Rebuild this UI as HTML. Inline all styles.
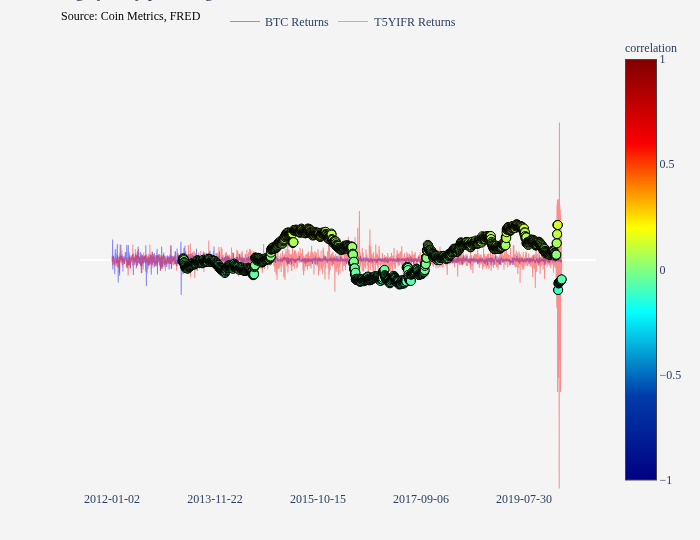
<!DOCTYPE html>
<html lang="en"><head><meta charset="utf-8"><title>BTC vs T5YIFR rolling correlation</title>
<style>
html,body{margin:0;padding:0;background:#f4f4f4;}
body{width:700px;height:540px;overflow:hidden;position:relative;font-family:"Liberation Serif","Times New Roman",serif;}
</style></head><body>
<svg width="700" height="540" viewBox="0 0 700 540" style="position:absolute;left:0;top:0">
<defs><linearGradient id="jet" x1="0" y1="1" x2="0" y2="0"><stop offset="0" stop-color="rgb(0,0,131)"/><stop offset="0.2" stop-color="rgb(0,60,170)"/><stop offset="0.4" stop-color="rgb(5,255,255)"/><stop offset="0.6" stop-color="rgb(255,255,0)"/><stop offset="0.8" stop-color="rgb(250,0,0)"/><stop offset="1" stop-color="rgb(128,0,0)"/></linearGradient></defs>
<rect x="80" y="259" width="516" height="2" fill="#ffffff"/>
<g opacity="0.45"><polyline points="112.0,260.3 112.2,260.7 112.4,260.0 112.6,239.6 112.8,269.4 113.0,262.0 113.2,259.8 113.4,255.6 113.6,257.4 113.9,257.5 114.1,259.9 114.3,260.9 114.5,260.5 114.7,274.3 114.9,260.2 115.1,254.8 115.3,248.9 115.5,259.9 115.7,253.7 115.9,256.5 116.1,255.5 116.3,262.6 116.5,255.5 116.7,263.4 116.9,258.3 117.2,247.1 117.4,243.9 117.6,261.9 117.8,261.6 118.0,263.1 118.2,282.6 118.4,261.1 118.6,261.2 118.8,259.6 119.0,260.5 119.2,258.8 119.4,256.7 119.6,275.8 119.8,253.1 120.0,261.0 120.2,244.4 120.4,260.6 120.7,256.5 120.9,258.2 121.1,258.3 121.3,256.1 121.5,259.9 121.7,258.5 121.9,254.4 122.1,262.5 122.3,256.1 122.5,261.6 122.7,257.8 122.9,271.5 123.1,260.3 123.3,260.9 123.5,256.4 123.7,257.2 123.9,256.9 124.2,260.6 124.4,262.7 124.6,263.9 124.8,258.2 125.0,260.3 125.2,254.2 125.4,252.0 125.6,256.9 125.8,257.6 126.0,254.4 126.2,253.6 126.4,261.9 126.6,251.8 126.8,244.9 127.0,268.3 127.2,260.6 127.5,258.8 127.7,262.4 127.9,257.2 128.1,265.6 128.3,244.9 128.5,255.3 128.7,259.4 128.9,252.1 129.1,265.0 129.3,254.2 129.5,257.3 129.7,260.8 129.9,261.9 130.1,263.5 130.3,261.1 130.5,267.8 130.7,258.2 131.0,260.5 131.2,262.9 131.4,258.8 131.6,256.8 131.8,258.2 132.0,257.6 132.2,255.9 132.4,257.9 132.6,254.4 132.8,261.2 133.0,254.2 133.2,267.2 133.4,275.0 133.6,263.8 133.8,259.1 134.0,257.8 134.2,264.2 134.5,260.5 134.7,265.1 134.9,257.3 135.1,263.6 135.3,257.0 135.5,260.6 135.7,253.7 135.9,257.5 136.1,261.6 136.3,258.2 136.5,255.1 136.7,267.3 136.9,258.8 137.1,264.2 137.3,251.3 137.5,265.1 137.8,261.6 138.0,254.4 138.2,246.6 138.4,262.9 138.6,256.0 138.8,257.6 139.0,261.9 139.2,258.6 139.4,264.2 139.6,256.7 139.8,260.9 140.0,263.6 140.2,261.0 140.4,252.1 140.6,265.9 140.8,260.0 141.0,256.6 141.3,273.2 141.5,253.7 141.7,266.4 141.9,257.6 142.1,265.4 142.3,259.7 142.5,255.1 142.7,260.4 142.9,261.0 143.1,261.7 143.3,263.5 143.5,256.7 143.7,261.5 143.9,262.4 144.1,256.8 144.3,256.5 144.5,256.4 144.8,262.4 145.0,262.6 145.2,256.9 145.4,255.1 145.6,271.6 145.8,245.2 146.0,260.4 146.2,257.0 146.4,286.0 146.6,260.2 146.8,259.1 147.0,273.6 147.2,267.8 147.4,259.1 147.6,263.4 147.8,263.5 148.1,258.0 148.3,256.8 148.5,265.4 148.7,258.5 148.9,259.7 149.1,258.8 149.3,259.3 149.5,257.7 149.7,262.4 149.9,264.2 150.1,258.5 150.3,255.0 150.5,260.0 150.7,254.6 150.9,257.6 151.1,264.1 151.3,274.7 151.6,261.1 151.8,256.1 152.0,262.5 152.2,252.0 152.4,252.7 152.6,265.1 152.8,262.4 153.0,255.0 153.2,254.0 153.4,262.8 153.6,259.6 153.8,257.7 154.0,261.2 154.2,257.8 154.4,253.1 154.6,267.3 154.8,257.6 155.1,256.3 155.3,255.2 155.5,260.7 155.7,257.0 155.9,265.5 156.1,258.9 156.3,263.6 156.5,255.7 156.7,257.5 156.9,253.0 157.1,248.8 157.3,262.3 157.5,274.6 157.7,255.5 157.9,256.2 158.1,262.7 158.3,261.5 158.6,257.5 158.8,260.1 159.0,254.2 159.2,258.8 159.4,262.9 159.6,265.5 159.8,259.2 160.0,258.9 160.2,261.4 160.4,270.2 160.6,261.5 160.8,257.2 161.0,261.0 161.2,268.8 161.4,257.4 161.6,246.6 161.9,261.6 162.1,261.1 162.3,268.8 162.5,260.1 162.7,257.6 162.9,258.3 163.1,256.3 163.3,256.6 163.5,254.1 163.7,258.2 163.9,263.7 164.1,255.6 164.3,259.7 164.5,257.8 164.7,264.9 164.9,260.7 165.1,255.9 165.4,262.6 165.6,260.1 165.8,258.2 166.0,265.1 166.2,262.3 166.4,265.8 166.6,263.8 166.8,267.0 167.0,260.3 167.2,256.1 167.4,262.3 167.6,260.1 167.8,262.2 168.0,259.8 168.2,257.5 168.4,256.4 168.7,262.2 168.9,264.3 169.1,269.4 169.3,261.4 169.5,264.6 169.7,257.0 169.9,258.7 170.1,256.0 170.3,263.9 170.5,260.7 170.7,258.3 170.9,245.6 171.1,259.2 171.3,269.1 171.5,258.8 171.7,258.4 171.9,262.0 172.2,255.7 172.4,260.0 172.6,261.9 172.8,257.2 173.0,257.0 173.2,260.7 173.4,259.5 173.6,259.1 173.8,260.6 174.0,260.6 174.2,256.7 174.4,257.6 174.6,261.4 174.8,263.7 175.0,264.5 175.2,251.6 175.4,263.6 175.7,262.4 175.9,259.8 176.1,261.5 176.3,262.7 176.5,265.9 176.7,256.3 176.9,261.9 177.1,248.6 177.3,257.7 177.5,263.8 177.7,262.7 177.9,256.5 178.1,258.9 178.3,260.7 178.5,255.1 178.7,262.8 178.9,259.6 179.2,260.4 179.4,261.0 179.6,266.0 179.8,260.0 180.0,258.7 180.2,265.8 180.4,255.0 180.6,258.1 180.8,246.6 181.0,241.7 181.2,295.0 181.4,261.5 181.6,261.3 181.8,259.4 182.0,257.2 182.2,257.2 182.5,261.4 182.7,260.9 182.9,274.5 183.1,257.3 183.3,258.2 183.5,256.4 183.7,264.6 183.9,247.9 184.1,262.5 184.3,264.8 184.5,259.4 184.7,262.4 184.9,245.8 185.1,258.6 185.3,254.2 185.5,261.4 185.7,259.9 186.0,257.2 186.2,263.2 186.4,261.1 186.6,258.1 186.8,254.9 187.0,254.9 187.2,259.3 187.4,267.0 187.6,257.5 187.8,261.3 188.0,258.1 188.2,262.6 188.4,261.4 188.6,259.2 188.8,254.1 189.0,258.3 189.2,263.8 189.5,257.6 189.7,261.9 189.9,258.4 190.1,254.1 190.3,261.3 190.5,262.6 190.7,258.1 190.9,258.8 191.1,260.8 191.3,258.1 191.5,261.0 191.7,259.3 191.9,252.9 192.1,259.5 192.3,258.2 192.5,257.5 192.8,261.1 193.0,255.8 193.2,264.2 193.4,263.1 193.6,260.3 193.8,255.5 194.0,257.9 194.2,262.5 194.4,259.2 194.6,257.7 194.8,259.7 195.0,261.3 195.2,260.6 195.4,261.7 195.6,253.6 195.8,259.2 196.0,257.9 196.3,259.9 196.5,248.8 196.7,259.3 196.9,256.4 197.1,263.6 197.3,271.0 197.5,264.3 197.7,262.0 197.9,256.4 198.1,262.4 198.3,258.5 198.5,261.5 198.7,257.7 198.9,258.5 199.1,261.1 199.3,264.2 199.6,259.7 199.8,265.3 200.0,266.5 200.2,256.9 200.4,259.9 200.6,257.7 200.8,259.6 201.0,258.7 201.2,259.4 201.4,262.2 201.6,262.2 201.8,260.6 202.0,260.0 202.2,260.2 202.4,260.3 202.6,261.3 202.8,259.9 203.1,263.2 203.3,251.4 203.5,261.8 203.7,264.0 203.9,260.4 204.1,256.7 204.3,263.1 204.5,259.2 204.7,253.2 204.9,259.5 205.1,261.3 205.3,260.8 205.5,262.8 205.7,263.8 205.9,260.7 206.1,255.5 206.3,252.9 206.6,260.4 206.8,261.5 207.0,253.5 207.2,258.6 207.4,261.0 207.6,255.7 207.8,255.6 208.0,259.5 208.2,260.5 208.4,258.9 208.6,254.9 208.8,260.0 209.0,257.1 209.2,261.4 209.4,259.8 209.6,260.5 209.8,261.4 210.1,250.7 210.3,261.8 210.5,262.7 210.7,262.3 210.9,262.8 211.1,258.6 211.3,261.9 211.5,260.6 211.7,257.9 211.9,259.8 212.1,258.8 212.3,258.8 212.5,260.2 212.7,262.2 212.9,259.3 213.1,260.7 213.4,251.3 213.6,260.2 213.8,262.4 214.0,246.4 214.2,261.0 214.4,256.8 214.6,257.9 214.8,259.8 215.0,257.2 215.2,257.4 215.4,265.4 215.6,258.1 215.8,268.8 216.0,257.0 216.2,260.9 216.4,257.6 216.6,260.3 216.9,257.9 217.1,260.1 217.3,259.7 217.5,257.4 217.7,261.0 217.9,263.0 218.1,258.8 218.3,261.8 218.5,260.1 218.7,259.9 218.9,268.5 219.1,255.6 219.3,258.6 219.5,251.6 219.7,259.4 219.9,259.5 220.1,267.5 220.4,260.7 220.6,263.5 220.8,262.5 221.0,259.1 221.2,262.6 221.4,263.2 221.6,260.9 221.8,260.4 222.0,261.0 222.2,257.1 222.4,258.4 222.6,260.6 222.8,261.0 223.0,255.0 223.2,259.4 223.4,259.7 223.7,259.7 223.9,261.3 224.1,260.2 224.3,260.3 224.5,257.3 224.7,258.0 224.9,260.6 225.1,257.0 225.3,261.3 225.5,258.7 225.7,255.7 225.9,261.2 226.1,258.7 226.3,258.4 226.5,258.7 226.7,260.1 226.9,265.0 227.2,256.1 227.4,259.9 227.6,258.7 227.8,261.7 228.0,258.0 228.2,255.5 228.4,266.7 228.6,258.0 228.8,259.9 229.0,257.5 229.2,258.0 229.4,259.1 229.6,261.5 229.8,261.5 230.0,258.9 230.2,260.9 230.4,259.3 230.7,260.2 230.9,260.6 231.1,261.1 231.3,258.9 231.5,259.2 231.7,260.9 231.9,260.1 232.1,258.6 232.3,263.0 232.5,259.2 232.7,261.3 232.9,260.3 233.1,262.1 233.3,252.7 233.5,263.5 233.7,258.8 234.0,257.8 234.2,260.2 234.4,263.8 234.6,260.8 234.8,257.9 235.0,259.2 235.2,262.2 235.4,257.6 235.6,259.6 235.8,259.5 236.0,263.6 236.2,259.5 236.4,266.0 236.6,256.7 236.8,258.6 237.0,261.6 237.2,261.0 237.5,257.1 237.7,261.0 237.9,261.0 238.1,259.0 238.3,260.3 238.5,260.4 238.7,259.2 238.9,259.0 239.1,258.9 239.3,259.5 239.5,253.9 239.7,259.9 239.9,257.6 240.1,260.1 240.3,259.5 240.5,258.3 240.8,263.6 241.0,266.6 241.2,262.0 241.4,257.8 241.6,261.9 241.8,260.3 242.0,259.9 242.2,257.3 242.4,259.8 242.6,262.1 242.8,260.8 243.0,259.3 243.2,258.9 243.4,259.3 243.6,260.8 243.8,266.4 244.0,258.4 244.3,259.9 244.5,259.4 244.7,258.8 244.9,260.5 245.1,260.8 245.3,254.0 245.5,258.4 245.7,261.7 245.9,260.4 246.1,260.7 246.3,257.8 246.5,258.3 246.7,260.6 246.9,259.2 247.1,258.3 247.3,260.0 247.5,261.3 247.8,258.5 248.0,261.5 248.2,260.9 248.4,256.4 248.6,260.0 248.8,259.9 249.0,260.8 249.2,260.9 249.4,258.1 249.6,258.1 249.8,261.4 250.0,260.1 250.2,260.5 250.4,260.4 250.6,262.1 250.8,258.3 251.0,261.4 251.3,258.8 251.5,262.6 251.7,261.8 251.9,258.1 252.1,260.5 252.3,259.6 252.5,259.6 252.7,260.0 252.9,256.0 253.1,258.7 253.3,260.8 253.5,261.1 253.7,259.2 253.9,258.1 254.1,263.0 254.3,261.4 254.6,260.4 254.8,258.6 255.0,259.2 255.2,260.3 255.4,258.7 255.6,262.0 255.8,260.1 256.0,260.5 256.2,258.7 256.4,256.7 256.6,259.0 256.8,260.3 257.0,259.6 257.2,259.6 257.4,260.3 257.6,260.2 257.8,261.8 258.1,259.7 258.3,256.4 258.5,259.9 258.7,261.7 258.9,259.3 259.1,260.0 259.3,259.5 259.5,260.4 259.7,260.3 259.9,259.0 260.1,259.7 260.3,261.1 260.5,261.3 260.7,261.0 260.9,262.7 261.1,259.6 261.4,259.5 261.6,261.1 261.8,258.6 262.0,259.9 262.2,257.8 262.4,259.5 262.6,259.1 262.8,258.6 263.0,260.6 263.2,259.1 263.4,259.5 263.6,259.1 263.8,257.5 264.0,261.6 264.2,259.4 264.4,260.2 264.6,258.5 264.9,259.4 265.1,259.6 265.3,259.6 265.5,258.0 265.7,260.1 265.9,261.8 266.1,259.8 266.3,259.8 266.5,259.5 266.7,262.9 266.9,261.8 267.1,260.6 267.3,260.8 267.5,259.2 267.7,259.8 267.9,260.2 268.1,260.3 268.4,259.0 268.6,259.1 268.8,260.5 269.0,260.3 269.2,257.6 269.4,260.2 269.6,261.4 269.8,259.2 270.0,260.2 270.2,258.3 270.4,260.9 270.6,258.7 270.8,258.6 271.0,259.6 271.2,264.8 271.4,259.3 271.6,258.6 271.9,260.5 272.1,260.2 272.3,261.8 272.5,258.5 272.7,258.2 272.9,259.6 273.1,260.4 273.3,261.0 273.5,261.2 273.7,258.3 273.9,259.1 274.1,259.8 274.3,260.9 274.5,260.5 274.7,258.6 274.9,258.8 275.2,260.9 275.4,261.0 275.6,263.0 275.8,259.8 276.0,261.7 276.2,256.2 276.4,258.2 276.6,259.2 276.8,258.5 277.0,259.0 277.2,259.4 277.4,259.9 277.6,259.5 277.8,260.7 278.0,259.9 278.2,260.0 278.4,261.6 278.7,260.3 278.9,260.1 279.1,259.9 279.3,260.0 279.5,260.6 279.7,259.1 279.9,261.2 280.1,261.7 280.3,261.2 280.5,259.4 280.7,258.3 280.9,259.5 281.1,260.1 281.3,260.9 281.5,259.8 281.7,259.6 281.9,261.6 282.2,259.3 282.4,261.1 282.6,260.9 282.8,258.6 283.0,260.3 283.2,259.4 283.4,257.1 283.6,258.0 283.8,258.3 284.0,260.4 284.2,259.6 284.4,260.3 284.6,256.8 284.8,259.6 285.0,259.1 285.2,258.3 285.5,258.2 285.7,260.4 285.9,260.1 286.1,259.0 286.3,259.9 286.5,260.7 286.7,261.9 286.9,257.3 287.1,260.6 287.3,264.5 287.5,260.0 287.7,261.5 287.9,257.3 288.1,264.1 288.3,260.0 288.5,258.0 288.7,260.8 289.0,261.1 289.2,263.4 289.4,261.2 289.6,259.8 289.8,259.2 290.0,259.5 290.2,259.9 290.4,260.4 290.6,259.5 290.8,260.0 291.0,260.9 291.2,260.3 291.4,264.4 291.6,262.2 291.8,258.8 292.0,258.3 292.2,258.6 292.5,258.8 292.7,260.5 292.9,259.0 293.1,258.9 293.3,259.7 293.5,260.8 293.7,259.6 293.9,259.6 294.1,260.9 294.3,260.4 294.5,261.2 294.7,260.9 294.9,259.0 295.1,260.2 295.3,259.3 295.5,262.8 295.8,260.8 296.0,258.9 296.2,261.3 296.4,258.8 296.6,261.1 296.8,260.2 297.0,259.1 297.2,258.9 297.4,259.7 297.6,259.9 297.8,259.3 298.0,260.5 298.2,258.6 298.4,259.9 298.6,260.0 298.8,258.1 299.0,260.3 299.3,258.7 299.5,255.8 299.7,259.4 299.9,259.3 300.1,260.9 300.3,258.6 300.5,261.4 300.7,261.4 300.9,261.0 301.1,261.3 301.3,260.3 301.5,259.4 301.7,260.6 301.9,260.9 302.1,260.2 302.3,259.7 302.5,258.4 302.8,260.6 303.0,260.9 303.2,258.7 303.4,260.1 303.6,260.7 303.8,259.9 304.0,260.7 304.2,260.7 304.4,258.5 304.6,259.1 304.8,261.3 305.0,260.9 305.2,263.8 305.4,258.1 305.6,259.9 305.8,260.7 306.1,261.2 306.3,261.6 306.5,259.0 306.7,259.6 306.9,258.9 307.1,260.8 307.3,258.7 307.5,261.1 307.7,260.9 307.9,260.5 308.1,257.8 308.3,259.3 308.5,262.0 308.7,258.6 308.9,259.7 309.1,259.9 309.3,260.8 309.6,260.2 309.8,260.2 310.0,259.5 310.2,260.0 310.4,259.8 310.6,261.9 310.8,259.8 311.0,261.0 311.2,258.3 311.4,261.2 311.6,259.8 311.8,261.1 312.0,260.1 312.2,260.8 312.4,264.0 312.6,259.4 312.9,260.0 313.1,259.8 313.3,260.2 313.5,258.4 313.7,259.8 313.9,259.7 314.1,259.2 314.3,259.8 314.5,258.4 314.7,261.3 314.9,261.1 315.1,264.2 315.3,259.1 315.5,256.7 315.7,260.2 315.9,258.3 316.1,260.2 316.4,259.3 316.6,259.6 316.8,260.2 317.0,260.0 317.2,264.2 317.4,260.6 317.6,258.7 317.8,260.9 318.0,258.6 318.2,260.1 318.4,258.7 318.6,259.1 318.8,261.3 319.0,259.4 319.2,258.1 319.4,259.4 319.6,259.7 319.9,261.4 320.1,258.8 320.3,258.7 320.5,261.5 320.7,258.4 320.9,259.6 321.1,261.1 321.3,260.0 321.5,259.5 321.7,259.3 321.9,259.1 322.1,258.3 322.3,260.1 322.5,261.2 322.7,260.9 322.9,259.4 323.1,259.2 323.4,260.6 323.6,258.2 323.8,259.5 324.0,259.6 324.2,256.8 324.4,257.1 324.6,260.3 324.8,258.3 325.0,259.0 325.2,259.3 325.4,260.0 325.6,256.1 325.8,261.0 326.0,259.6 326.2,259.7 326.4,259.6 326.7,259.3 326.9,259.0 327.1,263.0 327.3,260.1 327.5,259.5 327.7,260.9 327.9,259.2 328.1,260.6 328.3,260.0 328.5,259.1 328.7,260.7 328.9,258.5 329.1,260.6 329.3,259.1 329.5,260.3 329.7,261.3 329.9,260.5 330.2,258.1 330.4,259.9 330.6,258.8 330.8,258.8 331.0,256.7 331.2,260.0 331.4,261.3 331.6,258.2 331.8,259.9 332.0,261.2 332.2,260.0 332.4,258.9 332.6,260.9 332.8,258.7 333.0,261.6 333.2,264.2 333.4,257.9 333.7,260.2 333.9,260.2 334.1,260.1 334.3,257.6 334.5,259.6 334.7,258.5 334.9,260.0 335.1,260.4 335.3,259.3 335.5,259.0 335.7,259.4 335.9,259.9 336.1,259.9 336.3,259.8 336.5,260.0 336.7,256.1 337.0,257.2 337.2,261.4 337.4,261.3 337.6,258.5 337.8,259.3 338.0,260.6 338.2,260.8 338.4,260.5 338.6,261.2 338.8,259.9 339.0,260.3 339.2,260.3 339.4,259.5 339.6,261.1 339.8,260.5 340.0,260.9 340.2,259.5 340.5,260.9 340.7,256.8 340.9,260.3 341.1,257.3 341.3,258.9 341.5,260.6 341.7,259.5 341.9,260.1 342.1,258.3 342.3,261.4 342.5,260.5 342.7,259.9 342.9,260.3 343.1,260.2 343.3,261.3 343.5,260.1 343.8,258.5 344.0,259.7 344.2,261.2 344.4,260.5 344.6,259.5 344.8,260.5 345.0,260.0 345.2,261.4 345.4,258.3 345.6,259.0 345.8,260.6 346.0,259.7 346.2,260.2 346.4,264.2 346.6,259.6 346.8,260.1 347.0,259.4 347.3,259.3 347.5,259.8 347.7,258.5 347.9,257.8 348.1,263.5 348.3,259.8 348.5,261.0 348.7,260.0 348.9,260.0 349.1,260.6 349.3,260.6 349.5,258.7 349.7,263.0 349.9,259.0 350.1,260.1 350.3,262.4 350.5,260.0 350.8,261.5 351.0,259.6 351.2,260.5 351.4,260.0 351.6,260.3 351.8,259.1 352.0,259.0 352.2,260.2 352.4,258.4 352.6,259.1 352.8,260.5 353.0,259.3 353.2,259.0 353.4,258.8 353.6,260.0 353.8,258.7 354.0,260.0 354.3,259.7 354.5,261.7 354.7,259.5 354.9,258.0 355.1,260.0 355.3,259.9 355.5,260.2 355.7,258.3 355.9,261.0 356.1,259.9 356.3,259.6 356.5,258.4 356.7,261.0 356.9,259.5 357.1,261.2 357.3,259.5 357.6,258.7 357.8,260.0 358.0,259.0 358.2,260.3 358.4,256.8 358.6,259.8 358.8,259.7 359.0,259.6 359.2,259.4 359.4,259.1 359.6,259.6 359.8,258.1 360.0,260.1 360.2,259.6 360.4,255.8 360.6,259.8 360.8,261.3 361.1,260.2 361.3,260.5 361.5,260.3 361.7,259.4 361.9,258.6 362.1,260.7 362.3,260.9 362.5,260.5 362.7,260.3 362.9,260.3 363.1,259.9 363.3,260.2 363.5,259.9 363.7,260.2 363.9,257.2 364.1,259.3 364.4,260.5 364.6,259.6 364.8,257.6 365.0,260.0 365.2,257.7 365.4,261.7 365.6,260.6 365.8,260.6 366.0,259.3 366.2,258.8 366.4,259.7 366.6,259.9 366.8,259.2 367.0,260.1 367.2,260.6 367.4,260.5 367.6,258.9 367.9,257.8 368.1,259.9 368.3,258.0 368.5,260.3 368.7,261.5 368.9,261.5 369.1,260.2 369.3,261.0 369.5,261.5 369.7,260.0 369.9,260.2 370.1,260.7 370.3,259.9 370.5,258.4 370.7,259.2 370.9,259.9 371.1,259.3 371.4,260.7 371.6,259.6 371.8,261.3 372.0,261.1 372.2,258.7 372.4,262.7 372.6,258.7 372.8,261.2 373.0,260.4 373.2,259.9 373.4,260.6 373.6,259.4 373.8,260.2 374.0,260.3 374.2,259.8 374.4,260.3 374.6,259.0 374.9,260.5 375.1,258.8 375.3,260.5 375.5,260.4 375.7,260.6 375.9,259.4 376.1,262.8 376.3,259.2 376.5,260.1 376.7,259.2 376.9,261.3 377.1,259.5 377.3,262.5 377.5,259.0 377.7,260.2 377.9,259.6 378.2,260.8 378.4,259.7 378.6,259.1 378.8,261.0 379.0,258.8 379.2,259.0 379.4,260.7 379.6,258.2 379.8,260.7 380.0,259.6 380.2,259.1 380.4,260.2 380.6,260.5 380.8,259.4 381.0,259.8 381.2,262.0 381.4,260.7 381.7,259.7 381.9,259.2 382.1,259.1 382.3,258.3 382.5,260.6 382.7,260.5 382.9,260.2 383.1,261.3 383.3,259.1 383.5,259.6 383.7,259.6 383.9,261.8 384.1,258.0 384.3,260.2 384.5,260.4 384.7,260.0 384.9,262.2 385.2,261.1 385.4,260.7 385.6,257.5 385.8,260.4 386.0,259.6 386.2,260.0 386.4,260.2 386.6,259.5 386.8,261.6 387.0,261.5 387.2,262.7 387.4,260.2 387.6,258.2 387.8,261.0 388.0,262.8 388.2,259.8 388.5,258.7 388.7,261.7 388.9,259.2 389.1,260.7 389.3,259.0 389.5,257.5 389.7,260.0 389.9,258.6 390.1,260.0 390.3,260.5 390.5,258.7 390.7,260.9 390.9,259.5 391.1,260.5 391.3,260.2 391.5,259.6 391.7,259.5 392.0,258.4 392.2,259.3 392.4,259.3 392.6,261.5 392.8,260.9 393.0,258.7 393.2,260.7 393.4,260.2 393.6,259.6 393.8,260.4 394.0,260.7 394.2,258.5 394.4,259.7 394.6,260.1 394.8,259.1 395.0,260.2 395.2,259.8 395.5,259.4 395.7,259.2 395.9,260.3 396.1,262.3 396.3,260.3 396.5,259.2 396.7,260.7 396.9,260.2 397.1,260.6 397.3,261.1 397.5,257.6 397.7,259.9 397.9,259.4 398.1,259.2 398.3,261.9 398.5,260.9 398.8,258.3 399.0,260.4 399.2,259.5 399.4,261.1 399.6,260.1 399.8,259.5 400.0,260.4 400.2,261.0 400.4,260.0 400.6,259.8 400.8,259.9 401.0,260.5 401.2,258.9 401.4,260.0 401.6,259.9 401.8,259.5 402.0,260.7 402.3,258.8 402.5,259.7 402.7,259.2 402.9,260.5 403.1,259.6 403.3,260.1 403.5,260.4 403.7,258.5 403.9,260.4 404.1,259.3 404.3,259.8 404.5,259.7 404.7,260.8 404.9,260.7 405.1,261.7 405.3,260.2 405.6,258.7 405.8,258.7 406.0,261.7 406.2,264.3 406.4,260.3 406.6,258.5 406.8,260.3 407.0,260.2 407.2,260.0 407.4,259.3 407.6,257.6 407.8,259.5 408.0,261.0 408.2,260.2 408.4,257.9 408.6,260.0 408.8,258.2 409.1,264.3 409.3,260.2 409.5,258.8 409.7,260.8 409.9,259.2 410.1,260.5 410.3,260.0 410.5,258.9 410.7,260.6 410.9,256.4 411.1,261.3 411.3,260.1 411.5,259.0 411.7,258.2 411.9,261.6 412.1,261.4 412.3,258.8 412.6,261.6 412.8,260.2 413.0,259.8 413.2,259.8 413.4,259.3 413.6,263.9 413.8,260.1 414.0,258.2 414.2,262.0 414.4,260.9 414.6,258.9 414.8,259.7 415.0,259.1 415.2,260.0 415.4,260.4 415.6,260.2 415.8,259.4 416.1,259.2 416.3,260.8 416.5,259.9 416.7,262.2 416.9,259.2 417.1,260.8 417.3,260.0 417.5,259.3 417.7,261.3 417.9,260.1 418.1,257.5 418.3,259.7 418.5,261.0 418.7,256.6 418.9,261.4 419.1,260.7 419.4,259.7 419.6,261.3 419.8,261.7 420.0,260.6 420.2,260.2 420.4,261.8 420.6,261.5 420.8,259.1 421.0,259.8 421.2,259.8 421.4,259.6 421.6,258.5 421.8,260.9 422.0,260.1 422.2,260.3 422.4,261.4 422.6,259.4 422.9,259.9 423.1,260.3 423.3,258.8 423.5,259.9 423.7,260.8 423.9,260.0 424.1,261.3 424.3,259.2 424.5,260.2 424.7,258.6 424.9,259.9 425.1,259.3 425.3,261.4 425.5,260.8 425.7,260.5 425.9,261.9 426.1,261.5 426.4,260.7 426.6,259.3 426.8,258.5 427.0,260.0 427.2,259.6 427.4,258.2 427.6,259.7 427.8,258.3 428.0,261.5 428.2,256.7 428.4,258.1 428.6,261.6 428.8,258.3 429.0,260.9 429.2,261.0 429.4,259.7 429.7,256.9 429.9,259.5 430.1,258.1 430.3,261.4 430.5,260.1 430.7,259.2 430.9,259.1 431.1,260.6 431.3,261.6 431.5,258.7 431.7,259.4 431.9,258.2 432.1,260.7 432.3,260.2 432.5,262.4 432.7,259.9 432.9,258.7 433.2,259.3 433.4,260.9 433.6,258.3 433.8,260.8 434.0,260.3 434.2,258.5 434.4,259.1 434.6,261.1 434.8,264.7 435.0,259.5 435.2,260.6 435.4,264.7 435.6,259.3 435.8,259.7 436.0,258.7 436.2,259.8 436.4,259.9 436.7,258.8 436.9,259.2 437.1,258.3 437.3,258.6 437.5,259.0 437.7,260.7 437.9,259.5 438.1,257.5 438.3,260.7 438.5,260.6 438.7,257.8 438.9,259.3 439.1,260.7 439.3,260.4 439.5,259.1 439.7,260.3 440.0,260.0 440.2,263.3 440.4,259.1 440.6,262.7 440.8,261.3 441.0,258.9 441.2,261.1 441.4,262.7 441.6,258.6 441.8,262.1 442.0,258.8 442.2,259.0 442.4,259.7 442.6,260.8 442.8,260.6 443.0,259.9 443.2,261.5 443.5,260.4 443.7,261.5 443.9,263.1 444.1,260.6 444.3,255.2 444.5,259.5 444.7,258.8 444.9,260.1 445.1,260.1 445.3,258.7 445.5,258.7 445.7,259.7 445.9,259.8 446.1,257.1 446.3,261.1 446.5,260.1 446.8,260.0 447.0,260.3 447.2,258.9 447.4,259.9 447.6,261.1 447.8,263.3 448.0,260.5 448.2,259.7 448.4,259.1 448.6,261.5 448.8,260.6 449.0,259.5 449.2,257.6 449.4,257.3 449.6,257.8 449.8,261.4 450.0,260.2 450.3,259.2 450.5,259.7 450.7,262.9 450.9,261.4 451.1,258.5 451.3,259.9 451.5,256.1 451.7,258.0 451.9,260.2 452.1,262.7 452.3,261.8 452.5,260.0 452.7,259.6 452.9,260.2 453.1,263.3 453.3,258.3 453.5,255.1 453.8,262.2 454.0,260.3 454.2,261.8 454.4,260.3 454.6,261.7 454.8,259.3 455.0,260.6 455.2,261.8 455.4,263.3 455.6,259.5 455.8,262.9 456.0,259.2 456.2,258.3 456.4,260.6 456.6,261.6 456.8,262.8 457.0,258.5 457.3,261.0 457.5,260.8 457.7,258.5 457.9,255.0 458.1,261.2 458.3,261.0 458.5,261.6 458.7,258.0 458.9,258.3 459.1,263.3 459.3,260.9 459.5,260.6 459.7,259.7 459.9,260.5 460.1,259.4 460.3,259.6 460.6,259.0 460.8,260.3 461.0,258.6 461.2,261.1 461.4,260.9 461.6,259.0 461.8,265.0 462.0,258.7 462.2,260.5 462.4,263.6 462.6,261.5 462.8,257.4 463.0,261.2 463.2,264.1 463.4,261.7 463.6,255.0 463.8,259.2 464.1,259.9 464.3,259.5 464.5,261.6 464.7,259.2 464.9,261.5 465.1,260.7 465.3,258.3 465.5,258.8 465.7,259.4 465.9,260.1 466.1,261.2 466.3,259.8 466.5,261.1 466.7,258.1 466.9,256.3 467.1,259.6 467.3,260.6 467.6,259.6 467.8,258.8 468.0,260.5 468.2,262.3 468.4,259.9 468.6,259.1 468.8,259.0 469.0,262.4 469.2,260.0 469.4,260.7 469.6,261.5 469.8,261.3 470.0,258.9 470.2,263.3 470.4,262.9 470.6,260.6 470.9,261.2 471.1,258.1 471.3,259.9 471.5,259.4 471.7,260.9 471.9,259.2 472.1,261.3 472.3,258.7 472.5,259.9 472.7,259.6 472.9,259.9 473.1,260.5 473.3,259.8 473.5,259.7 473.7,257.5 473.9,261.4 474.1,259.2 474.4,259.7 474.6,259.0 474.8,261.2 475.0,258.9 475.2,260.6 475.4,261.5 475.6,262.0 475.8,261.5 476.0,260.8 476.2,258.5 476.4,261.6 476.6,261.5 476.8,261.0 477.0,261.0 477.2,260.1 477.4,259.4 477.6,261.3 477.9,264.4 478.1,258.7 478.3,261.1 478.5,260.9 478.7,263.1 478.9,260.4 479.1,261.4 479.3,261.3 479.5,261.1 479.7,258.3 479.9,261.0 480.1,260.1 480.3,258.6 480.5,260.9 480.7,258.3 480.9,261.1 481.2,262.1 481.4,259.4 481.6,261.2 481.8,260.6 482.0,260.8 482.2,258.4 482.4,260.8 482.6,260.2 482.8,260.9 483.0,260.0 483.2,261.4 483.4,260.4 483.6,260.9 483.8,261.7 484.0,260.7 484.2,263.5 484.4,260.3 484.7,260.7 484.9,259.4 485.1,262.7 485.3,264.3 485.5,259.9 485.7,261.0 485.9,260.6 486.1,258.7 486.3,260.5 486.5,261.6 486.7,259.5 486.9,257.9 487.1,260.3 487.3,259.3 487.5,265.1 487.7,260.0 487.9,260.0 488.2,259.3 488.4,260.3 488.6,259.4 488.8,259.0 489.0,260.0 489.2,259.1 489.4,261.6 489.6,258.7 489.8,260.0 490.0,259.2 490.2,258.4 490.4,262.0 490.6,257.6 490.8,264.9 491.0,258.4 491.2,260.1 491.5,262.7 491.7,257.6 491.9,258.4 492.1,261.6 492.3,260.2 492.5,259.4 492.7,260.0 492.9,258.9 493.1,260.2 493.3,261.8 493.5,259.6 493.7,260.6 493.9,261.4 494.1,265.0 494.3,259.4 494.5,260.4 494.7,259.4 495.0,259.3 495.2,258.8 495.4,259.3 495.6,255.1 495.8,255.1 496.0,259.2 496.2,260.2 496.4,261.4 496.6,259.4 496.8,259.9 497.0,262.2 497.2,260.9 497.4,259.9 497.6,260.0 497.8,262.2 498.0,259.7 498.2,258.6 498.5,258.2 498.7,260.5 498.9,259.7 499.1,264.8 499.3,259.7 499.5,261.0 499.7,261.1 499.9,261.9 500.1,258.6 500.3,264.8 500.5,260.1 500.7,259.8 500.9,259.1 501.1,258.9 501.3,259.7 501.5,257.4 501.8,260.6 502.0,260.1 502.2,259.0 502.4,260.0 502.6,262.6 502.8,260.5 503.0,259.6 503.2,262.0 503.4,259.1 503.6,259.9 503.8,259.4 504.0,259.8 504.2,260.9 504.4,260.7 504.6,259.2 504.8,259.9 505.0,260.4 505.3,259.6 505.5,260.0 505.7,259.2 505.9,259.2 506.1,260.1 506.3,258.9 506.5,261.4 506.7,259.5 506.9,259.0 507.1,259.3 507.3,259.5 507.5,259.9 507.7,260.2 507.9,259.8 508.1,259.0 508.3,261.7 508.5,261.1 508.8,260.2 509.0,261.1 509.2,260.4 509.4,259.7 509.6,260.1 509.8,264.9 510.0,261.2 510.2,261.2 510.4,259.6 510.6,260.7 510.8,262.6 511.0,260.5 511.2,261.3 511.4,261.5 511.6,260.8 511.8,261.8 512.1,260.8 512.3,261.7 512.5,258.1 512.7,265.0 512.9,261.1 513.1,260.2 513.3,264.6 513.5,259.5 513.7,260.0 513.9,257.6 514.1,260.1 514.3,259.6 514.5,260.7 514.7,259.9 514.9,259.3 515.1,259.7 515.3,259.9 515.6,259.4 515.8,261.1 516.0,260.8 516.2,260.6 516.4,258.7 516.6,260.6 516.8,256.0 517.0,260.2 517.2,260.1 517.4,258.2 517.6,259.1 517.8,259.2 518.0,262.4 518.2,259.2 518.4,259.4 518.6,261.1 518.8,261.4 519.1,261.3 519.3,258.6 519.5,258.8 519.7,263.9 519.9,260.0 520.1,259.7 520.3,260.2 520.5,261.2 520.7,258.7 520.9,260.4 521.1,260.0 521.3,260.8 521.5,260.2 521.7,259.4 521.9,259.0 522.1,257.2 522.4,261.2 522.6,258.3 522.8,259.6 523.0,262.0 523.2,259.5 523.4,260.7 523.6,259.8 523.8,262.4 524.0,260.1 524.2,259.4 524.4,261.6 524.6,259.7 524.8,258.5 525.0,259.6 525.2,260.7 525.4,258.7 525.6,260.9 525.9,260.9 526.1,262.5 526.3,259.3 526.5,260.8 526.7,258.1 526.9,259.5 527.1,260.2 527.3,260.5 527.5,260.0 527.7,259.9 527.9,258.1 528.1,259.5 528.3,260.4 528.5,260.7 528.7,260.8 528.9,261.2 529.1,264.0 529.4,257.9 529.6,258.4 529.8,259.6 530.0,259.3 530.2,261.3 530.4,260.9 530.6,259.9 530.8,260.2 531.0,261.5 531.2,258.9 531.4,259.1 531.6,261.1 531.8,260.6 532.0,261.7 532.2,260.5 532.4,260.9 532.7,259.4 532.9,258.9 533.1,260.0 533.3,254.8 533.5,260.5 533.7,261.2 533.9,260.1 534.1,259.8 534.3,261.3 534.5,259.9 534.7,261.2 534.9,262.6 535.1,260.9 535.3,263.2 535.5,260.6 535.7,260.3 535.9,260.4 536.2,260.1 536.4,261.3 536.6,258.1 536.8,259.2 537.0,260.8 537.2,259.0 537.4,259.9 537.6,259.2 537.8,261.6 538.0,263.0 538.2,261.8 538.4,260.6 538.6,259.2 538.8,260.3 539.0,260.7 539.2,264.8 539.5,257.5 539.7,260.5 539.9,257.9 540.1,260.9 540.3,260.6 540.5,260.6 540.7,261.1 540.9,260.5 541.1,259.3 541.3,260.5 541.5,261.5 541.7,259.9 541.9,260.1 542.1,258.6 542.3,261.4 542.5,259.4 542.7,259.1 543.0,259.5 543.2,259.0 543.4,259.7 543.6,261.6 543.8,261.0 544.0,261.7 544.2,261.8 544.4,257.1 544.6,260.6 544.8,265.1 545.0,262.8 545.2,258.3 545.4,258.3 545.6,261.7 545.8,259.0 546.0,258.8 546.2,260.5 546.5,259.1 546.7,257.3 546.9,260.0 547.1,260.2 547.3,260.8 547.5,261.2 547.7,260.3 547.9,259.7 548.1,259.2 548.3,258.0 548.5,259.5 548.7,261.2 548.9,260.8 549.1,262.5 549.3,259.8 549.5,257.9 549.8,262.9 550.0,261.3 550.2,258.6 550.4,258.1 550.6,260.2 550.8,260.9 551.0,258.7 551.2,259.6 551.4,259.1 551.6,258.6 551.8,258.4 552.0,260.2 552.2,259.6 552.4,257.8 552.6,256.8 552.8,262.2 553.0,258.9 553.3,259.6 553.5,258.6 553.7,260.5 553.9,258.2 554.1,260.1 554.3,259.8 554.5,261.1 554.7,258.7 554.9,259.2 555.1,259.2 555.3,262.6 555.5,258.2 555.7,260.4 555.9,257.8 556.1,260.4 556.3,260.8 556.5,260.5 556.8,260.3 557.0,260.4 557.2,258.0 557.4,259.3 557.6,254.6 557.8,258.8 558.0,259.1 558.2,259.7 558.4,260.9 558.6,260.5 558.8,260.6 559.0,261.4 559.2,254.6 559.4,260.5 559.6,260.0 559.8,259.9 560.0,258.4 560.3,260.7 560.5,261.4 560.7,261.3 560.9,259.7 561.1,260.8 561.3,261.2 561.5,262.3 561.7,261.5" fill="none" stroke="#0000ff" stroke-width="1.02"/></g>
<g opacity="0.42"><polyline points="112.0,261.3 112.2,256.5 112.4,260.2 112.6,263.8 112.8,263.7 113.0,265.6 113.2,258.9 113.4,256.1 113.6,263.7 113.9,261.1 114.1,264.0 114.3,260.1 114.5,264.3 114.7,263.0 114.9,265.2 115.1,261.8 115.3,261.4 115.5,260.8 115.7,260.8 115.9,263.6 116.1,258.2 116.3,266.2 116.5,259.6 116.7,263.5 116.9,259.7 117.2,259.1 117.4,267.3 117.6,257.8 117.8,255.4 118.0,257.4 118.2,258.9 118.4,267.7 118.6,260.7 118.8,263.4 119.0,256.4 119.2,261.3 119.4,262.4 119.6,272.9 119.8,257.5 120.0,262.2 120.2,261.1 120.4,256.3 120.7,259.9 120.9,259.1 121.1,244.9 121.3,262.1 121.5,261.9 121.7,258.4 121.9,250.4 122.1,265.3 122.3,261.0 122.5,263.6 122.7,265.1 122.9,258.1 123.1,262.9 123.3,259.1 123.5,259.8 123.7,259.7 123.9,260.0 124.2,264.0 124.4,260.4 124.6,259.4 124.8,259.0 125.0,261.2 125.2,256.8 125.4,258.2 125.6,259.6 125.8,258.0 126.0,259.6 126.2,257.8 126.4,267.2 126.6,264.8 126.8,261.6 127.0,259.8 127.2,267.8 127.5,261.2 127.7,259.7 127.9,261.1 128.1,275.7 128.3,270.1 128.5,259.9 128.7,267.5 128.9,256.8 129.1,262.5 129.3,256.4 129.5,266.5 129.7,258.8 129.9,259.8 130.1,263.3 130.3,269.0 130.5,256.0 130.7,258.8 131.0,255.0 131.2,260.5 131.4,259.6 131.6,258.8 131.8,257.6 132.0,258.6 132.2,257.3 132.4,261.9 132.6,265.4 132.8,244.4 133.0,259.6 133.2,257.0 133.4,261.8 133.6,253.2 133.8,259.0 134.0,256.3 134.2,262.5 134.5,260.4 134.7,259.4 134.9,261.3 135.1,259.1 135.3,248.9 135.5,262.1 135.7,261.0 135.9,259.5 136.1,263.5 136.3,268.7 136.5,256.1 136.7,257.2 136.9,265.5 137.1,265.1 137.3,254.7 137.5,255.8 137.8,257.7 138.0,258.2 138.2,248.7 138.4,260.1 138.6,255.4 138.8,251.4 139.0,263.3 139.2,257.6 139.4,259.5 139.6,262.2 139.8,262.9 140.0,258.8 140.2,260.2 140.4,257.1 140.6,266.2 140.8,262.3 141.0,256.1 141.3,260.0 141.5,262.5 141.7,261.7 141.9,273.0 142.1,264.9 142.3,258.1 142.5,259.7 142.7,255.4 142.9,260.9 143.1,260.5 143.3,269.6 143.5,260.3 143.7,252.6 143.9,257.6 144.1,260.4 144.3,255.5 144.5,256.9 144.8,258.7 145.0,261.2 145.2,259.4 145.4,256.8 145.6,262.8 145.8,258.1 146.0,258.2 146.2,255.1 146.4,257.2 146.6,262.3 146.8,254.3 147.0,259.7 147.2,262.5 147.4,258.7 147.6,260.9 147.8,256.0 148.1,269.3 148.3,263.9 148.5,260.8 148.7,253.8 148.9,256.3 149.1,263.5 149.3,266.1 149.5,261.1 149.7,264.4 149.9,244.4 150.1,259.3 150.3,260.0 150.5,261.5 150.7,254.6 150.9,263.3 151.1,264.7 151.3,255.9 151.6,255.2 151.8,261.2 152.0,257.7 152.2,251.6 152.4,262.9 152.6,260.6 152.8,258.3 153.0,267.5 153.2,260.5 153.4,257.3 153.6,260.4 153.8,256.3 154.0,257.3 154.2,261.4 154.4,258.0 154.6,258.4 154.8,265.9 155.1,263.0 155.3,262.8 155.5,261.9 155.7,261.7 155.9,265.1 156.1,259.9 156.3,266.6 156.5,256.6 156.7,259.1 156.9,255.1 157.1,258.8 157.3,261.8 157.5,265.1 157.7,255.3 157.9,260.0 158.1,258.7 158.3,257.4 158.6,255.8 158.8,260.2 159.0,253.9 159.2,260.4 159.4,260.1 159.6,257.7 159.8,256.4 160.0,255.1 160.2,266.6 160.4,255.3 160.6,271.0 160.8,262.1 161.0,257.4 161.2,255.9 161.4,263.7 161.6,266.1 161.9,256.7 162.1,257.9 162.3,263.7 162.5,261.2 162.7,267.1 162.9,256.0 163.1,261.9 163.3,255.6 163.5,267.4 163.7,257.4 163.9,252.2 164.1,259.6 164.3,259.5 164.5,266.7 164.7,258.8 164.9,260.0 165.1,262.1 165.4,271.2 165.6,259.8 165.8,263.7 166.0,261.8 166.2,259.0 166.4,260.3 166.6,260.1 166.8,256.8 167.0,264.3 167.2,255.1 167.4,264.1 167.6,263.4 167.8,259.7 168.0,257.3 168.2,259.2 168.4,261.7 168.7,262.6 168.9,262.0 169.1,263.5 169.3,258.0 169.5,260.8 169.7,254.5 169.9,262.7 170.1,261.1 170.3,258.5 170.5,264.1 170.7,262.4 170.9,245.2 171.1,260.3 171.3,254.9 171.5,263.7 171.7,268.7 171.9,258.2 172.2,260.3 172.4,259.1 172.6,262.5 172.8,262.3 173.0,264.5 173.2,256.5 173.4,265.5 173.6,256.7 173.8,261.0 174.0,264.1 174.2,262.5 174.4,256.7 174.6,255.1 174.8,258.4 175.0,259.8 175.2,264.0 175.4,250.9 175.7,261.6 175.9,264.3 176.1,262.0 176.3,261.6 176.5,270.6 176.7,261.7 176.9,263.0 177.1,262.0 177.3,266.3 177.5,253.3 177.7,264.5 177.9,259.1 178.1,259.0 178.3,256.6 178.5,253.5 178.7,258.7 178.9,257.6 179.2,261.7 179.4,254.8 179.6,265.0 179.8,261.0 180.0,259.1 180.2,257.5 180.4,257.2 180.6,256.0 180.8,258.1 181.0,260.0 181.2,259.4 181.4,254.9 181.6,259.0 181.8,256.8 182.0,260.6 182.2,266.8 182.5,262.3 182.7,258.9 182.9,254.1 183.1,254.8 183.3,253.8 183.5,262.7 183.7,257.2 183.9,260.2 184.1,257.7 184.3,260.3 184.5,265.3 184.7,257.4 184.9,257.4 185.1,257.0 185.3,263.3 185.5,252.2 185.7,251.4 186.0,254.7 186.2,254.6 186.4,261.8 186.6,269.9 186.8,256.1 187.0,263.7 187.2,261.0 187.4,255.7 187.6,258.9 187.8,258.2 188.0,257.3 188.2,267.6 188.4,244.9 188.6,261.5 188.8,261.3 189.0,257.7 189.2,260.6 189.5,263.5 189.7,260.6 189.9,261.7 190.1,265.6 190.3,243.5 190.5,266.0 190.7,277.2 190.9,264.0 191.1,264.2 191.3,254.2 191.5,259.5 191.7,256.6 191.9,257.6 192.1,264.0 192.3,256.6 192.5,259.5 192.8,252.0 193.0,259.3 193.2,260.4 193.4,257.0 193.6,256.9 193.8,268.0 194.0,254.8 194.2,251.0 194.4,256.5 194.6,265.2 194.8,278.1 195.0,261.4 195.2,256.9 195.4,258.1 195.6,264.6 195.8,256.0 196.0,266.4 196.3,266.2 196.5,260.3 196.7,262.9 196.9,263.3 197.1,266.9 197.3,255.3 197.5,265.3 197.7,258.3 197.9,256.6 198.1,260.5 198.3,259.0 198.5,255.5 198.7,252.8 198.9,255.7 199.1,266.6 199.3,269.0 199.6,263.0 199.8,265.4 200.0,257.6 200.2,259.6 200.4,261.3 200.6,255.0 200.8,250.9 201.0,260.4 201.2,258.5 201.4,255.1 201.6,261.8 201.8,258.8 202.0,264.7 202.2,260.0 202.4,258.6 202.6,260.6 202.8,259.2 203.1,256.9 203.3,258.1 203.5,263.5 203.7,263.0 203.9,271.9 204.1,252.2 204.3,258.2 204.5,258.1 204.7,260.8 204.9,257.9 205.1,257.6 205.3,263.6 205.5,260.8 205.7,254.6 205.9,266.2 206.1,264.6 206.3,257.3 206.6,263.9 206.8,256.6 207.0,265.2 207.2,259.0 207.4,256.3 207.6,258.3 207.8,256.4 208.0,260.9 208.2,260.8 208.4,260.2 208.6,257.4 208.8,240.4 209.0,260.9 209.2,251.1 209.4,261.1 209.6,265.3 209.8,261.3 210.1,258.2 210.3,259.2 210.5,259.4 210.7,257.4 210.9,257.3 211.1,255.7 211.3,265.6 211.5,259.9 211.7,264.5 211.9,258.8 212.1,260.3 212.3,259.2 212.5,262.2 212.7,263.9 212.9,261.1 213.1,256.8 213.4,256.3 213.6,267.8 213.8,258.7 214.0,258.6 214.2,266.9 214.4,265.1 214.6,262.5 214.8,258.1 215.0,271.1 215.2,261.9 215.4,262.6 215.6,259.2 215.8,253.3 216.0,253.7 216.2,261.9 216.4,261.9 216.6,257.7 216.9,254.5 217.1,253.2 217.3,258.4 217.5,253.1 217.7,264.3 217.9,265.5 218.1,273.4 218.3,264.2 218.5,257.2 218.7,255.9 218.9,247.0 219.1,257.2 219.3,259.2 219.5,264.6 219.7,262.9 219.9,262.8 220.1,261.0 220.4,263.1 220.6,266.9 220.8,254.9 221.0,255.6 221.2,246.8 221.4,267.7 221.6,266.2 221.8,263.6 222.0,248.6 222.2,260.8 222.4,258.9 222.6,260.4 222.8,259.1 223.0,262.5 223.2,258.1 223.4,264.1 223.7,261.2 223.9,258.6 224.1,259.5 224.3,257.9 224.5,263.9 224.7,258.7 224.9,261.4 225.1,258.1 225.3,252.9 225.5,264.4 225.7,254.9 225.9,266.5 226.1,262.0 226.3,252.0 226.5,255.5 226.7,255.1 226.9,256.0 227.2,254.3 227.4,263.6 227.6,258.8 227.8,261.9 228.0,257.9 228.2,261.5 228.4,256.4 228.6,259.9 228.8,262.8 229.0,260.2 229.2,257.8 229.4,254.7 229.6,260.8 229.8,261.7 230.0,258.7 230.2,256.3 230.4,262.6 230.7,272.0 230.9,258.5 231.1,261.6 231.3,261.8 231.5,247.5 231.7,260.6 231.9,256.6 232.1,266.7 232.3,258.8 232.5,252.4 232.7,258.9 232.9,260.8 233.1,254.6 233.3,259.7 233.5,253.4 233.7,258.9 234.0,263.8 234.2,269.6 234.4,263.4 234.6,261.3 234.8,265.8 235.0,265.0 235.2,268.1 235.4,265.3 235.6,259.4 235.8,261.3 236.0,261.8 236.2,263.0 236.4,261.0 236.6,256.2 236.8,249.7 237.0,256.7 237.2,250.1 237.5,260.3 237.7,260.0 237.9,251.8 238.1,263.4 238.3,268.5 238.5,260.5 238.7,276.4 238.9,269.2 239.1,254.1 239.3,265.1 239.5,262.2 239.7,262.1 239.9,269.2 240.1,256.5 240.3,257.1 240.5,255.9 240.8,256.3 241.0,259.5 241.2,252.8 241.4,254.8 241.6,262.8 241.8,259.6 242.0,261.9 242.2,250.7 242.4,256.1 242.6,257.3 242.8,260.2 243.0,257.1 243.2,264.6 243.4,259.7 243.6,260.1 243.8,260.1 244.0,267.0 244.3,257.7 244.5,265.6 244.7,262.3 244.9,260.8 245.1,260.2 245.3,262.6 245.5,270.1 245.7,264.7 245.9,261.9 246.1,264.4 246.3,260.6 246.5,266.2 246.7,259.9 246.9,249.7 247.1,266.7 247.3,260.5 247.5,254.2 247.8,259.0 248.0,255.6 248.2,270.5 248.4,262.5 248.6,252.2 248.8,262.7 249.0,258.0 249.2,269.6 249.4,254.7 249.6,248.8 249.8,260.3 250.0,258.3 250.2,257.9 250.4,249.3 250.6,262.1 250.8,268.4 251.0,250.4 251.3,265.9 251.5,257.1 251.7,271.8 251.9,262.2 252.1,259.1 252.3,265.6 252.5,262.7 252.7,257.0 252.9,263.6 253.1,254.8 253.3,250.9 253.5,270.3 253.7,258.2 253.9,256.9 254.1,261.7 254.3,252.0 254.6,253.1 254.8,257.4 255.0,257.3 255.2,260.4 255.4,265.8 255.6,257.6 255.8,262.5 256.0,263.1 256.2,254.4 256.4,261.2 256.6,255.1 256.8,265.5 257.0,262.4 257.2,260.1 257.4,253.1 257.6,260.6 257.8,256.0 258.1,263.7 258.3,259.4 258.5,255.8 258.7,264.8 258.9,267.5 259.1,256.9 259.3,266.1 259.5,258.4 259.7,258.4 259.9,261.3 260.1,256.0 260.3,257.7 260.5,259.2 260.7,268.1 260.9,267.9 261.1,258.6 261.4,268.5 261.6,259.8 261.8,262.0 262.0,264.7 262.2,261.5 262.4,272.8 262.6,261.3 262.8,253.6 263.0,267.0 263.2,257.8 263.4,258.4 263.6,244.0 263.8,265.4 264.0,264.4 264.2,268.6 264.4,265.2 264.6,269.1 264.9,259.8 265.1,265.0 265.3,256.0 265.5,258.1 265.7,265.7 265.9,262.1 266.1,252.8 266.3,262.0 266.5,259.0 266.7,255.6 266.9,262.4 267.1,255.6 267.3,251.5 267.5,254.0 267.7,269.6 267.9,251.7 268.1,262.4 268.4,263.3 268.6,263.5 268.8,253.3 269.0,258.2 269.2,261.5 269.4,264.4 269.6,256.5 269.8,253.6 270.0,265.5 270.2,266.1 270.4,262.0 270.6,256.7 270.8,262.2 271.0,260.6 271.2,264.6 271.4,253.1 271.6,260.6 271.9,259.1 272.1,253.9 272.3,261.2 272.5,260.2 272.7,257.7 272.9,262.2 273.1,252.2 273.3,259.4 273.5,262.4 273.7,261.6 273.9,265.9 274.1,253.4 274.3,251.7 274.5,261.3 274.7,262.5 274.9,271.7 275.2,263.4 275.4,255.2 275.6,264.4 275.8,255.3 276.0,243.7 276.2,274.4 276.4,261.8 276.6,263.9 276.8,263.1 277.0,279.9 277.2,261.6 277.4,266.7 277.6,254.3 277.8,252.3 278.0,267.8 278.2,268.1 278.4,262.8 278.7,261.2 278.9,261.8 279.1,256.2 279.3,268.5 279.5,263.6 279.7,262.8 279.9,262.1 280.1,265.8 280.3,262.8 280.5,264.1 280.7,253.6 280.9,262.8 281.1,272.0 281.3,257.1 281.5,259.3 281.7,264.9 281.9,265.3 282.2,263.4 282.4,251.1 282.6,262.8 282.8,253.5 283.0,255.5 283.2,263.0 283.4,258.4 283.6,264.5 283.8,277.3 284.0,264.3 284.2,264.0 284.4,255.1 284.6,256.5 284.8,254.1 285.0,280.0 285.2,254.0 285.5,256.4 285.7,257.7 285.9,249.0 286.1,252.2 286.3,252.5 286.5,262.5 286.7,260.3 286.9,265.6 287.1,265.7 287.3,258.1 287.5,263.7 287.7,244.2 287.9,272.6 288.1,266.6 288.3,257.6 288.5,253.6 288.7,262.1 289.0,249.7 289.2,255.7 289.4,264.1 289.6,260.4 289.8,257.3 290.0,265.2 290.2,254.3 290.4,261.6 290.6,257.3 290.8,255.3 291.0,262.5 291.2,254.5 291.4,270.5 291.6,256.8 291.8,270.9 292.0,254.0 292.2,266.7 292.5,246.8 292.7,252.6 292.9,260.9 293.1,263.7 293.3,253.0 293.5,266.5 293.7,255.6 293.9,260.7 294.1,262.1 294.3,263.3 294.5,250.1 294.7,268.9 294.9,263.1 295.1,257.7 295.3,254.4 295.5,250.7 295.8,252.5 296.0,263.0 296.2,258.1 296.4,253.8 296.6,257.1 296.8,268.6 297.0,258.2 297.2,256.8 297.4,267.4 297.6,262.5 297.8,260.2 298.0,256.7 298.2,251.5 298.4,253.6 298.6,257.4 298.8,258.8 299.0,262.0 299.3,263.0 299.5,261.2 299.7,261.2 299.9,254.5 300.1,248.1 300.3,257.1 300.5,254.8 300.7,256.4 300.9,258.5 301.1,253.2 301.3,253.9 301.5,259.4 301.7,260.6 301.9,256.4 302.1,262.7 302.3,258.8 302.5,248.8 302.8,260.2 303.0,270.4 303.2,256.3 303.4,266.4 303.6,275.2 303.8,268.2 304.0,255.5 304.2,271.1 304.4,260.6 304.6,257.2 304.8,258.7 305.0,263.3 305.2,260.3 305.4,259.0 305.6,267.1 305.8,256.0 306.1,254.3 306.3,264.4 306.5,263.9 306.7,266.0 306.9,254.1 307.1,265.9 307.3,262.7 307.5,269.7 307.7,253.1 307.9,261.2 308.1,258.5 308.3,251.3 308.5,256.1 308.7,266.2 308.9,257.4 309.1,256.0 309.3,264.8 309.6,265.4 309.8,265.4 310.0,255.7 310.2,259.7 310.4,265.7 310.6,256.4 310.8,251.8 311.0,264.6 311.2,268.6 311.4,253.7 311.6,245.7 311.8,252.0 312.0,254.4 312.2,259.2 312.4,263.4 312.6,259.2 312.9,252.3 313.1,260.8 313.3,254.7 313.5,259.7 313.7,256.5 313.9,274.7 314.1,264.5 314.3,255.4 314.5,254.5 314.7,257.6 314.9,251.0 315.1,256.0 315.3,255.9 315.5,264.9 315.7,255.3 315.9,255.7 316.1,252.6 316.4,253.5 316.6,259.6 316.8,258.8 317.0,266.2 317.2,256.5 317.4,265.8 317.6,261.4 317.8,260.0 318.0,249.0 318.2,252.9 318.4,264.1 318.6,275.4 318.8,261.1 319.0,264.2 319.2,257.8 319.4,258.0 319.6,256.4 319.9,270.7 320.1,261.9 320.3,258.7 320.5,258.2 320.7,263.1 320.9,261.8 321.1,250.8 321.3,269.4 321.5,261.4 321.7,260.1 321.9,268.1 322.1,265.6 322.3,259.5 322.5,262.9 322.7,274.0 322.9,256.5 323.1,247.6 323.4,266.7 323.6,249.6 323.8,263.7 324.0,255.4 324.2,254.6 324.4,258.9 324.6,262.9 324.8,263.4 325.0,279.5 325.2,262.0 325.4,264.8 325.6,256.7 325.8,267.9 326.0,260.8 326.2,257.5 326.4,258.9 326.7,259.7 326.9,261.1 327.1,262.2 327.3,257.2 327.5,251.9 327.7,264.1 327.9,250.7 328.1,253.2 328.3,268.5 328.5,245.1 328.7,256.2 328.9,279.6 329.1,250.9 329.3,274.3 329.5,245.8 329.7,267.9 329.9,268.6 330.2,270.1 330.4,258.8 330.6,262.0 330.8,255.1 331.0,264.5 331.2,253.8 331.4,258.5 331.6,265.5 331.8,253.9 332.0,256.0 332.2,260.9 332.4,252.6 332.6,266.4 332.8,261.9 333.0,251.7 333.2,259.7 333.4,255.7 333.7,256.4 333.9,260.4 334.1,256.1 334.3,265.3 334.5,256.1 334.7,265.4 334.9,291.7 335.1,264.7 335.3,257.0 335.5,257.2 335.7,253.7 335.9,263.2 336.1,265.2 336.3,271.7 336.5,267.1 336.7,262.7 337.0,258.8 337.2,262.1 337.4,259.8 337.6,268.0 337.8,265.2 338.0,255.4 338.2,256.2 338.4,275.0 338.6,261.7 338.8,257.5 339.0,266.5 339.2,257.9 339.4,256.9 339.6,257.5 339.8,249.2 340.0,274.0 340.2,246.7 340.5,256.9 340.7,251.8 340.9,264.0 341.1,259.6 341.3,260.1 341.5,241.5 341.7,259.0 341.9,243.8 342.1,261.7 342.3,262.0 342.5,259.9 342.7,271.2 342.9,262.9 343.1,263.3 343.3,260.8 343.5,258.9 343.8,265.3 344.0,266.1 344.2,252.8 344.4,265.8 344.6,262.8 344.8,265.3 345.0,262.6 345.2,253.2 345.4,253.5 345.6,270.1 345.8,262.8 346.0,252.2 346.2,263.8 346.4,258.0 346.6,249.8 346.8,247.3 347.0,251.1 347.3,261.5 347.5,259.7 347.7,258.6 347.9,261.6 348.1,263.3 348.3,236.7 348.5,258.3 348.7,255.4 348.9,253.1 349.1,257.0 349.3,259.3 349.5,258.5 349.7,243.8 349.9,257.3 350.1,271.2 350.3,254.1 350.5,250.6 350.8,261.5 351.0,263.3 351.2,262.6 351.4,253.7 351.6,265.6 351.8,255.6 352.0,253.6 352.2,256.6 352.4,259.4 352.6,264.0 352.8,263.5 353.0,259.9 353.2,265.2 353.4,260.5 353.6,265.0 353.8,252.2 354.0,251.2 354.3,264.3 354.5,252.3 354.7,258.3 354.9,259.5 355.1,237.0 355.3,257.5 355.5,267.7 355.7,246.0 355.9,269.8 356.1,272.7 356.3,260.1 356.5,259.9 356.7,264.0 356.9,270.1 357.1,253.4 357.3,260.5 357.6,259.0 357.8,227.8 358.0,260.9 358.2,263.6 358.4,257.7 358.6,260.3 358.8,256.3 359.0,256.3 359.2,259.2 359.4,211.0 359.6,253.6 359.8,268.6 360.0,259.3 360.2,252.4 360.4,266.0 360.6,255.9 360.8,262.8 361.1,259.9 361.3,261.4 361.5,260.9 361.7,256.9 361.9,260.2 362.1,271.1 362.3,247.8 362.5,260.4 362.7,262.4 362.9,254.3 363.1,252.5 363.3,271.7 363.5,258.0 363.7,271.3 363.9,262.9 364.1,260.4 364.4,262.6 364.6,263.4 364.8,266.4 365.0,262.4 365.2,260.8 365.4,261.0 365.6,267.3 365.8,268.8 366.0,249.2 366.2,256.6 366.4,261.8 366.6,256.6 366.8,258.0 367.0,254.9 367.2,258.6 367.4,262.3 367.6,265.4 367.9,260.0 368.1,271.1 368.3,259.6 368.5,282.5 368.7,265.4 368.9,262.7 369.1,257.3 369.3,244.9 369.5,259.2 369.7,261.0 369.9,229.6 370.1,252.6 370.3,270.2 370.5,258.7 370.7,263.9 370.9,246.5 371.1,260.7 371.4,258.2 371.6,263.6 371.8,260.5 372.0,253.9 372.2,265.0 372.4,267.4 372.6,263.2 372.8,265.4 373.0,271.7 373.2,259.9 373.4,252.8 373.6,252.7 373.8,274.3 374.0,263.8 374.2,260.5 374.4,257.7 374.6,260.2 374.9,260.1 375.1,258.2 375.3,256.3 375.5,271.4 375.7,244.4 375.9,256.8 376.1,253.2 376.3,252.4 376.5,263.8 376.7,264.0 376.9,258.9 377.1,260.3 377.3,256.8 377.5,254.2 377.7,266.8 377.9,261.9 378.2,272.9 378.4,256.1 378.6,259.3 378.8,264.6 379.0,246.0 379.2,252.8 379.4,250.1 379.6,260.5 379.8,261.8 380.0,259.5 380.2,265.2 380.4,265.2 380.6,261.7 380.8,260.1 381.0,258.7 381.2,262.9 381.4,264.8 381.7,260.3 381.9,262.3 382.1,258.3 382.3,252.7 382.5,254.8 382.7,263.9 382.9,262.3 383.1,268.2 383.3,260.3 383.5,264.4 383.7,266.8 383.9,265.1 384.1,256.9 384.3,259.1 384.5,261.3 384.7,255.0 384.9,262.4 385.2,265.2 385.4,257.6 385.6,270.0 385.8,258.5 386.0,259.0 386.2,258.8 386.4,256.4 386.6,262.1 386.8,260.1 387.0,268.4 387.2,263.1 387.4,262.7 387.6,258.9 387.8,252.9 388.0,259.5 388.2,255.7 388.5,269.6 388.7,259.8 388.9,268.4 389.1,263.7 389.3,264.2 389.5,261.2 389.7,261.0 389.9,263.3 390.1,269.2 390.3,256.5 390.5,264.9 390.7,273.1 390.9,259.1 391.1,258.7 391.3,256.6 391.5,252.8 391.7,265.9 392.0,260.3 392.2,261.5 392.4,269.1 392.6,272.4 392.8,255.6 393.0,265.2 393.2,263.1 393.4,262.0 393.6,262.4 393.8,259.9 394.0,248.0 394.2,263.0 394.4,261.7 394.6,266.1 394.8,268.8 395.0,262.3 395.2,263.2 395.5,268.6 395.7,262.5 395.9,259.6 396.1,255.8 396.3,258.3 396.5,254.9 396.7,260.5 396.9,261.3 397.1,250.1 397.3,260.1 397.5,263.2 397.7,260.8 397.9,255.4 398.1,266.2 398.3,253.3 398.5,254.1 398.8,254.8 399.0,259.9 399.2,264.7 399.4,265.6 399.6,261.0 399.8,254.3 400.0,253.7 400.2,251.4 400.4,259.2 400.6,251.5 400.8,261.1 401.0,263.1 401.2,259.3 401.4,264.4 401.6,255.5 401.8,246.2 402.0,257.0 402.3,265.5 402.5,264.9 402.7,257.8 402.9,265.7 403.1,258.5 403.3,274.3 403.5,262.3 403.7,257.9 403.9,263.8 404.1,256.3 404.3,255.6 404.5,253.2 404.7,261.2 404.9,259.8 405.1,259.6 405.3,258.1 405.6,266.7 405.8,258.0 406.0,256.6 406.2,265.8 406.4,266.6 406.6,261.6 406.8,251.9 407.0,257.2 407.2,262.9 407.4,260.1 407.6,267.2 407.8,253.7 408.0,263.1 408.2,257.1 408.4,266.1 408.6,259.7 408.8,264.8 409.1,257.0 409.3,253.5 409.5,254.9 409.7,257.2 409.9,255.3 410.1,265.5 410.3,266.2 410.5,261.3 410.7,255.3 410.9,259.5 411.1,256.9 411.3,266.7 411.5,261.4 411.7,262.2 411.9,258.2 412.1,250.8 412.3,256.5 412.6,254.9 412.8,261.7 413.0,260.4 413.2,256.4 413.4,258.2 413.6,267.1 413.8,255.7 414.0,255.9 414.2,259.0 414.4,253.7 414.6,258.1 414.8,262.4 415.0,267.8 415.2,252.0 415.4,259.9 415.6,260.2 415.8,259.6 416.1,259.2 416.3,258.5 416.5,264.5 416.7,257.9 416.9,259.4 417.1,260.0 417.3,260.5 417.5,259.2 417.7,264.4 417.9,260.0 418.1,260.8 418.3,259.5 418.5,255.6 418.7,256.3 418.9,255.4 419.1,260.9 419.4,256.9 419.6,255.3 419.8,261.0 420.0,262.3 420.2,252.3 420.4,267.4 420.6,260.1 420.8,259.5 421.0,264.7 421.2,260.3 421.4,257.4 421.6,269.6 421.8,255.3 422.0,259.6 422.2,263.7 422.4,255.3 422.6,259.6 422.9,261.7 423.1,278.2 423.3,256.1 423.5,259.8 423.7,262.8 423.9,260.4 424.1,254.8 424.3,261.8 424.5,260.5 424.7,261.9 424.9,264.9 425.1,264.4 425.3,261.8 425.5,261.3 425.7,255.3 425.9,259.4 426.1,260.9 426.4,258.3 426.6,260.8 426.8,256.5 427.0,273.1 427.2,269.2 427.4,258.3 427.6,261.7 427.8,259.0 428.0,265.4 428.2,263.7 428.4,260.3 428.6,259.1 428.8,260.5 429.0,251.6 429.2,262.8 429.4,257.0 429.7,262.3 429.9,260.5 430.1,264.6 430.3,259.9 430.5,264.3 430.7,256.1 430.9,262.6 431.1,259.1 431.3,260.8 431.5,260.3 431.7,263.9 431.9,251.5 432.1,261.4 432.3,253.7 432.5,265.1 432.7,251.7 432.9,251.6 433.2,253.0 433.4,266.9 433.6,254.6 433.8,260.5 434.0,257.7 434.2,252.4 434.4,258.6 434.6,262.8 434.8,259.2 435.0,264.0 435.2,258.5 435.4,260.0 435.6,256.8 435.8,261.4 436.0,268.0 436.2,261.5 436.4,260.8 436.7,257.4 436.9,256.8 437.1,266.1 437.3,255.3 437.5,256.2 437.7,259.6 437.9,258.2 438.1,268.2 438.3,250.1 438.5,261.5 438.7,263.0 438.9,255.3 439.1,257.3 439.3,261.8 439.5,266.8 439.7,256.1 440.0,246.7 440.2,264.1 440.4,266.4 440.6,258.6 440.8,250.7 441.0,266.1 441.2,259.2 441.4,264.7 441.6,259.8 441.8,256.8 442.0,258.1 442.2,266.2 442.4,266.0 442.6,251.0 442.8,256.1 443.0,267.5 443.2,258.5 443.5,254.3 443.7,260.0 443.9,259.5 444.1,259.6 444.3,258.0 444.5,258.7 444.7,258.1 444.9,262.8 445.1,256.6 445.3,257.6 445.5,259.4 445.7,265.5 445.9,261.6 446.1,259.5 446.3,262.3 446.5,261.7 446.8,264.6 447.0,262.1 447.2,275.1 447.4,265.6 447.6,259.8 447.8,258.3 448.0,263.7 448.2,262.2 448.4,259.6 448.6,247.6 448.8,252.3 449.0,261.5 449.2,263.2 449.4,263.4 449.6,254.6 449.8,264.4 450.0,257.8 450.3,261.6 450.5,261.8 450.7,256.6 450.9,257.5 451.1,251.3 451.3,256.1 451.5,244.9 451.7,261.8 451.9,260.3 452.1,263.8 452.3,261.5 452.5,257.3 452.7,262.9 452.9,258.4 453.1,262.6 453.3,261.3 453.5,255.8 453.8,260.0 454.0,260.2 454.2,258.7 454.4,263.8 454.6,267.2 454.8,258.5 455.0,258.5 455.2,250.6 455.4,259.5 455.6,258.2 455.8,250.9 456.0,261.2 456.2,262.5 456.4,256.9 456.6,258.4 456.8,255.9 457.0,263.2 457.3,253.6 457.5,257.4 457.7,276.4 457.9,260.2 458.1,263.9 458.3,259.4 458.5,255.1 458.7,259.9 458.9,261.7 459.1,255.7 459.3,261.4 459.5,265.2 459.7,264.5 459.9,253.4 460.1,255.9 460.3,253.2 460.6,264.5 460.8,262.6 461.0,263.0 461.2,256.3 461.4,255.1 461.6,260.3 461.8,260.4 462.0,256.4 462.2,260.6 462.4,265.4 462.6,261.0 462.8,255.6 463.0,251.1 463.2,258.9 463.4,260.7 463.6,258.9 463.8,258.2 464.1,257.1 464.3,263.0 464.5,259.8 464.7,260.5 464.9,255.9 465.1,257.4 465.3,260.7 465.5,255.8 465.7,254.7 465.9,258.6 466.1,265.0 466.3,261.6 466.5,266.1 466.7,259.4 466.9,257.4 467.1,254.2 467.3,257.6 467.6,266.0 467.8,261.4 468.0,263.1 468.2,263.0 468.4,260.0 468.6,259.1 468.8,260.5 469.0,262.8 469.2,261.9 469.4,262.1 469.6,260.6 469.8,256.8 470.0,258.9 470.2,256.0 470.4,268.4 470.6,251.2 470.9,259.1 471.1,270.0 471.3,258.6 471.5,255.2 471.7,259.9 471.9,265.4 472.1,259.3 472.3,262.6 472.5,260.4 472.7,258.4 472.9,273.2 473.1,260.3 473.3,255.5 473.5,257.9 473.7,261.6 473.9,261.7 474.1,263.2 474.4,260.6 474.6,254.0 474.8,262.2 475.0,258.7 475.2,258.8 475.4,253.8 475.6,257.6 475.8,256.9 476.0,259.8 476.2,253.9 476.4,260.2 476.6,260.5 476.8,255.3 477.0,257.4 477.2,256.4 477.4,263.8 477.6,249.4 477.9,258.6 478.1,253.0 478.3,256.4 478.5,263.6 478.7,257.4 478.9,260.6 479.1,256.5 479.3,268.1 479.5,263.8 479.7,264.7 479.9,254.4 480.1,255.4 480.3,264.5 480.5,259.2 480.7,258.9 480.9,261.4 481.2,254.7 481.4,263.2 481.6,260.1 481.8,264.0 482.0,257.2 482.2,262.2 482.4,257.0 482.6,268.0 482.8,269.5 483.0,263.8 483.2,264.3 483.4,262.7 483.6,248.6 483.8,267.0 484.0,258.8 484.2,260.4 484.4,258.8 484.7,254.2 484.9,257.7 485.1,262.8 485.3,266.0 485.5,257.4 485.7,256.2 485.9,266.1 486.1,256.3 486.3,268.7 486.5,260.4 486.7,256.3 486.9,264.1 487.1,267.1 487.3,254.0 487.5,266.5 487.7,258.8 487.9,266.2 488.2,258.4 488.4,253.4 488.6,262.1 488.8,267.8 489.0,268.8 489.2,267.2 489.4,262.9 489.6,259.0 489.8,257.8 490.0,258.8 490.2,253.0 490.4,258.8 490.6,249.3 490.8,260.8 491.0,259.9 491.2,270.8 491.5,263.2 491.7,258.0 491.9,262.4 492.1,254.9 492.3,257.5 492.5,252.2 492.7,266.0 492.9,262.5 493.1,255.1 493.3,259.7 493.5,268.0 493.7,264.2 493.9,263.2 494.1,256.4 494.3,257.3 494.5,260.4 494.7,263.9 495.0,256.5 495.2,255.3 495.4,264.8 495.6,256.1 495.8,264.5 496.0,261.0 496.2,263.7 496.4,267.3 496.6,262.9 496.8,263.3 497.0,256.1 497.2,257.1 497.4,262.7 497.6,266.4 497.8,265.8 498.0,269.7 498.2,261.3 498.5,260.9 498.7,264.2 498.9,260.1 499.1,259.7 499.3,255.6 499.5,264.2 499.7,255.5 499.9,262.2 500.1,254.0 500.3,264.6 500.5,255.7 500.7,263.6 500.9,253.3 501.1,258.1 501.3,265.0 501.5,256.6 501.8,260.3 502.0,258.0 502.2,250.2 502.4,261.3 502.6,261.8 502.8,255.3 503.0,262.4 503.2,256.6 503.4,255.7 503.6,260.0 503.8,257.1 504.0,269.8 504.2,253.3 504.4,263.2 504.6,264.2 504.8,251.5 505.0,252.5 505.3,262.4 505.5,257.9 505.7,261.7 505.9,264.9 506.1,258.4 506.3,255.4 506.5,248.2 506.7,260.9 506.9,256.0 507.1,261.4 507.3,261.0 507.5,254.0 507.7,267.5 507.9,264.7 508.1,263.7 508.3,254.8 508.5,258.2 508.8,257.6 509.0,258.2 509.2,255.1 509.4,261.9 509.6,261.0 509.8,261.6 510.0,257.8 510.2,265.7 510.4,260.8 510.6,247.9 510.8,257.2 511.0,259.7 511.2,264.3 511.4,258.7 511.6,258.9 511.8,257.1 512.1,263.0 512.3,258.0 512.5,257.3 512.7,256.7 512.9,262.5 513.1,257.6 513.3,245.0 513.5,262.8 513.7,256.9 513.9,245.4 514.1,261.7 514.3,265.4 514.5,264.7 514.7,257.4 514.9,259.3 515.1,254.2 515.3,267.6 515.6,262.0 515.8,266.3 516.0,258.6 516.2,250.7 516.4,266.9 516.6,260.4 516.8,260.6 517.0,260.3 517.2,262.9 517.4,262.4 517.6,252.8 517.8,274.0 518.0,257.6 518.2,257.9 518.4,267.9 518.6,264.2 518.8,258.5 519.1,251.5 519.3,260.7 519.5,262.5 519.7,259.6 519.9,254.3 520.1,283.0 520.3,254.2 520.5,261.0 520.7,263.8 520.9,264.7 521.1,256.6 521.3,261.1 521.5,265.1 521.7,257.6 521.9,259.3 522.1,269.8 522.4,260.9 522.6,268.1 522.8,258.0 523.0,260.4 523.2,252.1 523.4,259.9 523.6,265.5 523.8,269.7 524.0,265.5 524.2,263.2 524.4,260.2 524.6,257.2 524.8,259.3 525.0,265.6 525.2,256.4 525.4,264.3 525.6,255.5 525.9,251.8 526.1,255.3 526.3,252.3 526.5,253.7 526.7,265.2 526.9,258.2 527.1,261.0 527.3,265.3 527.5,265.8 527.7,257.7 527.9,266.1 528.1,261.8 528.3,260.0 528.5,262.0 528.7,253.4 528.9,256.4 529.1,259.5 529.4,262.8 529.6,258.3 529.8,259.4 530.0,264.5 530.2,266.5 530.4,263.5 530.6,265.8 530.8,258.1 531.0,257.2 531.2,261.5 531.4,258.6 531.6,257.7 531.8,267.6 532.0,259.1 532.2,255.6 532.4,262.2 532.7,276.9 532.9,260.4 533.1,265.7 533.3,258.0 533.5,257.7 533.7,256.8 533.9,259.3 534.1,268.4 534.3,254.7 534.5,267.5 534.7,255.4 534.9,258.9 535.1,267.7 535.3,288.0 535.5,261.3 535.7,252.4 535.9,261.7 536.2,250.6 536.4,271.8 536.6,259.0 536.8,260.9 537.0,254.7 537.2,257.8 537.4,254.1 537.6,264.5 537.8,258.8 538.0,262.6 538.2,256.9 538.4,257.7 538.6,265.9 538.8,255.5 539.0,251.7 539.2,261.9 539.5,254.7 539.7,258.0 539.9,264.2 540.1,274.0 540.3,264.0 540.5,256.9 540.7,266.9 540.9,266.1 541.1,257.8 541.3,259.0 541.5,256.2 541.7,260.9 541.9,265.3 542.1,253.3 542.3,264.2 542.5,253.9 542.7,256.0 543.0,251.8 543.2,269.7 543.4,260.3 543.6,261.1 543.8,256.9 544.0,264.9 544.2,250.3 544.4,260.1 544.6,279.3 544.8,258.2 545.0,260.1 545.2,263.1 545.4,256.3 545.6,260.1 545.8,264.4 546.0,260.9 546.2,261.7 546.5,258.4 546.7,261.5 546.9,260.3 547.1,266.7 547.3,263.3 547.5,258.9 547.7,248.7 547.9,263.3 548.1,263.5 548.3,251.5 548.5,250.7 548.7,254.6 548.9,264.4 549.1,254.9 549.3,257.8 549.5,261.1 549.8,266.0 550.0,259.9 550.2,259.0 550.4,257.3 550.6,268.1 550.8,265.3 551.0,259.5 551.2,252.9 551.4,256.0 551.6,263.0 551.8,256.3 552.0,264.6 552.2,261.9 552.4,261.5 552.6,263.5 552.8,262.7 553.0,255.4 553.3,258.2 553.5,272.7 553.7,253.4 553.9,257.4 554.1,265.9 554.3,259.1 554.5,255.5 554.7,252.6 554.9,263.0 555.1,265.8 555.3,268.0 555.5,260.3 555.7,266.1 555.9,253.9 556.1,250.0 556.3,290.0 556.5,220.0 556.8,308.0 557.0,205.0 557.2,305.0 557.4,200.0 557.6,392.0 557.8,210.0 558.0,308.0 558.2,199.0 558.4,378.0 558.6,202.0 558.8,308.0 559.0,215.0 559.2,488.6 559.4,122.5 559.6,360.0 559.8,205.0 560.0,308.0 560.3,210.0 560.5,392.0 560.7,215.0 560.9,290.0 561.1,225.0 561.3,280.0 561.5,240.0 561.7,270.0" fill="none" stroke="#ff0000" stroke-width="1.02"/></g>
<g stroke="#000" stroke-width="1"><circle cx="182.5" cy="261.4" r="4.5" fill="#7fff83"/><circle cx="182.7" cy="260.6" r="4.5" fill="#81ff81"/><circle cx="182.9" cy="260.0" r="4.5" fill="#82ff80"/><circle cx="183.1" cy="259.0" r="4.5" fill="#84ff7d"/><circle cx="183.3" cy="258.2" r="4.5" fill="#86ff7b"/><circle cx="183.5" cy="258.8" r="4.5" fill="#85ff7d"/><circle cx="183.7" cy="259.1" r="4.5" fill="#84ff7d"/><circle cx="183.9" cy="260.1" r="4.5" fill="#82ff80"/><circle cx="184.1" cy="262.0" r="4.5" fill="#7dff84"/><circle cx="184.3" cy="262.6" r="4.5" fill="#7cff86"/><circle cx="184.5" cy="263.1" r="4.5" fill="#7bff87"/><circle cx="184.7" cy="264.3" r="4.5" fill="#78ff8a"/><circle cx="184.9" cy="265.5" r="4.5" fill="#75ff8c"/><circle cx="185.1" cy="266.3" r="4.5" fill="#73ff8e"/><circle cx="185.3" cy="266.3" r="4.5" fill="#73ff8e"/><circle cx="185.5" cy="267.0" r="4.5" fill="#72ff90"/><circle cx="185.7" cy="268.1" r="4.5" fill="#6fff93"/><circle cx="186.0" cy="267.8" r="4.5" fill="#70ff92"/><circle cx="186.2" cy="268.2" r="4.5" fill="#6fff93"/><circle cx="186.4" cy="267.7" r="4.5" fill="#70ff92"/><circle cx="186.6" cy="267.7" r="4.5" fill="#70ff92"/><circle cx="186.8" cy="267.3" r="4.5" fill="#71ff91"/><circle cx="187.0" cy="268.2" r="4.5" fill="#6fff93"/><circle cx="187.2" cy="267.7" r="4.5" fill="#70ff92"/><circle cx="187.4" cy="268.2" r="4.5" fill="#6fff93"/><circle cx="187.6" cy="268.5" r="4.5" fill="#6eff94"/><circle cx="187.8" cy="268.6" r="4.5" fill="#6eff94"/><circle cx="188.0" cy="267.1" r="4.5" fill="#72ff90"/><circle cx="188.2" cy="267.1" r="4.5" fill="#72ff90"/><circle cx="188.4" cy="267.4" r="4.5" fill="#71ff91"/><circle cx="188.6" cy="267.7" r="4.5" fill="#70ff92"/><circle cx="188.8" cy="266.9" r="4.5" fill="#72ff90"/><circle cx="189.0" cy="266.9" r="4.5" fill="#72ff90"/><circle cx="189.2" cy="266.2" r="4.5" fill="#74ff8e"/><circle cx="189.5" cy="265.7" r="4.5" fill="#75ff8d"/><circle cx="189.7" cy="266.4" r="4.5" fill="#73ff8f"/><circle cx="189.9" cy="265.8" r="4.5" fill="#75ff8d"/><circle cx="190.1" cy="265.7" r="4.5" fill="#75ff8d"/><circle cx="190.3" cy="266.2" r="4.5" fill="#74ff8e"/><circle cx="190.5" cy="265.6" r="4.5" fill="#75ff8d"/><circle cx="190.7" cy="265.4" r="4.5" fill="#76ff8c"/><circle cx="190.9" cy="265.3" r="4.5" fill="#76ff8c"/><circle cx="191.1" cy="265.1" r="4.5" fill="#76ff8c"/><circle cx="191.3" cy="264.1" r="4.5" fill="#79ff89"/><circle cx="191.5" cy="264.0" r="4.5" fill="#79ff89"/><circle cx="191.7" cy="264.8" r="4.5" fill="#77ff8b"/><circle cx="191.9" cy="263.5" r="4.5" fill="#7aff88"/><circle cx="192.1" cy="263.9" r="4.5" fill="#79ff89"/><circle cx="192.3" cy="263.7" r="4.5" fill="#79ff88"/><circle cx="192.5" cy="263.0" r="4.5" fill="#7bff87"/><circle cx="192.8" cy="264.1" r="4.5" fill="#78ff89"/><circle cx="193.0" cy="264.3" r="4.5" fill="#78ff8a"/><circle cx="193.2" cy="263.3" r="4.5" fill="#7aff87"/><circle cx="193.4" cy="263.2" r="4.5" fill="#7aff87"/><circle cx="193.6" cy="263.6" r="4.5" fill="#7aff88"/><circle cx="193.8" cy="263.3" r="4.5" fill="#7aff87"/><circle cx="194.0" cy="263.7" r="4.5" fill="#79ff88"/><circle cx="194.2" cy="263.5" r="4.5" fill="#7aff88"/><circle cx="194.4" cy="263.9" r="4.5" fill="#79ff89"/><circle cx="194.6" cy="264.7" r="4.5" fill="#77ff8b"/><circle cx="194.8" cy="264.0" r="4.5" fill="#79ff89"/><circle cx="195.0" cy="263.9" r="4.5" fill="#79ff89"/><circle cx="195.2" cy="263.4" r="4.5" fill="#7aff88"/><circle cx="195.4" cy="263.3" r="4.5" fill="#7aff87"/><circle cx="195.6" cy="262.4" r="4.5" fill="#7dff85"/><circle cx="195.8" cy="261.9" r="4.5" fill="#7eff84"/><circle cx="196.0" cy="261.8" r="4.5" fill="#7eff84"/><circle cx="196.3" cy="262.4" r="4.5" fill="#7dff85"/><circle cx="196.5" cy="263.0" r="4.5" fill="#7bff87"/><circle cx="196.7" cy="262.0" r="4.5" fill="#7dff84"/><circle cx="196.9" cy="261.4" r="4.5" fill="#7fff83"/><circle cx="197.1" cy="261.8" r="4.5" fill="#7eff84"/><circle cx="197.3" cy="260.5" r="4.5" fill="#81ff81"/><circle cx="197.5" cy="260.3" r="4.5" fill="#81ff80"/><circle cx="197.7" cy="260.4" r="4.5" fill="#81ff81"/><circle cx="197.9" cy="261.4" r="4.5" fill="#7fff83"/><circle cx="198.1" cy="262.0" r="4.5" fill="#7dff84"/><circle cx="198.3" cy="261.8" r="4.5" fill="#7eff84"/><circle cx="198.5" cy="261.5" r="4.5" fill="#7eff83"/><circle cx="198.7" cy="261.4" r="4.5" fill="#7fff83"/><circle cx="198.9" cy="262.5" r="4.5" fill="#7cff85"/><circle cx="199.1" cy="262.2" r="4.5" fill="#7dff85"/><circle cx="199.3" cy="261.9" r="4.5" fill="#7eff84"/><circle cx="199.6" cy="262.2" r="4.5" fill="#7dff85"/><circle cx="199.8" cy="262.1" r="4.5" fill="#7dff84"/><circle cx="200.0" cy="261.9" r="4.5" fill="#7eff84"/><circle cx="200.2" cy="261.2" r="4.5" fill="#7fff82"/><circle cx="200.4" cy="261.3" r="4.5" fill="#7fff82"/><circle cx="200.6" cy="261.0" r="4.5" fill="#80ff82"/><circle cx="200.8" cy="261.9" r="4.5" fill="#7eff84"/><circle cx="201.0" cy="262.4" r="4.5" fill="#7dff85"/><circle cx="201.2" cy="262.3" r="4.5" fill="#7dff85"/><circle cx="201.4" cy="262.7" r="4.5" fill="#7cff86"/><circle cx="201.6" cy="262.4" r="4.5" fill="#7cff85"/><circle cx="201.8" cy="263.1" r="4.5" fill="#7bff87"/><circle cx="202.0" cy="263.0" r="4.5" fill="#7bff87"/><circle cx="202.2" cy="263.3" r="4.5" fill="#7aff87"/><circle cx="202.4" cy="262.3" r="4.5" fill="#7dff85"/><circle cx="202.6" cy="262.5" r="4.5" fill="#7cff85"/><circle cx="202.8" cy="261.3" r="4.5" fill="#7fff83"/><circle cx="203.1" cy="260.0" r="4.5" fill="#82ff7f"/><circle cx="203.3" cy="260.0" r="4.5" fill="#82ff7f"/><circle cx="203.5" cy="259.6" r="4.5" fill="#83ff7e"/><circle cx="203.7" cy="259.9" r="4.5" fill="#82ff7f"/><circle cx="203.9" cy="261.7" r="4.5" fill="#7eff83"/><circle cx="204.1" cy="261.1" r="4.5" fill="#7fff82"/><circle cx="204.3" cy="260.8" r="4.5" fill="#80ff81"/><circle cx="204.5" cy="261.0" r="4.5" fill="#80ff82"/><circle cx="204.7" cy="261.5" r="4.5" fill="#7fff83"/><circle cx="204.9" cy="261.4" r="4.5" fill="#7fff83"/><circle cx="205.1" cy="261.3" r="4.5" fill="#7fff83"/><circle cx="205.3" cy="261.9" r="4.5" fill="#7eff84"/><circle cx="205.5" cy="262.2" r="4.5" fill="#7dff85"/><circle cx="205.7" cy="261.5" r="4.5" fill="#7eff83"/><circle cx="205.9" cy="261.5" r="4.5" fill="#7fff83"/><circle cx="206.1" cy="261.6" r="4.5" fill="#7eff83"/><circle cx="206.3" cy="260.9" r="4.5" fill="#80ff82"/><circle cx="206.6" cy="261.2" r="4.5" fill="#7fff82"/><circle cx="206.8" cy="260.7" r="4.5" fill="#80ff81"/><circle cx="207.0" cy="261.5" r="4.5" fill="#7fff83"/><circle cx="207.2" cy="261.7" r="4.5" fill="#7eff83"/><circle cx="207.4" cy="261.8" r="4.5" fill="#7eff84"/><circle cx="207.6" cy="261.4" r="4.5" fill="#7fff83"/><circle cx="207.8" cy="261.4" r="4.5" fill="#7fff83"/><circle cx="208.0" cy="260.1" r="4.5" fill="#82ff80"/><circle cx="208.2" cy="259.5" r="4.5" fill="#83ff7e"/><circle cx="208.4" cy="260.0" r="4.5" fill="#82ff7f"/><circle cx="208.6" cy="258.7" r="4.5" fill="#85ff7d"/><circle cx="208.8" cy="259.6" r="4.5" fill="#83ff7f"/><circle cx="209.0" cy="258.7" r="4.5" fill="#85ff7c"/><circle cx="209.2" cy="259.5" r="4.5" fill="#83ff7e"/><circle cx="209.4" cy="259.2" r="4.5" fill="#84ff7e"/><circle cx="209.6" cy="260.0" r="4.5" fill="#82ff80"/><circle cx="209.8" cy="260.3" r="4.5" fill="#81ff80"/><circle cx="210.1" cy="259.4" r="4.5" fill="#83ff7e"/><circle cx="210.3" cy="260.5" r="4.5" fill="#81ff81"/><circle cx="210.5" cy="261.7" r="4.5" fill="#7eff83"/><circle cx="210.7" cy="261.7" r="4.5" fill="#7eff83"/><circle cx="210.9" cy="261.5" r="4.5" fill="#7fff83"/><circle cx="211.1" cy="261.4" r="4.5" fill="#7fff83"/><circle cx="211.3" cy="260.8" r="4.5" fill="#80ff81"/><circle cx="211.5" cy="261.7" r="4.5" fill="#7eff84"/><circle cx="211.7" cy="261.4" r="4.5" fill="#7fff83"/><circle cx="211.9" cy="261.4" r="4.5" fill="#7fff83"/><circle cx="212.1" cy="260.9" r="4.5" fill="#80ff82"/><circle cx="212.3" cy="260.6" r="4.5" fill="#81ff81"/><circle cx="212.5" cy="259.9" r="4.5" fill="#82ff7f"/><circle cx="212.7" cy="260.9" r="4.5" fill="#80ff82"/><circle cx="212.9" cy="260.9" r="4.5" fill="#80ff82"/><circle cx="213.1" cy="261.7" r="4.5" fill="#7eff84"/><circle cx="213.4" cy="261.7" r="4.5" fill="#7eff84"/><circle cx="213.6" cy="261.3" r="4.5" fill="#7fff83"/><circle cx="213.8" cy="261.1" r="4.5" fill="#7fff82"/><circle cx="214.0" cy="260.8" r="4.5" fill="#80ff81"/><circle cx="214.2" cy="261.2" r="4.5" fill="#7fff82"/><circle cx="214.4" cy="261.3" r="4.5" fill="#7fff83"/><circle cx="214.6" cy="261.5" r="4.5" fill="#7eff83"/><circle cx="214.8" cy="261.0" r="4.5" fill="#80ff82"/><circle cx="215.0" cy="260.9" r="4.5" fill="#80ff82"/><circle cx="215.2" cy="262.6" r="4.5" fill="#7cff86"/><circle cx="215.4" cy="262.5" r="4.5" fill="#7cff85"/><circle cx="215.6" cy="262.2" r="4.5" fill="#7dff85"/><circle cx="215.8" cy="262.9" r="4.5" fill="#7bff86"/><circle cx="216.0" cy="264.3" r="4.5" fill="#78ff8a"/><circle cx="216.2" cy="263.6" r="4.5" fill="#7aff88"/><circle cx="216.4" cy="263.9" r="4.5" fill="#79ff89"/><circle cx="216.6" cy="263.9" r="4.5" fill="#79ff89"/><circle cx="216.9" cy="263.1" r="4.5" fill="#7bff87"/><circle cx="217.1" cy="264.1" r="4.5" fill="#78ff89"/><circle cx="217.3" cy="264.5" r="4.5" fill="#77ff8a"/><circle cx="217.5" cy="265.0" r="4.5" fill="#76ff8b"/><circle cx="217.7" cy="264.9" r="4.5" fill="#77ff8b"/><circle cx="217.9" cy="265.6" r="4.5" fill="#75ff8d"/><circle cx="218.1" cy="265.6" r="4.5" fill="#75ff8d"/><circle cx="218.3" cy="266.0" r="4.5" fill="#74ff8e"/><circle cx="218.5" cy="265.6" r="4.5" fill="#75ff8d"/><circle cx="218.7" cy="265.2" r="4.5" fill="#76ff8c"/><circle cx="218.9" cy="266.7" r="4.5" fill="#73ff8f"/><circle cx="219.1" cy="266.7" r="4.5" fill="#72ff8f"/><circle cx="219.3" cy="267.3" r="4.5" fill="#71ff91"/><circle cx="219.5" cy="267.7" r="4.5" fill="#70ff92"/><circle cx="219.7" cy="267.7" r="4.5" fill="#70ff92"/><circle cx="219.9" cy="267.8" r="4.5" fill="#70ff92"/><circle cx="220.1" cy="268.4" r="4.5" fill="#6eff93"/><circle cx="220.4" cy="268.3" r="4.5" fill="#6fff93"/><circle cx="220.6" cy="268.3" r="4.5" fill="#6fff93"/><circle cx="220.8" cy="268.4" r="4.5" fill="#6fff93"/><circle cx="221.0" cy="269.3" r="4.5" fill="#6cff95"/><circle cx="221.2" cy="269.7" r="4.5" fill="#6bff97"/><circle cx="221.4" cy="269.9" r="4.5" fill="#6bff97"/><circle cx="221.6" cy="269.5" r="4.5" fill="#6cff96"/><circle cx="221.8" cy="268.5" r="4.5" fill="#6eff94"/><circle cx="222.0" cy="269.2" r="4.5" fill="#6dff95"/><circle cx="222.2" cy="269.9" r="4.5" fill="#6bff97"/><circle cx="222.4" cy="269.7" r="4.5" fill="#6cff96"/><circle cx="222.6" cy="270.0" r="4.5" fill="#6bff97"/><circle cx="222.8" cy="270.4" r="4.5" fill="#6aff98"/><circle cx="223.0" cy="270.9" r="4.5" fill="#69ff99"/><circle cx="223.2" cy="271.3" r="4.5" fill="#68ff9a"/><circle cx="223.4" cy="270.7" r="4.5" fill="#69ff99"/><circle cx="223.7" cy="271.6" r="4.5" fill="#67ff9b"/><circle cx="223.9" cy="270.5" r="4.5" fill="#6aff98"/><circle cx="224.1" cy="270.9" r="4.5" fill="#69ff99"/><circle cx="224.3" cy="271.0" r="4.5" fill="#68ff9a"/><circle cx="224.5" cy="271.4" r="4.5" fill="#68ff9a"/><circle cx="224.7" cy="272.4" r="4.5" fill="#65ff9d"/><circle cx="224.9" cy="273.1" r="4.5" fill="#64ff9e"/><circle cx="225.1" cy="271.9" r="4.5" fill="#66ff9c"/><circle cx="225.3" cy="270.4" r="4.5" fill="#6aff98"/><circle cx="225.5" cy="270.8" r="4.5" fill="#69ff99"/><circle cx="225.7" cy="269.9" r="4.5" fill="#6bff97"/><circle cx="225.9" cy="269.8" r="4.5" fill="#6bff97"/><circle cx="226.1" cy="270.3" r="4.5" fill="#6aff98"/><circle cx="226.3" cy="269.0" r="4.5" fill="#6dff95"/><circle cx="226.5" cy="267.5" r="4.5" fill="#71ff91"/><circle cx="226.7" cy="267.8" r="4.5" fill="#70ff92"/><circle cx="226.9" cy="267.9" r="4.5" fill="#70ff92"/><circle cx="227.2" cy="267.8" r="4.5" fill="#70ff92"/><circle cx="227.4" cy="267.9" r="4.5" fill="#70ff92"/><circle cx="227.6" cy="267.4" r="4.5" fill="#71ff91"/><circle cx="227.8" cy="266.5" r="4.5" fill="#73ff8f"/><circle cx="228.0" cy="266.6" r="4.5" fill="#73ff8f"/><circle cx="228.2" cy="266.1" r="4.5" fill="#74ff8e"/><circle cx="228.4" cy="265.3" r="4.5" fill="#76ff8c"/><circle cx="228.6" cy="265.9" r="4.5" fill="#74ff8e"/><circle cx="228.8" cy="266.2" r="4.5" fill="#74ff8e"/><circle cx="229.0" cy="266.7" r="4.5" fill="#72ff8f"/><circle cx="229.2" cy="266.2" r="4.5" fill="#74ff8e"/><circle cx="229.4" cy="266.0" r="4.5" fill="#74ff8e"/><circle cx="229.6" cy="265.6" r="4.5" fill="#75ff8d"/><circle cx="229.8" cy="265.3" r="4.5" fill="#76ff8c"/><circle cx="230.0" cy="265.8" r="4.5" fill="#75ff8d"/><circle cx="230.2" cy="265.6" r="4.5" fill="#75ff8d"/><circle cx="230.4" cy="266.1" r="4.5" fill="#74ff8e"/><circle cx="230.7" cy="266.6" r="4.5" fill="#73ff8f"/><circle cx="230.9" cy="268.2" r="4.5" fill="#6fff93"/><circle cx="231.1" cy="267.3" r="4.5" fill="#71ff91"/><circle cx="231.3" cy="268.0" r="4.5" fill="#6fff92"/><circle cx="231.5" cy="268.0" r="4.5" fill="#6fff92"/><circle cx="231.7" cy="268.1" r="4.5" fill="#6fff93"/><circle cx="231.9" cy="267.2" r="4.5" fill="#71ff90"/><circle cx="232.1" cy="267.0" r="4.5" fill="#72ff90"/><circle cx="232.3" cy="267.7" r="4.5" fill="#70ff92"/><circle cx="232.5" cy="267.7" r="4.5" fill="#70ff92"/><circle cx="232.7" cy="267.9" r="4.5" fill="#70ff92"/><circle cx="232.9" cy="267.8" r="4.5" fill="#70ff92"/><circle cx="233.1" cy="268.6" r="4.5" fill="#6eff94"/><circle cx="233.3" cy="268.6" r="4.5" fill="#6eff94"/><circle cx="233.5" cy="267.1" r="4.5" fill="#71ff90"/><circle cx="233.7" cy="266.8" r="4.5" fill="#72ff90"/><circle cx="234.0" cy="265.7" r="4.5" fill="#75ff8d"/><circle cx="234.2" cy="263.8" r="4.5" fill="#79ff88"/><circle cx="234.4" cy="263.9" r="4.5" fill="#79ff89"/><circle cx="234.6" cy="265.3" r="4.5" fill="#76ff8c"/><circle cx="234.8" cy="265.7" r="4.5" fill="#75ff8d"/><circle cx="235.0" cy="265.2" r="4.5" fill="#76ff8c"/><circle cx="235.2" cy="264.9" r="4.5" fill="#77ff8b"/><circle cx="235.4" cy="266.0" r="4.5" fill="#74ff8e"/><circle cx="235.6" cy="266.4" r="4.5" fill="#73ff8f"/><circle cx="235.8" cy="266.7" r="4.5" fill="#73ff8f"/><circle cx="236.0" cy="266.8" r="4.5" fill="#72ff90"/><circle cx="236.2" cy="267.0" r="4.5" fill="#72ff90"/><circle cx="236.4" cy="267.8" r="4.5" fill="#70ff92"/><circle cx="236.6" cy="268.2" r="4.5" fill="#6fff93"/><circle cx="236.8" cy="268.4" r="4.5" fill="#6eff93"/><circle cx="237.0" cy="267.7" r="4.5" fill="#70ff92"/><circle cx="237.2" cy="268.2" r="4.5" fill="#6fff93"/><circle cx="237.5" cy="267.8" r="4.5" fill="#70ff92"/><circle cx="237.7" cy="268.6" r="4.5" fill="#6eff94"/><circle cx="237.9" cy="267.8" r="4.5" fill="#70ff92"/><circle cx="238.1" cy="267.8" r="4.5" fill="#70ff92"/><circle cx="238.3" cy="267.8" r="4.5" fill="#70ff92"/><circle cx="238.5" cy="267.0" r="4.5" fill="#72ff90"/><circle cx="238.7" cy="268.4" r="4.5" fill="#6fff93"/><circle cx="238.9" cy="269.4" r="4.5" fill="#6cff96"/><circle cx="239.1" cy="269.0" r="4.5" fill="#6dff95"/><circle cx="239.3" cy="269.5" r="4.5" fill="#6cff96"/><circle cx="239.5" cy="269.7" r="4.5" fill="#6cff96"/><circle cx="239.7" cy="267.8" r="4.5" fill="#70ff92"/><circle cx="239.9" cy="268.1" r="4.5" fill="#6fff93"/><circle cx="240.1" cy="268.1" r="4.5" fill="#6fff93"/><circle cx="240.3" cy="268.2" r="4.5" fill="#6fff93"/><circle cx="240.5" cy="267.5" r="4.5" fill="#71ff91"/><circle cx="240.8" cy="267.5" r="4.5" fill="#71ff91"/><circle cx="241.0" cy="267.5" r="4.5" fill="#71ff91"/><circle cx="241.2" cy="268.4" r="4.5" fill="#6eff93"/><circle cx="241.4" cy="268.7" r="4.5" fill="#6eff94"/><circle cx="241.6" cy="268.7" r="4.5" fill="#6eff94"/><circle cx="241.8" cy="269.8" r="4.5" fill="#6bff97"/><circle cx="242.0" cy="269.3" r="4.5" fill="#6dff95"/><circle cx="242.2" cy="269.0" r="4.5" fill="#6dff95"/><circle cx="242.4" cy="267.7" r="4.5" fill="#70ff92"/><circle cx="242.6" cy="268.9" r="4.5" fill="#6dff95"/><circle cx="242.8" cy="269.6" r="4.5" fill="#6cff96"/><circle cx="243.0" cy="270.1" r="4.5" fill="#6bff97"/><circle cx="243.2" cy="270.4" r="4.5" fill="#6aff98"/><circle cx="243.4" cy="270.4" r="4.5" fill="#6aff98"/><circle cx="243.6" cy="270.4" r="4.5" fill="#6aff98"/><circle cx="243.8" cy="270.0" r="4.5" fill="#6bff97"/><circle cx="244.0" cy="269.8" r="4.5" fill="#6bff97"/><circle cx="244.3" cy="269.7" r="4.5" fill="#6bff96"/><circle cx="244.5" cy="270.7" r="4.5" fill="#69ff99"/><circle cx="244.7" cy="270.9" r="4.5" fill="#69ff99"/><circle cx="244.9" cy="270.6" r="4.5" fill="#69ff99"/><circle cx="245.1" cy="270.1" r="4.5" fill="#6bff97"/><circle cx="245.3" cy="269.5" r="4.5" fill="#6cff96"/><circle cx="245.5" cy="270.6" r="4.5" fill="#6aff98"/><circle cx="245.7" cy="270.7" r="4.5" fill="#69ff99"/><circle cx="245.9" cy="270.6" r="4.5" fill="#69ff99"/><circle cx="246.1" cy="270.2" r="4.5" fill="#6aff98"/><circle cx="246.3" cy="269.3" r="4.5" fill="#6cff96"/><circle cx="246.5" cy="269.3" r="4.5" fill="#6dff95"/><circle cx="246.7" cy="269.8" r="4.5" fill="#6bff97"/><circle cx="246.9" cy="269.5" r="4.5" fill="#6cff96"/><circle cx="247.1" cy="269.3" r="4.5" fill="#6dff95"/><circle cx="247.3" cy="269.1" r="4.5" fill="#6dff95"/><circle cx="247.5" cy="269.2" r="4.5" fill="#6dff95"/><circle cx="247.8" cy="268.1" r="4.5" fill="#6fff93"/><circle cx="248.0" cy="268.0" r="4.5" fill="#6fff92"/><circle cx="248.2" cy="267.5" r="4.5" fill="#71ff91"/><circle cx="248.4" cy="268.3" r="4.5" fill="#6fff93"/><circle cx="248.6" cy="267.8" r="4.5" fill="#70ff92"/><circle cx="248.8" cy="268.3" r="4.5" fill="#6fff93"/><circle cx="249.0" cy="269.5" r="4.5" fill="#6cff96"/><circle cx="249.2" cy="269.4" r="4.5" fill="#6cff96"/><circle cx="249.4" cy="269.2" r="4.5" fill="#6dff95"/><circle cx="249.6" cy="269.5" r="4.5" fill="#6cff96"/><circle cx="249.8" cy="269.7" r="4.5" fill="#6bff96"/><circle cx="250.0" cy="269.3" r="4.5" fill="#6dff95"/><circle cx="250.2" cy="269.9" r="4.5" fill="#6bff97"/><circle cx="250.4" cy="271.5" r="4.5" fill="#67ff9b"/><circle cx="250.6" cy="271.4" r="4.5" fill="#68ff9a"/><circle cx="250.8" cy="271.4" r="4.5" fill="#68ff9a"/><circle cx="251.0" cy="270.8" r="4.5" fill="#69ff99"/><circle cx="251.3" cy="271.3" r="4.5" fill="#68ff9a"/><circle cx="251.5" cy="270.6" r="4.5" fill="#69ff99"/><circle cx="251.7" cy="270.2" r="4.5" fill="#6aff98"/><circle cx="251.9" cy="271.4" r="4.5" fill="#68ff9a"/><circle cx="252.1" cy="271.0" r="4.5" fill="#69ff9a"/><circle cx="252.3" cy="272.0" r="4.5" fill="#66ff9c"/><circle cx="252.5" cy="273.2" r="4.5" fill="#63ff9f"/><circle cx="252.7" cy="273.4" r="4.5" fill="#63ff9f"/><circle cx="252.9" cy="273.9" r="4.5" fill="#62ffa0"/><circle cx="253.1" cy="275.2" r="4.5" fill="#5fffa3"/><circle cx="253.3" cy="275.0" r="4.5" fill="#5fffa3"/><circle cx="253.5" cy="274.4" r="4.5" fill="#61ffa2"/><circle cx="253.7" cy="273.4" r="4.5" fill="#63ff9f"/><circle cx="253.9" cy="273.4" r="4.5" fill="#63ff9f"/><circle cx="254.1" cy="274.3" r="4.5" fill="#61ffa1"/><circle cx="254.3" cy="267.2" r="4.5" fill="#71ff90"/><circle cx="254.6" cy="266.3" r="4.5" fill="#73ff8e"/><circle cx="254.8" cy="265.6" r="4.5" fill="#75ff8d"/><circle cx="255.0" cy="265.3" r="4.5" fill="#76ff8c"/><circle cx="255.2" cy="257.8" r="4.5" fill="#87ff7a"/><circle cx="255.4" cy="257.6" r="4.5" fill="#88ff7a"/><circle cx="255.6" cy="257.8" r="4.5" fill="#87ff7a"/><circle cx="255.8" cy="257.9" r="4.5" fill="#87ff7b"/><circle cx="256.0" cy="257.7" r="4.5" fill="#87ff7a"/><circle cx="256.2" cy="257.9" r="4.5" fill="#87ff7a"/><circle cx="256.4" cy="258.2" r="4.5" fill="#86ff7b"/><circle cx="256.6" cy="258.2" r="4.5" fill="#86ff7b"/><circle cx="256.8" cy="258.7" r="4.5" fill="#85ff7d"/><circle cx="257.0" cy="260.1" r="4.5" fill="#82ff80"/><circle cx="257.2" cy="260.5" r="4.5" fill="#81ff81"/><circle cx="257.4" cy="260.5" r="4.5" fill="#81ff81"/><circle cx="257.6" cy="259.4" r="4.5" fill="#83ff7e"/><circle cx="257.8" cy="259.8" r="4.5" fill="#83ff7f"/><circle cx="258.1" cy="258.5" r="4.5" fill="#85ff7c"/><circle cx="258.3" cy="257.8" r="4.5" fill="#87ff7a"/><circle cx="258.5" cy="258.7" r="4.5" fill="#85ff7c"/><circle cx="258.7" cy="259.4" r="4.5" fill="#83ff7e"/><circle cx="258.9" cy="259.5" r="4.5" fill="#83ff7e"/><circle cx="259.1" cy="258.6" r="4.5" fill="#85ff7c"/><circle cx="259.3" cy="258.6" r="4.5" fill="#85ff7c"/><circle cx="259.5" cy="258.4" r="4.5" fill="#86ff7c"/><circle cx="259.7" cy="259.2" r="4.5" fill="#84ff7e"/><circle cx="259.9" cy="261.0" r="4.5" fill="#80ff82"/><circle cx="260.1" cy="261.2" r="4.5" fill="#7fff82"/><circle cx="260.3" cy="260.8" r="4.5" fill="#80ff81"/><circle cx="260.5" cy="260.1" r="4.5" fill="#82ff80"/><circle cx="260.7" cy="260.3" r="4.5" fill="#81ff80"/><circle cx="260.9" cy="260.4" r="4.5" fill="#81ff81"/><circle cx="261.1" cy="259.9" r="4.5" fill="#82ff7f"/><circle cx="261.4" cy="260.2" r="4.5" fill="#81ff80"/><circle cx="261.6" cy="259.7" r="4.5" fill="#83ff7f"/><circle cx="261.8" cy="260.8" r="4.5" fill="#80ff81"/><circle cx="262.0" cy="261.8" r="4.5" fill="#7eff84"/><circle cx="262.2" cy="262.5" r="4.5" fill="#7cff85"/><circle cx="262.4" cy="262.0" r="4.5" fill="#7dff84"/><circle cx="262.6" cy="262.2" r="4.5" fill="#7dff85"/><circle cx="262.8" cy="262.0" r="4.5" fill="#7dff84"/><circle cx="263.0" cy="261.6" r="4.5" fill="#7eff83"/><circle cx="263.2" cy="261.2" r="4.5" fill="#7fff82"/><circle cx="263.4" cy="260.3" r="4.5" fill="#81ff80"/><circle cx="263.6" cy="259.3" r="4.5" fill="#84ff7e"/><circle cx="263.8" cy="259.9" r="4.5" fill="#82ff7f"/><circle cx="264.0" cy="259.8" r="4.5" fill="#82ff7f"/><circle cx="264.2" cy="260.0" r="4.5" fill="#82ff7f"/><circle cx="264.4" cy="260.6" r="4.5" fill="#81ff81"/><circle cx="264.6" cy="259.4" r="4.5" fill="#83ff7e"/><circle cx="264.9" cy="258.9" r="4.5" fill="#85ff7d"/><circle cx="265.1" cy="259.0" r="4.5" fill="#84ff7d"/><circle cx="265.3" cy="259.4" r="4.5" fill="#84ff7e"/><circle cx="265.5" cy="259.1" r="4.5" fill="#84ff7d"/><circle cx="265.7" cy="259.8" r="4.5" fill="#82ff7f"/><circle cx="265.9" cy="259.9" r="4.5" fill="#82ff7f"/><circle cx="266.1" cy="258.9" r="4.5" fill="#84ff7d"/><circle cx="266.3" cy="258.2" r="4.5" fill="#86ff7b"/><circle cx="266.5" cy="258.8" r="4.5" fill="#85ff7d"/><circle cx="266.7" cy="259.0" r="4.5" fill="#84ff7d"/><circle cx="266.9" cy="257.6" r="4.5" fill="#88ff7a"/><circle cx="267.1" cy="258.5" r="4.5" fill="#85ff7c"/><circle cx="267.3" cy="258.8" r="4.5" fill="#85ff7d"/><circle cx="267.5" cy="259.6" r="4.5" fill="#83ff7f"/><circle cx="267.7" cy="259.1" r="4.5" fill="#84ff7d"/><circle cx="267.9" cy="258.7" r="4.5" fill="#85ff7c"/><circle cx="268.1" cy="257.7" r="4.5" fill="#87ff7a"/><circle cx="268.4" cy="259.3" r="4.5" fill="#84ff7e"/><circle cx="268.6" cy="258.9" r="4.5" fill="#84ff7d"/><circle cx="268.8" cy="259.7" r="4.5" fill="#83ff7f"/><circle cx="269.0" cy="258.9" r="4.5" fill="#84ff7d"/><circle cx="269.2" cy="258.8" r="4.5" fill="#85ff7d"/><circle cx="269.4" cy="257.4" r="4.5" fill="#88ff79"/><circle cx="269.6" cy="257.0" r="4.5" fill="#89ff78"/><circle cx="269.8" cy="257.6" r="4.5" fill="#88ff7a"/><circle cx="270.0" cy="256.6" r="4.5" fill="#8aff77"/><circle cx="270.2" cy="257.3" r="4.5" fill="#88ff79"/><circle cx="270.4" cy="257.5" r="4.5" fill="#88ff7a"/><circle cx="270.6" cy="256.8" r="4.5" fill="#89ff78"/><circle cx="270.8" cy="256.5" r="4.5" fill="#8aff77"/><circle cx="271.0" cy="252.6" r="4.5" fill="#93ff6e"/><circle cx="271.2" cy="249.7" r="4.5" fill="#9aff67"/><circle cx="271.4" cy="249.5" r="4.5" fill="#9aff67"/><circle cx="271.6" cy="249.0" r="4.5" fill="#9bff66"/><circle cx="271.9" cy="248.9" r="4.5" fill="#9cff65"/><circle cx="272.1" cy="248.4" r="4.5" fill="#9dff64"/><circle cx="272.3" cy="247.7" r="4.5" fill="#9fff62"/><circle cx="272.5" cy="247.8" r="4.5" fill="#9eff63"/><circle cx="272.7" cy="248.6" r="4.5" fill="#9cff65"/><circle cx="272.9" cy="247.7" r="4.5" fill="#9eff63"/><circle cx="273.1" cy="247.9" r="4.5" fill="#9eff63"/><circle cx="273.3" cy="247.7" r="4.5" fill="#9fff62"/><circle cx="273.5" cy="247.2" r="4.5" fill="#a0ff61"/><circle cx="273.7" cy="248.0" r="4.5" fill="#9eff63"/><circle cx="273.9" cy="247.8" r="4.5" fill="#9eff63"/><circle cx="274.1" cy="248.9" r="4.5" fill="#9cff65"/><circle cx="274.3" cy="248.3" r="4.5" fill="#9dff64"/><circle cx="274.5" cy="248.5" r="4.5" fill="#9dff64"/><circle cx="274.7" cy="248.3" r="4.5" fill="#9dff64"/><circle cx="274.9" cy="247.7" r="4.5" fill="#9eff63"/><circle cx="275.2" cy="248.1" r="4.5" fill="#9eff63"/><circle cx="275.4" cy="247.9" r="4.5" fill="#9eff63"/><circle cx="275.6" cy="248.2" r="4.5" fill="#9dff64"/><circle cx="275.8" cy="248.0" r="4.5" fill="#9eff63"/><circle cx="276.0" cy="247.2" r="4.5" fill="#a0ff61"/><circle cx="276.2" cy="247.0" r="4.5" fill="#a0ff61"/><circle cx="276.4" cy="247.0" r="4.5" fill="#a0ff61"/><circle cx="276.6" cy="247.6" r="4.5" fill="#9fff62"/><circle cx="276.8" cy="246.8" r="4.5" fill="#a1ff60"/><circle cx="277.0" cy="246.6" r="4.5" fill="#a1ff60"/><circle cx="277.2" cy="245.4" r="4.5" fill="#a4ff5d"/><circle cx="277.4" cy="245.8" r="4.5" fill="#a3ff5e"/><circle cx="277.6" cy="245.0" r="4.5" fill="#a5ff5c"/><circle cx="277.8" cy="243.8" r="4.5" fill="#a8ff59"/><circle cx="278.0" cy="243.9" r="4.5" fill="#a7ff59"/><circle cx="278.2" cy="244.8" r="4.5" fill="#a5ff5c"/><circle cx="278.4" cy="243.8" r="4.5" fill="#a8ff59"/><circle cx="278.7" cy="243.2" r="4.5" fill="#a9ff58"/><circle cx="278.9" cy="242.9" r="4.5" fill="#aaff57"/><circle cx="279.1" cy="242.3" r="4.5" fill="#abff56"/><circle cx="279.3" cy="242.9" r="4.5" fill="#aaff57"/><circle cx="279.5" cy="242.5" r="4.5" fill="#aaff56"/><circle cx="279.7" cy="242.2" r="4.5" fill="#abff56"/><circle cx="279.9" cy="242.9" r="4.5" fill="#aaff57"/><circle cx="280.1" cy="242.5" r="4.5" fill="#aaff56"/><circle cx="280.3" cy="243.0" r="4.5" fill="#a9ff57"/><circle cx="280.5" cy="242.5" r="4.5" fill="#abff56"/><circle cx="280.7" cy="241.8" r="4.5" fill="#acff55"/><circle cx="280.9" cy="240.8" r="4.5" fill="#aeff52"/><circle cx="281.1" cy="242.4" r="4.5" fill="#abff56"/><circle cx="281.3" cy="242.3" r="4.5" fill="#abff56"/><circle cx="281.5" cy="242.6" r="4.5" fill="#aaff57"/><circle cx="281.7" cy="242.7" r="4.5" fill="#aaff57"/><circle cx="281.9" cy="242.9" r="4.5" fill="#aaff57"/><circle cx="282.2" cy="242.8" r="4.5" fill="#aaff57"/><circle cx="282.4" cy="243.9" r="4.5" fill="#a7ff59"/><circle cx="282.6" cy="242.8" r="4.5" fill="#aaff57"/><circle cx="282.8" cy="241.4" r="4.5" fill="#adff54"/><circle cx="283.0" cy="240.5" r="4.5" fill="#afff52"/><circle cx="283.2" cy="239.5" r="4.5" fill="#b1ff4f"/><circle cx="283.4" cy="239.9" r="4.5" fill="#b1ff50"/><circle cx="283.6" cy="240.3" r="4.5" fill="#b0ff51"/><circle cx="283.8" cy="239.4" r="4.5" fill="#b2ff4f"/><circle cx="284.0" cy="238.3" r="4.5" fill="#b4ff4c"/><circle cx="284.2" cy="237.9" r="4.5" fill="#b5ff4b"/><circle cx="284.4" cy="238.8" r="4.5" fill="#b3ff4d"/><circle cx="284.6" cy="236.6" r="4.5" fill="#b8ff48"/><circle cx="284.8" cy="237.0" r="4.5" fill="#b7ff49"/><circle cx="285.0" cy="236.2" r="4.5" fill="#b9ff47"/><circle cx="285.2" cy="236.8" r="4.5" fill="#b8ff49"/><circle cx="285.5" cy="236.0" r="4.5" fill="#baff47"/><circle cx="285.7" cy="235.7" r="4.5" fill="#baff46"/><circle cx="285.9" cy="234.6" r="4.5" fill="#bdff44"/><circle cx="286.1" cy="233.9" r="4.5" fill="#beff42"/><circle cx="286.3" cy="234.9" r="4.5" fill="#bcff44"/><circle cx="286.5" cy="235.3" r="4.5" fill="#bbff45"/><circle cx="286.7" cy="234.9" r="4.5" fill="#bcff44"/><circle cx="286.9" cy="234.1" r="4.5" fill="#beff42"/><circle cx="287.1" cy="232.8" r="4.5" fill="#c1ff3f"/><circle cx="287.3" cy="232.8" r="4.5" fill="#c1ff3f"/><circle cx="287.5" cy="233.0" r="4.5" fill="#c1ff40"/><circle cx="287.7" cy="233.1" r="4.5" fill="#c0ff40"/><circle cx="287.9" cy="233.2" r="4.5" fill="#c0ff40"/><circle cx="288.1" cy="232.5" r="4.5" fill="#c2ff3f"/><circle cx="288.3" cy="232.7" r="4.5" fill="#c1ff3f"/><circle cx="288.5" cy="232.8" r="4.5" fill="#c1ff3f"/><circle cx="288.7" cy="233.8" r="4.5" fill="#bfff42"/><circle cx="289.0" cy="235.1" r="4.5" fill="#bcff45"/><circle cx="289.2" cy="234.9" r="4.5" fill="#bcff44"/><circle cx="289.4" cy="234.3" r="4.5" fill="#beff43"/><circle cx="289.6" cy="234.2" r="4.5" fill="#beff43"/><circle cx="289.8" cy="233.7" r="4.5" fill="#bfff41"/><circle cx="290.0" cy="233.2" r="4.5" fill="#c0ff40"/><circle cx="290.2" cy="233.3" r="4.5" fill="#c0ff41"/><circle cx="290.4" cy="232.8" r="4.5" fill="#c1ff3f"/><circle cx="290.6" cy="233.4" r="4.5" fill="#c0ff41"/><circle cx="290.8" cy="233.5" r="4.5" fill="#bfff41"/><circle cx="291.0" cy="233.8" r="4.5" fill="#bfff42"/><circle cx="291.2" cy="233.8" r="4.5" fill="#bfff42"/><circle cx="291.4" cy="233.5" r="4.5" fill="#bfff41"/><circle cx="291.6" cy="233.0" r="4.5" fill="#c0ff40"/><circle cx="291.8" cy="233.1" r="4.5" fill="#c0ff40"/><circle cx="292.0" cy="232.9" r="4.5" fill="#c1ff40"/><circle cx="292.2" cy="233.3" r="4.5" fill="#c0ff40"/><circle cx="292.5" cy="233.5" r="4.5" fill="#bfff41"/><circle cx="292.7" cy="242.7" r="4.5" fill="#aaff57"/><circle cx="292.9" cy="243.0" r="4.5" fill="#a9ff57"/><circle cx="293.1" cy="242.3" r="4.5" fill="#abff56"/><circle cx="293.3" cy="242.2" r="4.5" fill="#abff55"/><circle cx="293.5" cy="242.2" r="4.5" fill="#abff56"/><circle cx="293.7" cy="230.5" r="4.5" fill="#c6ff3a"/><circle cx="293.9" cy="230.0" r="4.5" fill="#c7ff39"/><circle cx="294.1" cy="230.4" r="4.5" fill="#c7ff3a"/><circle cx="294.3" cy="230.5" r="4.5" fill="#c6ff3a"/><circle cx="294.5" cy="230.4" r="4.5" fill="#c6ff3a"/><circle cx="294.7" cy="230.4" r="4.5" fill="#c7ff3a"/><circle cx="294.9" cy="230.0" r="4.5" fill="#c8ff39"/><circle cx="295.1" cy="230.0" r="4.5" fill="#c7ff39"/><circle cx="295.3" cy="229.9" r="4.5" fill="#c8ff38"/><circle cx="295.5" cy="230.2" r="4.5" fill="#c7ff39"/><circle cx="295.8" cy="229.6" r="4.5" fill="#c8ff38"/><circle cx="296.0" cy="230.0" r="4.5" fill="#c7ff39"/><circle cx="296.2" cy="230.3" r="4.5" fill="#c7ff39"/><circle cx="296.4" cy="230.4" r="4.5" fill="#c6ff3a"/><circle cx="296.6" cy="230.3" r="4.5" fill="#c7ff39"/><circle cx="296.8" cy="230.8" r="4.5" fill="#c6ff3b"/><circle cx="297.0" cy="229.8" r="4.5" fill="#c8ff38"/><circle cx="297.2" cy="230.3" r="4.5" fill="#c7ff39"/><circle cx="297.4" cy="230.7" r="4.5" fill="#c6ff3a"/><circle cx="297.6" cy="231.0" r="4.5" fill="#c5ff3b"/><circle cx="297.8" cy="231.3" r="4.5" fill="#c4ff3c"/><circle cx="298.0" cy="230.9" r="4.5" fill="#c5ff3b"/><circle cx="298.2" cy="230.8" r="4.5" fill="#c6ff3b"/><circle cx="298.4" cy="231.4" r="4.5" fill="#c4ff3c"/><circle cx="298.6" cy="231.7" r="4.5" fill="#c4ff3d"/><circle cx="298.8" cy="231.8" r="4.5" fill="#c3ff3d"/><circle cx="299.0" cy="230.8" r="4.5" fill="#c6ff3a"/><circle cx="299.3" cy="231.2" r="4.5" fill="#c5ff3b"/><circle cx="299.5" cy="232.0" r="4.5" fill="#c3ff3d"/><circle cx="299.7" cy="232.6" r="4.5" fill="#c1ff3f"/><circle cx="299.9" cy="232.7" r="4.5" fill="#c1ff3f"/><circle cx="300.1" cy="231.5" r="4.5" fill="#c4ff3c"/><circle cx="300.3" cy="232.1" r="4.5" fill="#c3ff3e"/><circle cx="300.5" cy="231.9" r="4.5" fill="#c3ff3d"/><circle cx="300.7" cy="230.1" r="4.5" fill="#c7ff39"/><circle cx="300.9" cy="230.5" r="4.5" fill="#c6ff3a"/><circle cx="301.1" cy="229.5" r="4.5" fill="#c9ff37"/><circle cx="301.3" cy="228.8" r="4.5" fill="#caff36"/><circle cx="301.5" cy="228.6" r="4.5" fill="#cbff35"/><circle cx="301.7" cy="229.7" r="4.5" fill="#c8ff38"/><circle cx="301.9" cy="229.7" r="4.5" fill="#c8ff38"/><circle cx="302.1" cy="230.0" r="4.5" fill="#c7ff39"/><circle cx="302.3" cy="231.4" r="4.5" fill="#c4ff3c"/><circle cx="302.5" cy="232.5" r="4.5" fill="#c2ff3f"/><circle cx="302.8" cy="232.3" r="4.5" fill="#c2ff3e"/><circle cx="303.0" cy="232.1" r="4.5" fill="#c3ff3e"/><circle cx="303.2" cy="231.2" r="4.5" fill="#c5ff3b"/><circle cx="303.4" cy="230.8" r="4.5" fill="#c6ff3a"/><circle cx="303.6" cy="231.1" r="4.5" fill="#c5ff3b"/><circle cx="303.8" cy="231.5" r="4.5" fill="#c4ff3c"/><circle cx="304.0" cy="231.6" r="4.5" fill="#c4ff3c"/><circle cx="304.2" cy="232.3" r="4.5" fill="#c2ff3e"/><circle cx="304.4" cy="231.7" r="4.5" fill="#c4ff3d"/><circle cx="304.6" cy="231.7" r="4.5" fill="#c4ff3d"/><circle cx="304.8" cy="232.2" r="4.5" fill="#c2ff3e"/><circle cx="305.0" cy="232.5" r="4.5" fill="#c2ff3f"/><circle cx="305.2" cy="233.2" r="4.5" fill="#c0ff40"/><circle cx="305.4" cy="233.3" r="4.5" fill="#c0ff40"/><circle cx="305.6" cy="232.9" r="4.5" fill="#c1ff40"/><circle cx="305.8" cy="233.1" r="4.5" fill="#c0ff40"/><circle cx="306.1" cy="232.3" r="4.5" fill="#c2ff3e"/><circle cx="306.3" cy="231.1" r="4.5" fill="#c5ff3b"/><circle cx="306.5" cy="231.6" r="4.5" fill="#c4ff3c"/><circle cx="306.7" cy="231.6" r="4.5" fill="#c4ff3c"/><circle cx="306.9" cy="231.8" r="4.5" fill="#c3ff3d"/><circle cx="307.1" cy="230.7" r="4.5" fill="#c6ff3a"/><circle cx="307.3" cy="230.6" r="4.5" fill="#c6ff3a"/><circle cx="307.5" cy="230.3" r="4.5" fill="#c7ff39"/><circle cx="307.7" cy="229.9" r="4.5" fill="#c8ff38"/><circle cx="307.9" cy="228.6" r="4.5" fill="#cbff35"/><circle cx="308.1" cy="228.7" r="4.5" fill="#cbff36"/><circle cx="308.3" cy="229.6" r="4.5" fill="#c8ff38"/><circle cx="308.5" cy="230.1" r="4.5" fill="#c7ff39"/><circle cx="308.7" cy="229.9" r="4.5" fill="#c8ff38"/><circle cx="308.9" cy="230.1" r="4.5" fill="#c7ff39"/><circle cx="309.1" cy="230.8" r="4.5" fill="#c6ff3b"/><circle cx="309.3" cy="229.1" r="4.5" fill="#caff36"/><circle cx="309.6" cy="229.3" r="4.5" fill="#c9ff37"/><circle cx="309.8" cy="229.9" r="4.5" fill="#c8ff39"/><circle cx="310.0" cy="230.6" r="4.5" fill="#c6ff3a"/><circle cx="310.2" cy="231.9" r="4.5" fill="#c3ff3d"/><circle cx="310.4" cy="232.8" r="4.5" fill="#c1ff3f"/><circle cx="310.6" cy="232.9" r="4.5" fill="#c1ff40"/><circle cx="310.8" cy="233.1" r="4.5" fill="#c0ff40"/><circle cx="311.0" cy="233.6" r="4.5" fill="#bfff41"/><circle cx="311.2" cy="233.1" r="4.5" fill="#c0ff40"/><circle cx="311.4" cy="233.0" r="4.5" fill="#c0ff40"/><circle cx="311.6" cy="233.6" r="4.5" fill="#bfff41"/><circle cx="311.8" cy="234.8" r="4.5" fill="#bcff44"/><circle cx="312.0" cy="234.5" r="4.5" fill="#bdff43"/><circle cx="312.2" cy="234.3" r="4.5" fill="#beff43"/><circle cx="312.4" cy="234.2" r="4.5" fill="#beff43"/><circle cx="312.6" cy="235.0" r="4.5" fill="#bcff44"/><circle cx="312.9" cy="234.8" r="4.5" fill="#bcff44"/><circle cx="313.1" cy="235.6" r="4.5" fill="#bbff46"/><circle cx="313.3" cy="234.6" r="4.5" fill="#bdff44"/><circle cx="313.5" cy="234.3" r="4.5" fill="#bdff43"/><circle cx="313.7" cy="234.0" r="4.5" fill="#beff42"/><circle cx="313.9" cy="234.5" r="4.5" fill="#bdff43"/><circle cx="314.1" cy="235.0" r="4.5" fill="#bcff45"/><circle cx="314.3" cy="233.8" r="4.5" fill="#bfff42"/><circle cx="314.5" cy="233.1" r="4.5" fill="#c0ff40"/><circle cx="314.7" cy="233.3" r="4.5" fill="#c0ff41"/><circle cx="314.9" cy="232.8" r="4.5" fill="#c1ff3f"/><circle cx="315.1" cy="231.8" r="4.5" fill="#c3ff3d"/><circle cx="315.3" cy="232.7" r="4.5" fill="#c1ff3f"/><circle cx="315.5" cy="233.1" r="4.5" fill="#c0ff40"/><circle cx="315.7" cy="233.4" r="4.5" fill="#c0ff41"/><circle cx="315.9" cy="233.1" r="4.5" fill="#c0ff40"/><circle cx="316.1" cy="233.8" r="4.5" fill="#bfff42"/><circle cx="316.4" cy="233.6" r="4.5" fill="#bfff41"/><circle cx="316.6" cy="234.3" r="4.5" fill="#bdff43"/><circle cx="316.8" cy="233.6" r="4.5" fill="#bfff41"/><circle cx="317.0" cy="233.0" r="4.5" fill="#c1ff40"/><circle cx="317.2" cy="233.2" r="4.5" fill="#c0ff40"/><circle cx="317.4" cy="232.7" r="4.5" fill="#c1ff3f"/><circle cx="317.6" cy="233.3" r="4.5" fill="#c0ff40"/><circle cx="317.8" cy="233.5" r="4.5" fill="#bfff41"/><circle cx="318.0" cy="232.9" r="4.5" fill="#c1ff3f"/><circle cx="318.2" cy="233.0" r="4.5" fill="#c1ff40"/><circle cx="318.4" cy="232.8" r="4.5" fill="#c1ff3f"/><circle cx="318.6" cy="233.5" r="4.5" fill="#bfff41"/><circle cx="318.8" cy="233.1" r="4.5" fill="#c0ff40"/><circle cx="319.0" cy="232.9" r="4.5" fill="#c1ff3f"/><circle cx="319.2" cy="233.8" r="4.5" fill="#bfff42"/><circle cx="319.4" cy="235.3" r="4.5" fill="#bbff45"/><circle cx="319.6" cy="236.5" r="4.5" fill="#b8ff48"/><circle cx="319.9" cy="236.3" r="4.5" fill="#b9ff48"/><circle cx="320.1" cy="236.2" r="4.5" fill="#b9ff47"/><circle cx="320.3" cy="237.0" r="4.5" fill="#b7ff49"/><circle cx="320.5" cy="236.6" r="4.5" fill="#b8ff48"/><circle cx="320.7" cy="235.6" r="4.5" fill="#baff46"/><circle cx="320.9" cy="235.5" r="4.5" fill="#bbff46"/><circle cx="321.1" cy="235.7" r="4.5" fill="#baff46"/><circle cx="321.3" cy="234.9" r="4.5" fill="#bcff44"/><circle cx="321.5" cy="233.7" r="4.5" fill="#bfff41"/><circle cx="321.7" cy="232.7" r="4.5" fill="#c1ff3f"/><circle cx="321.9" cy="233.3" r="4.5" fill="#c0ff40"/><circle cx="322.1" cy="232.8" r="4.5" fill="#c1ff3f"/><circle cx="322.3" cy="232.8" r="4.5" fill="#c1ff3f"/><circle cx="322.5" cy="233.1" r="4.5" fill="#c0ff40"/><circle cx="322.7" cy="233.6" r="4.5" fill="#bfff41"/><circle cx="322.9" cy="233.4" r="4.5" fill="#c0ff41"/><circle cx="323.1" cy="233.8" r="4.5" fill="#bfff42"/><circle cx="323.4" cy="233.2" r="4.5" fill="#c0ff40"/><circle cx="323.6" cy="233.0" r="4.5" fill="#c0ff40"/><circle cx="323.8" cy="232.4" r="4.5" fill="#c2ff3e"/><circle cx="324.0" cy="233.4" r="4.5" fill="#c0ff41"/><circle cx="324.2" cy="233.4" r="4.5" fill="#c0ff41"/><circle cx="324.4" cy="233.0" r="4.5" fill="#c1ff40"/><circle cx="324.6" cy="232.8" r="4.5" fill="#c1ff3f"/><circle cx="324.8" cy="232.8" r="4.5" fill="#c1ff3f"/><circle cx="325.0" cy="233.4" r="4.5" fill="#c0ff41"/><circle cx="325.2" cy="232.4" r="4.5" fill="#c2ff3e"/><circle cx="325.4" cy="231.8" r="4.5" fill="#c3ff3d"/><circle cx="325.6" cy="231.8" r="4.5" fill="#c3ff3d"/><circle cx="325.8" cy="233.8" r="4.5" fill="#bfff42"/><circle cx="326.0" cy="234.5" r="4.5" fill="#bdff43"/><circle cx="326.2" cy="234.4" r="4.5" fill="#bdff43"/><circle cx="326.4" cy="234.9" r="4.5" fill="#bcff44"/><circle cx="326.7" cy="236.3" r="4.5" fill="#b9ff48"/><circle cx="326.9" cy="236.0" r="4.5" fill="#baff47"/><circle cx="327.1" cy="235.7" r="4.5" fill="#baff46"/><circle cx="327.3" cy="236.4" r="4.5" fill="#b9ff48"/><circle cx="327.5" cy="236.6" r="4.5" fill="#b8ff48"/><circle cx="327.7" cy="236.9" r="4.5" fill="#b7ff49"/><circle cx="327.9" cy="236.4" r="4.5" fill="#b9ff48"/><circle cx="328.1" cy="237.6" r="4.5" fill="#b6ff4b"/><circle cx="328.3" cy="238.6" r="4.5" fill="#b4ff4d"/><circle cx="328.5" cy="238.6" r="4.5" fill="#b3ff4d"/><circle cx="328.7" cy="238.8" r="4.5" fill="#b3ff4d"/><circle cx="328.9" cy="237.1" r="4.5" fill="#b7ff49"/><circle cx="329.1" cy="237.4" r="4.5" fill="#b6ff4a"/><circle cx="329.3" cy="237.1" r="4.5" fill="#b7ff49"/><circle cx="329.5" cy="237.3" r="4.5" fill="#b7ff4a"/><circle cx="329.7" cy="237.6" r="4.5" fill="#b6ff4b"/><circle cx="329.9" cy="237.2" r="4.5" fill="#b7ff4a"/><circle cx="330.2" cy="235.9" r="4.5" fill="#baff47"/><circle cx="330.4" cy="236.2" r="4.5" fill="#b9ff47"/><circle cx="330.6" cy="235.8" r="4.5" fill="#baff46"/><circle cx="330.8" cy="235.6" r="4.5" fill="#baff46"/><circle cx="331.0" cy="235.2" r="4.5" fill="#bbff45"/><circle cx="331.2" cy="235.0" r="4.5" fill="#bcff45"/><circle cx="331.4" cy="233.5" r="4.5" fill="#bfff41"/><circle cx="331.6" cy="234.6" r="4.5" fill="#bdff43"/><circle cx="331.8" cy="239.0" r="4.5" fill="#b3ff4e"/><circle cx="332.0" cy="239.8" r="4.5" fill="#b1ff50"/><circle cx="332.2" cy="241.2" r="4.5" fill="#aeff53"/><circle cx="332.4" cy="241.1" r="4.5" fill="#aeff53"/><circle cx="332.6" cy="239.7" r="4.5" fill="#b1ff50"/><circle cx="332.8" cy="239.7" r="4.5" fill="#b1ff50"/><circle cx="333.0" cy="242.5" r="4.5" fill="#aaff56"/><circle cx="333.2" cy="242.3" r="4.5" fill="#abff56"/><circle cx="333.4" cy="242.6" r="4.5" fill="#aaff56"/><circle cx="333.7" cy="241.3" r="4.5" fill="#adff53"/><circle cx="333.9" cy="241.8" r="4.5" fill="#acff55"/><circle cx="334.1" cy="241.1" r="4.5" fill="#aeff53"/><circle cx="334.3" cy="241.6" r="4.5" fill="#adff54"/><circle cx="334.5" cy="241.9" r="4.5" fill="#acff55"/><circle cx="334.7" cy="242.0" r="4.5" fill="#acff55"/><circle cx="334.9" cy="242.2" r="4.5" fill="#abff55"/><circle cx="335.1" cy="242.1" r="4.5" fill="#abff55"/><circle cx="335.3" cy="242.0" r="4.5" fill="#acff55"/><circle cx="335.5" cy="241.2" r="4.5" fill="#aeff53"/><circle cx="335.7" cy="241.5" r="4.5" fill="#adff54"/><circle cx="335.9" cy="243.2" r="4.5" fill="#a9ff58"/><circle cx="336.1" cy="244.7" r="4.5" fill="#a5ff5b"/><circle cx="336.3" cy="245.7" r="4.5" fill="#a3ff5e"/><circle cx="336.5" cy="246.2" r="4.5" fill="#a2ff5f"/><circle cx="336.7" cy="245.6" r="4.5" fill="#a3ff5e"/><circle cx="337.0" cy="246.6" r="4.5" fill="#a1ff60"/><circle cx="337.2" cy="246.6" r="4.5" fill="#a1ff60"/><circle cx="337.4" cy="246.6" r="4.5" fill="#a1ff60"/><circle cx="337.6" cy="246.5" r="4.5" fill="#a1ff60"/><circle cx="337.8" cy="246.7" r="4.5" fill="#a1ff60"/><circle cx="338.0" cy="246.5" r="4.5" fill="#a1ff60"/><circle cx="338.2" cy="246.6" r="4.5" fill="#a1ff60"/><circle cx="338.4" cy="246.0" r="4.5" fill="#a2ff5e"/><circle cx="338.6" cy="246.0" r="4.5" fill="#a2ff5e"/><circle cx="338.8" cy="247.8" r="4.5" fill="#9eff63"/><circle cx="339.0" cy="247.9" r="4.5" fill="#9eff63"/><circle cx="339.2" cy="247.8" r="4.5" fill="#9eff63"/><circle cx="339.4" cy="248.3" r="4.5" fill="#9dff64"/><circle cx="339.6" cy="248.9" r="4.5" fill="#9cff65"/><circle cx="339.8" cy="248.3" r="4.5" fill="#9dff64"/><circle cx="340.0" cy="248.2" r="4.5" fill="#9dff64"/><circle cx="340.2" cy="248.9" r="4.5" fill="#9cff65"/><circle cx="340.5" cy="249.0" r="4.5" fill="#9cff65"/><circle cx="340.7" cy="249.0" r="4.5" fill="#9bff66"/><circle cx="340.9" cy="250.0" r="4.5" fill="#99ff68"/><circle cx="341.1" cy="249.3" r="4.5" fill="#9bff66"/><circle cx="341.3" cy="249.3" r="4.5" fill="#9bff66"/><circle cx="341.5" cy="248.8" r="4.5" fill="#9cff65"/><circle cx="341.7" cy="249.8" r="4.5" fill="#9aff67"/><circle cx="341.9" cy="248.3" r="4.5" fill="#9dff64"/><circle cx="342.1" cy="247.9" r="4.5" fill="#9eff63"/><circle cx="342.3" cy="247.6" r="4.5" fill="#9fff62"/><circle cx="342.5" cy="248.1" r="4.5" fill="#9dff63"/><circle cx="342.7" cy="248.6" r="4.5" fill="#9cff65"/><circle cx="342.9" cy="249.5" r="4.5" fill="#9aff67"/><circle cx="343.1" cy="248.3" r="4.5" fill="#9dff64"/><circle cx="343.3" cy="248.9" r="4.5" fill="#9cff65"/><circle cx="343.5" cy="248.6" r="4.5" fill="#9cff65"/><circle cx="343.8" cy="248.2" r="4.5" fill="#9dff64"/><circle cx="344.0" cy="248.6" r="4.5" fill="#9cff65"/><circle cx="344.2" cy="248.0" r="4.5" fill="#9eff63"/><circle cx="344.4" cy="246.6" r="4.5" fill="#a1ff60"/><circle cx="344.6" cy="246.6" r="4.5" fill="#a1ff60"/><circle cx="344.8" cy="245.8" r="4.5" fill="#a3ff5e"/><circle cx="345.0" cy="245.6" r="4.5" fill="#a3ff5e"/><circle cx="345.2" cy="246.2" r="4.5" fill="#a2ff5f"/><circle cx="345.4" cy="246.6" r="4.5" fill="#a1ff60"/><circle cx="345.6" cy="247.9" r="4.5" fill="#9eff63"/><circle cx="345.8" cy="247.9" r="4.5" fill="#9eff63"/><circle cx="346.0" cy="246.9" r="4.5" fill="#a0ff61"/><circle cx="346.2" cy="246.6" r="4.5" fill="#a1ff60"/><circle cx="346.4" cy="246.2" r="4.5" fill="#a2ff5f"/><circle cx="346.6" cy="245.6" r="4.5" fill="#a3ff5e"/><circle cx="346.8" cy="246.3" r="4.5" fill="#a2ff5f"/><circle cx="347.0" cy="246.1" r="4.5" fill="#a2ff5f"/><circle cx="347.3" cy="245.0" r="4.5" fill="#a5ff5c"/><circle cx="347.5" cy="245.9" r="4.5" fill="#a3ff5e"/><circle cx="347.7" cy="246.1" r="4.5" fill="#a2ff5f"/><circle cx="347.9" cy="246.6" r="4.5" fill="#a1ff60"/><circle cx="348.1" cy="246.9" r="4.5" fill="#a0ff61"/><circle cx="348.3" cy="247.6" r="4.5" fill="#9fff62"/><circle cx="348.5" cy="247.8" r="4.5" fill="#9eff63"/><circle cx="348.7" cy="248.7" r="4.5" fill="#9cff65"/><circle cx="348.9" cy="249.0" r="4.5" fill="#9bff66"/><circle cx="349.1" cy="249.3" r="4.5" fill="#9bff66"/><circle cx="349.3" cy="249.6" r="4.5" fill="#9aff67"/><circle cx="349.5" cy="248.5" r="4.5" fill="#9dff64"/><circle cx="349.7" cy="248.5" r="4.5" fill="#9dff64"/><circle cx="349.9" cy="248.4" r="4.5" fill="#9dff64"/><circle cx="350.1" cy="248.6" r="4.5" fill="#9cff64"/><circle cx="350.3" cy="247.6" r="4.5" fill="#9fff62"/><circle cx="350.5" cy="248.8" r="4.5" fill="#9cff65"/><circle cx="350.8" cy="248.8" r="4.5" fill="#9cff65"/><circle cx="351.0" cy="247.9" r="4.5" fill="#9eff63"/><circle cx="351.2" cy="246.8" r="4.5" fill="#a1ff60"/><circle cx="351.4" cy="246.7" r="4.5" fill="#a1ff60"/><circle cx="351.6" cy="246.8" r="4.5" fill="#a0ff60"/><circle cx="351.8" cy="246.5" r="4.5" fill="#a1ff60"/><circle cx="352.0" cy="246.8" r="4.5" fill="#a1ff60"/><circle cx="352.2" cy="247.0" r="4.5" fill="#a0ff61"/><circle cx="352.4" cy="254.0" r="4.5" fill="#90ff71"/><circle cx="352.6" cy="253.7" r="4.5" fill="#91ff71"/><circle cx="352.8" cy="253.8" r="4.5" fill="#90ff71"/><circle cx="353.0" cy="254.6" r="4.5" fill="#8eff73"/><circle cx="353.2" cy="263.4" r="4.5" fill="#7aff87"/><circle cx="353.4" cy="262.6" r="4.5" fill="#7cff86"/><circle cx="353.6" cy="262.2" r="4.5" fill="#7dff85"/><circle cx="353.8" cy="261.7" r="4.5" fill="#7eff83"/><circle cx="354.0" cy="269.2" r="4.5" fill="#6dff95"/><circle cx="354.3" cy="268.4" r="4.5" fill="#6fff93"/><circle cx="354.5" cy="268.1" r="4.5" fill="#6fff93"/><circle cx="354.7" cy="268.2" r="4.5" fill="#6fff93"/><circle cx="354.9" cy="274.5" r="4.5" fill="#60ffa2"/><circle cx="355.1" cy="274.1" r="4.5" fill="#61ffa1"/><circle cx="355.3" cy="273.9" r="4.5" fill="#62ffa0"/><circle cx="355.5" cy="272.7" r="4.5" fill="#65ff9e"/><circle cx="355.7" cy="279.0" r="4.5" fill="#56ffac"/><circle cx="355.9" cy="279.1" r="4.5" fill="#56ffad"/><circle cx="356.1" cy="279.6" r="4.5" fill="#55ffae"/><circle cx="356.3" cy="279.8" r="4.5" fill="#54ffae"/><circle cx="356.5" cy="278.8" r="4.5" fill="#56ffac"/><circle cx="356.7" cy="278.8" r="4.5" fill="#57ffac"/><circle cx="356.9" cy="279.6" r="4.5" fill="#55ffae"/><circle cx="357.1" cy="280.2" r="4.5" fill="#53ffaf"/><circle cx="357.3" cy="280.2" r="4.5" fill="#53ffaf"/><circle cx="357.6" cy="279.7" r="4.5" fill="#54ffae"/><circle cx="357.8" cy="280.3" r="4.5" fill="#53ffaf"/><circle cx="358.0" cy="279.9" r="4.5" fill="#54ffaf"/><circle cx="358.2" cy="279.2" r="4.5" fill="#56ffad"/><circle cx="358.4" cy="278.7" r="4.5" fill="#57ffac"/><circle cx="358.6" cy="279.8" r="4.5" fill="#54ffae"/><circle cx="358.8" cy="280.0" r="4.5" fill="#54ffaf"/><circle cx="359.0" cy="280.7" r="4.5" fill="#52ffb0"/><circle cx="359.2" cy="280.3" r="4.5" fill="#53ffaf"/><circle cx="359.4" cy="280.8" r="4.5" fill="#52ffb1"/><circle cx="359.6" cy="280.2" r="4.5" fill="#53ffaf"/><circle cx="359.8" cy="280.0" r="4.5" fill="#54ffaf"/><circle cx="360.0" cy="281.6" r="4.5" fill="#50ffb2"/><circle cx="360.2" cy="281.8" r="4.5" fill="#50ffb3"/><circle cx="360.4" cy="281.1" r="4.5" fill="#51ffb1"/><circle cx="360.6" cy="280.8" r="4.5" fill="#52ffb1"/><circle cx="360.8" cy="280.7" r="4.5" fill="#52ffb0"/><circle cx="361.1" cy="281.3" r="4.5" fill="#51ffb2"/><circle cx="361.3" cy="280.7" r="4.5" fill="#52ffb0"/><circle cx="361.5" cy="279.3" r="4.5" fill="#55ffad"/><circle cx="361.7" cy="279.0" r="4.5" fill="#56ffac"/><circle cx="361.9" cy="278.9" r="4.5" fill="#56ffac"/><circle cx="362.1" cy="278.9" r="4.5" fill="#56ffac"/><circle cx="362.3" cy="279.7" r="4.5" fill="#54ffae"/><circle cx="362.5" cy="279.7" r="4.5" fill="#54ffae"/><circle cx="362.7" cy="280.1" r="4.5" fill="#54ffaf"/><circle cx="362.9" cy="279.1" r="4.5" fill="#56ffad"/><circle cx="363.1" cy="279.5" r="4.5" fill="#55ffae"/><circle cx="363.3" cy="280.7" r="4.5" fill="#52ffb0"/><circle cx="363.5" cy="280.9" r="4.5" fill="#52ffb1"/><circle cx="363.7" cy="280.7" r="4.5" fill="#52ffb0"/><circle cx="363.9" cy="280.5" r="4.5" fill="#53ffb0"/><circle cx="364.1" cy="281.3" r="4.5" fill="#51ffb2"/><circle cx="364.4" cy="280.2" r="4.5" fill="#53ffaf"/><circle cx="364.6" cy="279.8" r="4.5" fill="#54ffae"/><circle cx="364.8" cy="279.8" r="4.5" fill="#54ffae"/><circle cx="365.0" cy="280.0" r="4.5" fill="#54ffaf"/><circle cx="365.2" cy="279.4" r="4.5" fill="#55ffad"/><circle cx="365.4" cy="279.4" r="4.5" fill="#55ffad"/><circle cx="365.6" cy="279.0" r="4.5" fill="#56ffac"/><circle cx="365.8" cy="279.0" r="4.5" fill="#56ffac"/><circle cx="366.0" cy="278.7" r="4.5" fill="#57ffac"/><circle cx="366.2" cy="277.8" r="4.5" fill="#59ffaa"/><circle cx="366.4" cy="277.7" r="4.5" fill="#59ffa9"/><circle cx="366.6" cy="278.3" r="4.5" fill="#58ffab"/><circle cx="366.8" cy="277.5" r="4.5" fill="#59ffa9"/><circle cx="367.0" cy="277.4" r="4.5" fill="#5affa8"/><circle cx="367.2" cy="277.8" r="4.5" fill="#59ffaa"/><circle cx="367.4" cy="277.0" r="4.5" fill="#5bffa8"/><circle cx="367.6" cy="277.2" r="4.5" fill="#5affa8"/><circle cx="367.9" cy="276.5" r="4.5" fill="#5cffa6"/><circle cx="368.1" cy="277.3" r="4.5" fill="#5affa8"/><circle cx="368.3" cy="278.9" r="4.5" fill="#56ffac"/><circle cx="368.5" cy="280.1" r="4.5" fill="#54ffaf"/><circle cx="368.7" cy="279.7" r="4.5" fill="#55ffae"/><circle cx="368.9" cy="279.9" r="4.5" fill="#54ffaf"/><circle cx="369.1" cy="279.7" r="4.5" fill="#54ffae"/><circle cx="369.3" cy="279.5" r="4.5" fill="#55ffae"/><circle cx="369.5" cy="280.4" r="4.5" fill="#53ffb0"/><circle cx="369.7" cy="279.1" r="4.5" fill="#56ffad"/><circle cx="369.9" cy="279.7" r="4.5" fill="#54ffae"/><circle cx="370.1" cy="279.4" r="4.5" fill="#55ffad"/><circle cx="370.3" cy="280.1" r="4.5" fill="#53ffaf"/><circle cx="370.5" cy="279.9" r="4.5" fill="#54ffaf"/><circle cx="370.7" cy="279.2" r="4.5" fill="#56ffad"/><circle cx="370.9" cy="279.2" r="4.5" fill="#56ffad"/><circle cx="371.1" cy="279.5" r="4.5" fill="#55ffad"/><circle cx="371.4" cy="279.3" r="4.5" fill="#55ffad"/><circle cx="371.6" cy="279.4" r="4.5" fill="#55ffad"/><circle cx="371.8" cy="278.8" r="4.5" fill="#57ffac"/><circle cx="372.0" cy="277.2" r="4.5" fill="#5affa8"/><circle cx="372.2" cy="277.8" r="4.5" fill="#59ffa9"/><circle cx="372.4" cy="278.2" r="4.5" fill="#58ffaa"/><circle cx="372.6" cy="278.2" r="4.5" fill="#58ffaa"/><circle cx="372.8" cy="278.1" r="4.5" fill="#58ffaa"/><circle cx="373.0" cy="278.7" r="4.5" fill="#57ffac"/><circle cx="373.2" cy="278.2" r="4.5" fill="#58ffaa"/><circle cx="373.4" cy="277.6" r="4.5" fill="#59ffa9"/><circle cx="373.6" cy="277.4" r="4.5" fill="#5affa9"/><circle cx="373.8" cy="278.2" r="4.5" fill="#58ffaa"/><circle cx="374.0" cy="277.1" r="4.5" fill="#5affa8"/><circle cx="374.2" cy="277.9" r="4.5" fill="#59ffaa"/><circle cx="374.4" cy="277.4" r="4.5" fill="#5affa9"/><circle cx="374.6" cy="276.6" r="4.5" fill="#5cffa7"/><circle cx="374.9" cy="277.5" r="4.5" fill="#5affa9"/><circle cx="375.1" cy="277.4" r="4.5" fill="#5affa8"/><circle cx="375.3" cy="276.4" r="4.5" fill="#5cffa6"/><circle cx="375.5" cy="276.2" r="4.5" fill="#5cffa6"/><circle cx="375.7" cy="277.0" r="4.5" fill="#5bffa8"/><circle cx="375.9" cy="277.8" r="4.5" fill="#59ffa9"/><circle cx="376.1" cy="277.4" r="4.5" fill="#5affa9"/><circle cx="376.3" cy="277.6" r="4.5" fill="#59ffa9"/><circle cx="376.5" cy="278.1" r="4.5" fill="#58ffaa"/><circle cx="376.7" cy="277.5" r="4.5" fill="#59ffa9"/><circle cx="376.9" cy="277.7" r="4.5" fill="#59ffa9"/><circle cx="377.1" cy="277.6" r="4.5" fill="#59ffa9"/><circle cx="377.3" cy="277.2" r="4.5" fill="#5affa8"/><circle cx="377.5" cy="276.8" r="4.5" fill="#5bffa7"/><circle cx="377.7" cy="276.9" r="4.5" fill="#5bffa7"/><circle cx="377.9" cy="276.9" r="4.5" fill="#5bffa7"/><circle cx="378.2" cy="276.5" r="4.5" fill="#5cffa7"/><circle cx="378.4" cy="276.3" r="4.5" fill="#5cffa6"/><circle cx="378.6" cy="277.1" r="4.5" fill="#5affa8"/><circle cx="378.8" cy="277.3" r="4.5" fill="#5affa8"/><circle cx="379.0" cy="277.8" r="4.5" fill="#59ffaa"/><circle cx="379.2" cy="278.6" r="4.5" fill="#57ffab"/><circle cx="379.4" cy="278.8" r="4.5" fill="#56ffac"/><circle cx="379.6" cy="280.2" r="4.5" fill="#53ffaf"/><circle cx="379.8" cy="279.3" r="4.5" fill="#55ffad"/><circle cx="380.0" cy="279.6" r="4.5" fill="#55ffae"/><circle cx="380.2" cy="279.1" r="4.5" fill="#56ffad"/><circle cx="380.4" cy="280.2" r="4.5" fill="#53ffaf"/><circle cx="380.6" cy="281.0" r="4.5" fill="#51ffb1"/><circle cx="380.8" cy="279.3" r="4.5" fill="#55ffad"/><circle cx="381.0" cy="278.4" r="4.5" fill="#57ffab"/><circle cx="381.2" cy="278.7" r="4.5" fill="#57ffac"/><circle cx="381.4" cy="279.1" r="4.5" fill="#56ffad"/><circle cx="381.7" cy="279.4" r="4.5" fill="#55ffad"/><circle cx="381.9" cy="279.1" r="4.5" fill="#56ffad"/><circle cx="382.1" cy="279.2" r="4.5" fill="#56ffad"/><circle cx="382.3" cy="279.4" r="4.5" fill="#55ffad"/><circle cx="382.5" cy="279.1" r="4.5" fill="#56ffad"/><circle cx="382.7" cy="279.6" r="4.5" fill="#55ffae"/><circle cx="382.9" cy="277.8" r="4.5" fill="#59ffaa"/><circle cx="383.1" cy="272.1" r="4.5" fill="#66ff9c"/><circle cx="383.3" cy="271.0" r="4.5" fill="#68ff9a"/><circle cx="383.5" cy="271.7" r="4.5" fill="#67ff9b"/><circle cx="383.7" cy="271.4" r="4.5" fill="#68ff9a"/><circle cx="383.9" cy="270.7" r="4.5" fill="#69ff99"/><circle cx="384.1" cy="271.0" r="4.5" fill="#69ff99"/><circle cx="384.3" cy="270.3" r="4.5" fill="#6aff98"/><circle cx="384.5" cy="269.8" r="4.5" fill="#6bff97"/><circle cx="384.7" cy="275.1" r="4.5" fill="#5fffa3"/><circle cx="384.9" cy="275.5" r="4.5" fill="#5effa4"/><circle cx="385.2" cy="276.2" r="4.5" fill="#5dffa6"/><circle cx="385.4" cy="277.2" r="4.5" fill="#5affa8"/><circle cx="385.6" cy="277.3" r="4.5" fill="#5affa8"/><circle cx="385.8" cy="278.3" r="4.5" fill="#58ffab"/><circle cx="386.0" cy="278.4" r="4.5" fill="#57ffab"/><circle cx="386.2" cy="278.5" r="4.5" fill="#57ffab"/><circle cx="386.4" cy="279.1" r="4.5" fill="#56ffad"/><circle cx="386.6" cy="279.9" r="4.5" fill="#54ffaf"/><circle cx="386.8" cy="279.8" r="4.5" fill="#54ffae"/><circle cx="387.0" cy="279.7" r="4.5" fill="#54ffae"/><circle cx="387.2" cy="279.7" r="4.5" fill="#54ffae"/><circle cx="387.4" cy="279.9" r="4.5" fill="#54ffaf"/><circle cx="387.6" cy="279.5" r="4.5" fill="#55ffad"/><circle cx="387.8" cy="280.4" r="4.5" fill="#53ffb0"/><circle cx="388.0" cy="280.2" r="4.5" fill="#53ffaf"/><circle cx="388.2" cy="280.5" r="4.5" fill="#52ffb0"/><circle cx="388.5" cy="279.9" r="4.5" fill="#54ffaf"/><circle cx="388.7" cy="280.2" r="4.5" fill="#53ffaf"/><circle cx="388.9" cy="280.5" r="4.5" fill="#53ffb0"/><circle cx="389.1" cy="280.2" r="4.5" fill="#53ffaf"/><circle cx="389.3" cy="281.6" r="4.5" fill="#50ffb3"/><circle cx="389.5" cy="281.7" r="4.5" fill="#50ffb3"/><circle cx="389.7" cy="282.8" r="4.5" fill="#4dffb5"/><circle cx="389.9" cy="283.3" r="4.5" fill="#4cffb6"/><circle cx="390.1" cy="282.5" r="4.5" fill="#4effb5"/><circle cx="390.3" cy="282.1" r="4.5" fill="#4fffb4"/><circle cx="390.5" cy="282.2" r="4.5" fill="#4fffb4"/><circle cx="390.7" cy="282.1" r="4.5" fill="#4fffb4"/><circle cx="390.9" cy="282.0" r="4.5" fill="#4fffb3"/><circle cx="391.1" cy="281.7" r="4.5" fill="#50ffb3"/><circle cx="391.3" cy="280.3" r="4.5" fill="#53ffb0"/><circle cx="391.5" cy="280.2" r="4.5" fill="#53ffaf"/><circle cx="391.7" cy="278.8" r="4.5" fill="#57ffac"/><circle cx="392.0" cy="279.2" r="4.5" fill="#55ffad"/><circle cx="392.2" cy="278.9" r="4.5" fill="#56ffac"/><circle cx="392.4" cy="278.6" r="4.5" fill="#57ffab"/><circle cx="392.6" cy="278.7" r="4.5" fill="#57ffac"/><circle cx="392.8" cy="279.1" r="4.5" fill="#56ffad"/><circle cx="393.0" cy="278.3" r="4.5" fill="#58ffab"/><circle cx="393.2" cy="277.4" r="4.5" fill="#5affa9"/><circle cx="393.4" cy="277.0" r="4.5" fill="#5bffa8"/><circle cx="393.6" cy="276.0" r="4.5" fill="#5dffa5"/><circle cx="393.8" cy="275.8" r="4.5" fill="#5dffa5"/><circle cx="394.0" cy="277.4" r="4.5" fill="#5affa9"/><circle cx="394.2" cy="277.1" r="4.5" fill="#5bffa8"/><circle cx="394.4" cy="277.9" r="4.5" fill="#59ffaa"/><circle cx="394.6" cy="277.3" r="4.5" fill="#5affa8"/><circle cx="394.8" cy="277.8" r="4.5" fill="#59ffaa"/><circle cx="395.0" cy="277.9" r="4.5" fill="#58ffaa"/><circle cx="395.2" cy="278.2" r="4.5" fill="#58ffaa"/><circle cx="395.5" cy="278.9" r="4.5" fill="#56ffac"/><circle cx="395.7" cy="280.3" r="4.5" fill="#53ffaf"/><circle cx="395.9" cy="280.5" r="4.5" fill="#53ffb0"/><circle cx="396.1" cy="280.6" r="4.5" fill="#52ffb0"/><circle cx="396.3" cy="280.0" r="4.5" fill="#54ffaf"/><circle cx="396.5" cy="280.5" r="4.5" fill="#52ffb0"/><circle cx="396.7" cy="280.4" r="4.5" fill="#53ffb0"/><circle cx="396.9" cy="281.1" r="4.5" fill="#51ffb1"/><circle cx="397.1" cy="281.1" r="4.5" fill="#51ffb1"/><circle cx="397.3" cy="282.5" r="4.5" fill="#4effb5"/><circle cx="397.5" cy="281.3" r="4.5" fill="#51ffb2"/><circle cx="397.7" cy="281.3" r="4.5" fill="#51ffb2"/><circle cx="397.9" cy="282.1" r="4.5" fill="#4fffb4"/><circle cx="398.1" cy="282.1" r="4.5" fill="#4fffb4"/><circle cx="398.3" cy="281.8" r="4.5" fill="#50ffb3"/><circle cx="398.5" cy="281.8" r="4.5" fill="#4fffb3"/><circle cx="398.8" cy="281.2" r="4.5" fill="#51ffb1"/><circle cx="399.0" cy="281.6" r="4.5" fill="#50ffb3"/><circle cx="399.2" cy="283.6" r="4.5" fill="#4bffb7"/><circle cx="399.4" cy="284.6" r="4.5" fill="#49ffb9"/><circle cx="399.6" cy="283.9" r="4.5" fill="#4bffb8"/><circle cx="399.8" cy="283.5" r="4.5" fill="#4cffb7"/><circle cx="400.0" cy="283.4" r="4.5" fill="#4cffb7"/><circle cx="400.2" cy="284.1" r="4.5" fill="#4affb8"/><circle cx="400.4" cy="283.5" r="4.5" fill="#4cffb7"/><circle cx="400.6" cy="283.0" r="4.5" fill="#4dffb6"/><circle cx="400.8" cy="283.6" r="4.5" fill="#4bffb7"/><circle cx="401.0" cy="284.1" r="4.5" fill="#4affb8"/><circle cx="401.2" cy="283.8" r="4.5" fill="#4bffb8"/><circle cx="401.4" cy="282.9" r="4.5" fill="#4dffb6"/><circle cx="401.6" cy="281.8" r="4.5" fill="#4fffb3"/><circle cx="401.8" cy="281.5" r="4.5" fill="#50ffb2"/><circle cx="402.0" cy="280.1" r="4.5" fill="#54ffaf"/><circle cx="402.3" cy="280.8" r="4.5" fill="#52ffb1"/><circle cx="402.5" cy="280.6" r="4.5" fill="#52ffb0"/><circle cx="402.7" cy="281.1" r="4.5" fill="#51ffb1"/><circle cx="402.9" cy="282.5" r="4.5" fill="#4effb5"/><circle cx="403.1" cy="283.3" r="4.5" fill="#4cffb6"/><circle cx="403.3" cy="282.4" r="4.5" fill="#4effb4"/><circle cx="403.5" cy="283.0" r="4.5" fill="#4dffb6"/><circle cx="403.7" cy="283.7" r="4.5" fill="#4bffb7"/><circle cx="403.9" cy="283.0" r="4.5" fill="#4dffb6"/><circle cx="404.1" cy="282.3" r="4.5" fill="#4effb4"/><circle cx="404.3" cy="282.2" r="4.5" fill="#4fffb4"/><circle cx="404.5" cy="281.1" r="4.5" fill="#51ffb1"/><circle cx="404.7" cy="282.2" r="4.5" fill="#4fffb4"/><circle cx="404.9" cy="280.5" r="4.5" fill="#53ffb0"/><circle cx="405.1" cy="279.9" r="4.5" fill="#54ffae"/><circle cx="405.3" cy="279.9" r="4.5" fill="#54ffae"/><circle cx="405.6" cy="279.9" r="4.5" fill="#54ffaf"/><circle cx="405.8" cy="280.2" r="4.5" fill="#53ffaf"/><circle cx="406.0" cy="280.5" r="4.5" fill="#52ffb0"/><circle cx="406.2" cy="280.5" r="4.5" fill="#53ffb0"/><circle cx="406.4" cy="281.4" r="4.5" fill="#51ffb2"/><circle cx="406.6" cy="267.3" r="4.5" fill="#71ff91"/><circle cx="406.8" cy="267.5" r="4.5" fill="#71ff91"/><circle cx="407.0" cy="267.2" r="4.5" fill="#71ff90"/><circle cx="407.2" cy="267.5" r="4.5" fill="#71ff91"/><circle cx="407.4" cy="267.8" r="4.5" fill="#70ff92"/><circle cx="407.6" cy="267.3" r="4.5" fill="#71ff91"/><circle cx="407.8" cy="267.1" r="4.5" fill="#72ff90"/><circle cx="408.0" cy="267.9" r="4.5" fill="#70ff92"/><circle cx="408.2" cy="270.1" r="4.5" fill="#6bff97"/><circle cx="408.4" cy="274.8" r="4.5" fill="#60ffa2"/><circle cx="408.6" cy="276.6" r="4.5" fill="#5cffa7"/><circle cx="408.8" cy="278.5" r="4.5" fill="#57ffab"/><circle cx="409.1" cy="277.6" r="4.5" fill="#59ffa9"/><circle cx="409.3" cy="278.1" r="4.5" fill="#58ffaa"/><circle cx="409.5" cy="280.0" r="4.5" fill="#54ffaf"/><circle cx="409.7" cy="280.6" r="4.5" fill="#52ffb0"/><circle cx="409.9" cy="280.8" r="4.5" fill="#52ffb1"/><circle cx="410.1" cy="280.7" r="4.5" fill="#52ffb0"/><circle cx="410.3" cy="280.5" r="4.5" fill="#53ffb0"/><circle cx="410.5" cy="280.5" r="4.5" fill="#53ffb0"/><circle cx="410.7" cy="280.3" r="4.5" fill="#53ffaf"/><circle cx="410.9" cy="281.0" r="4.5" fill="#51ffb1"/><circle cx="411.1" cy="274.8" r="4.5" fill="#60ffa2"/><circle cx="411.3" cy="274.3" r="4.5" fill="#61ffa1"/><circle cx="411.5" cy="273.3" r="4.5" fill="#63ff9f"/><circle cx="411.7" cy="273.2" r="4.5" fill="#63ff9f"/><circle cx="411.9" cy="272.6" r="4.5" fill="#65ff9d"/><circle cx="412.1" cy="272.4" r="4.5" fill="#65ff9d"/><circle cx="412.3" cy="273.1" r="4.5" fill="#64ff9e"/><circle cx="412.6" cy="273.3" r="4.5" fill="#63ff9f"/><circle cx="412.8" cy="273.5" r="4.5" fill="#63ff9f"/><circle cx="413.0" cy="273.6" r="4.5" fill="#62ffa0"/><circle cx="413.2" cy="273.5" r="4.5" fill="#63ff9f"/><circle cx="413.4" cy="273.3" r="4.5" fill="#63ff9f"/><circle cx="413.6" cy="273.0" r="4.5" fill="#64ff9e"/><circle cx="413.8" cy="273.4" r="4.5" fill="#63ff9f"/><circle cx="414.0" cy="272.5" r="4.5" fill="#65ff9d"/><circle cx="414.2" cy="273.4" r="4.5" fill="#63ff9f"/><circle cx="414.4" cy="273.2" r="4.5" fill="#63ff9f"/><circle cx="414.6" cy="272.6" r="4.5" fill="#65ff9d"/><circle cx="414.8" cy="272.1" r="4.5" fill="#66ff9c"/><circle cx="415.0" cy="271.6" r="4.5" fill="#67ff9b"/><circle cx="415.2" cy="271.7" r="4.5" fill="#67ff9b"/><circle cx="415.4" cy="271.2" r="4.5" fill="#68ff9a"/><circle cx="415.6" cy="272.0" r="4.5" fill="#66ff9c"/><circle cx="415.8" cy="271.5" r="4.5" fill="#67ff9b"/><circle cx="416.1" cy="270.0" r="4.5" fill="#6bff97"/><circle cx="416.3" cy="269.7" r="4.5" fill="#6bff96"/><circle cx="416.5" cy="268.6" r="4.5" fill="#6eff94"/><circle cx="416.7" cy="269.0" r="4.5" fill="#6dff95"/><circle cx="416.9" cy="270.0" r="4.5" fill="#6bff97"/><circle cx="417.1" cy="270.7" r="4.5" fill="#69ff99"/><circle cx="417.3" cy="270.0" r="4.5" fill="#6bff97"/><circle cx="417.5" cy="269.7" r="4.5" fill="#6cff96"/><circle cx="417.7" cy="271.2" r="4.5" fill="#68ff9a"/><circle cx="417.9" cy="271.5" r="4.5" fill="#67ff9b"/><circle cx="418.1" cy="271.6" r="4.5" fill="#67ff9b"/><circle cx="418.3" cy="272.4" r="4.5" fill="#65ff9d"/><circle cx="418.5" cy="274.1" r="4.5" fill="#61ffa1"/><circle cx="418.7" cy="274.8" r="4.5" fill="#60ffa3"/><circle cx="418.9" cy="274.7" r="4.5" fill="#60ffa2"/><circle cx="419.1" cy="274.7" r="4.5" fill="#60ffa2"/><circle cx="419.4" cy="274.9" r="4.5" fill="#5fffa3"/><circle cx="419.6" cy="274.3" r="4.5" fill="#61ffa1"/><circle cx="419.8" cy="273.4" r="4.5" fill="#63ff9f"/><circle cx="420.0" cy="273.4" r="4.5" fill="#63ff9f"/><circle cx="420.2" cy="272.7" r="4.5" fill="#65ff9d"/><circle cx="420.4" cy="272.6" r="4.5" fill="#65ff9d"/><circle cx="420.6" cy="272.7" r="4.5" fill="#65ff9e"/><circle cx="420.8" cy="274.3" r="4.5" fill="#61ffa1"/><circle cx="421.0" cy="273.6" r="4.5" fill="#63ffa0"/><circle cx="421.2" cy="273.5" r="4.5" fill="#63ff9f"/><circle cx="421.4" cy="273.3" r="4.5" fill="#63ff9f"/><circle cx="421.6" cy="273.6" r="4.5" fill="#63ff9f"/><circle cx="421.8" cy="274.2" r="4.5" fill="#61ffa1"/><circle cx="422.0" cy="273.8" r="4.5" fill="#62ffa0"/><circle cx="422.2" cy="273.1" r="4.5" fill="#64ff9e"/><circle cx="422.4" cy="272.0" r="4.5" fill="#66ff9c"/><circle cx="422.6" cy="271.5" r="4.5" fill="#67ff9b"/><circle cx="422.9" cy="272.0" r="4.5" fill="#66ff9c"/><circle cx="423.1" cy="272.1" r="4.5" fill="#66ff9c"/><circle cx="423.3" cy="271.6" r="4.5" fill="#67ff9b"/><circle cx="423.5" cy="271.5" r="4.5" fill="#67ff9b"/><circle cx="423.7" cy="271.7" r="4.5" fill="#67ff9b"/><circle cx="423.9" cy="272.2" r="4.5" fill="#66ff9c"/><circle cx="424.1" cy="271.7" r="4.5" fill="#67ff9b"/><circle cx="424.3" cy="271.7" r="4.5" fill="#67ff9b"/><circle cx="424.5" cy="270.6" r="4.5" fill="#6aff98"/><circle cx="424.7" cy="270.0" r="4.5" fill="#6bff97"/><circle cx="424.9" cy="265.9" r="4.5" fill="#74ff8d"/><circle cx="425.1" cy="263.6" r="4.5" fill="#7aff88"/><circle cx="425.3" cy="263.7" r="4.5" fill="#7aff88"/><circle cx="425.5" cy="264.1" r="4.5" fill="#79ff89"/><circle cx="425.7" cy="264.1" r="4.5" fill="#79ff89"/><circle cx="425.9" cy="257.3" r="4.5" fill="#88ff79"/><circle cx="426.1" cy="257.5" r="4.5" fill="#88ff7a"/><circle cx="426.4" cy="257.7" r="4.5" fill="#87ff7a"/><circle cx="426.6" cy="257.9" r="4.5" fill="#87ff7b"/><circle cx="426.8" cy="250.4" r="4.5" fill="#98ff69"/><circle cx="427.0" cy="250.6" r="4.5" fill="#98ff69"/><circle cx="427.2" cy="250.3" r="4.5" fill="#99ff69"/><circle cx="427.4" cy="250.2" r="4.5" fill="#99ff68"/><circle cx="427.6" cy="250.7" r="4.5" fill="#98ff6a"/><circle cx="427.8" cy="244.9" r="4.5" fill="#a5ff5c"/><circle cx="428.0" cy="245.8" r="4.5" fill="#a3ff5e"/><circle cx="428.2" cy="245.5" r="4.5" fill="#a3ff5d"/><circle cx="428.4" cy="246.3" r="4.5" fill="#a2ff5f"/><circle cx="428.6" cy="247.3" r="4.5" fill="#9fff62"/><circle cx="428.8" cy="248.5" r="4.5" fill="#9dff64"/><circle cx="429.0" cy="249.8" r="4.5" fill="#9aff67"/><circle cx="429.2" cy="249.9" r="4.5" fill="#99ff68"/><circle cx="429.4" cy="250.1" r="4.5" fill="#99ff68"/><circle cx="429.7" cy="251.0" r="4.5" fill="#97ff6a"/><circle cx="429.9" cy="250.3" r="4.5" fill="#98ff69"/><circle cx="430.1" cy="250.8" r="4.5" fill="#97ff6a"/><circle cx="430.3" cy="250.8" r="4.5" fill="#97ff6a"/><circle cx="430.5" cy="250.9" r="4.5" fill="#97ff6a"/><circle cx="430.7" cy="250.1" r="4.5" fill="#99ff68"/><circle cx="430.9" cy="250.1" r="4.5" fill="#99ff68"/><circle cx="431.1" cy="250.6" r="4.5" fill="#98ff69"/><circle cx="431.3" cy="251.8" r="4.5" fill="#95ff6c"/><circle cx="431.5" cy="253.0" r="4.5" fill="#92ff6f"/><circle cx="431.7" cy="253.3" r="4.5" fill="#91ff70"/><circle cx="431.9" cy="253.6" r="4.5" fill="#91ff70"/><circle cx="432.1" cy="253.5" r="4.5" fill="#91ff70"/><circle cx="432.3" cy="254.3" r="4.5" fill="#8fff72"/><circle cx="432.5" cy="254.5" r="4.5" fill="#8fff73"/><circle cx="432.7" cy="255.4" r="4.5" fill="#8dff75"/><circle cx="432.9" cy="257.0" r="4.5" fill="#89ff78"/><circle cx="433.2" cy="257.0" r="4.5" fill="#89ff78"/><circle cx="433.4" cy="256.0" r="4.5" fill="#8bff76"/><circle cx="433.6" cy="255.4" r="4.5" fill="#8dff75"/><circle cx="433.8" cy="254.5" r="4.5" fill="#8fff73"/><circle cx="434.0" cy="253.9" r="4.5" fill="#90ff71"/><circle cx="434.2" cy="255.1" r="4.5" fill="#8dff74"/><circle cx="434.4" cy="255.4" r="4.5" fill="#8dff75"/><circle cx="434.6" cy="254.5" r="4.5" fill="#8fff73"/><circle cx="434.8" cy="255.2" r="4.5" fill="#8dff74"/><circle cx="435.0" cy="256.2" r="4.5" fill="#8bff77"/><circle cx="435.2" cy="256.0" r="4.5" fill="#8bff76"/><circle cx="435.4" cy="255.7" r="4.5" fill="#8cff75"/><circle cx="435.6" cy="255.6" r="4.5" fill="#8cff75"/><circle cx="435.8" cy="255.9" r="4.5" fill="#8cff76"/><circle cx="436.0" cy="256.4" r="4.5" fill="#8aff77"/><circle cx="436.2" cy="257.3" r="4.5" fill="#88ff79"/><circle cx="436.4" cy="258.1" r="4.5" fill="#86ff7b"/><circle cx="436.7" cy="258.8" r="4.5" fill="#85ff7d"/><circle cx="436.9" cy="259.6" r="4.5" fill="#83ff7f"/><circle cx="437.1" cy="259.8" r="4.5" fill="#82ff7f"/><circle cx="437.3" cy="258.5" r="4.5" fill="#85ff7c"/><circle cx="437.5" cy="258.3" r="4.5" fill="#86ff7c"/><circle cx="437.7" cy="258.4" r="4.5" fill="#86ff7c"/><circle cx="437.9" cy="258.1" r="4.5" fill="#86ff7b"/><circle cx="438.1" cy="258.6" r="4.5" fill="#85ff7c"/><circle cx="438.3" cy="258.3" r="4.5" fill="#86ff7b"/><circle cx="438.5" cy="257.6" r="4.5" fill="#88ff7a"/><circle cx="438.7" cy="258.6" r="4.5" fill="#85ff7c"/><circle cx="438.9" cy="258.9" r="4.5" fill="#84ff7d"/><circle cx="439.1" cy="259.0" r="4.5" fill="#84ff7d"/><circle cx="439.3" cy="259.5" r="4.5" fill="#83ff7e"/><circle cx="439.5" cy="260.0" r="4.5" fill="#82ff80"/><circle cx="439.7" cy="260.0" r="4.5" fill="#82ff80"/><circle cx="440.0" cy="258.2" r="4.5" fill="#86ff7b"/><circle cx="440.2" cy="257.6" r="4.5" fill="#88ff7a"/><circle cx="440.4" cy="257.2" r="4.5" fill="#88ff79"/><circle cx="440.6" cy="256.5" r="4.5" fill="#8aff77"/><circle cx="440.8" cy="256.7" r="4.5" fill="#8aff78"/><circle cx="441.0" cy="257.5" r="4.5" fill="#88ff7a"/><circle cx="441.2" cy="257.1" r="4.5" fill="#89ff79"/><circle cx="441.4" cy="256.3" r="4.5" fill="#8bff77"/><circle cx="441.6" cy="257.7" r="4.5" fill="#87ff7a"/><circle cx="441.8" cy="257.3" r="4.5" fill="#88ff79"/><circle cx="442.0" cy="256.4" r="4.5" fill="#8aff77"/><circle cx="442.2" cy="256.5" r="4.5" fill="#8aff77"/><circle cx="442.4" cy="256.8" r="4.5" fill="#89ff78"/><circle cx="442.6" cy="256.3" r="4.5" fill="#8bff77"/><circle cx="442.8" cy="256.8" r="4.5" fill="#89ff78"/><circle cx="443.0" cy="256.5" r="4.5" fill="#8aff77"/><circle cx="443.2" cy="255.8" r="4.5" fill="#8cff76"/><circle cx="443.5" cy="256.0" r="4.5" fill="#8bff76"/><circle cx="443.7" cy="256.5" r="4.5" fill="#8aff77"/><circle cx="443.9" cy="256.0" r="4.5" fill="#8bff76"/><circle cx="444.1" cy="256.2" r="4.5" fill="#8bff77"/><circle cx="444.3" cy="256.2" r="4.5" fill="#8bff76"/><circle cx="444.5" cy="258.1" r="4.5" fill="#87ff7b"/><circle cx="444.7" cy="257.4" r="4.5" fill="#88ff79"/><circle cx="444.9" cy="258.1" r="4.5" fill="#86ff7b"/><circle cx="445.1" cy="257.9" r="4.5" fill="#87ff7a"/><circle cx="445.3" cy="257.6" r="4.5" fill="#88ff7a"/><circle cx="445.5" cy="257.9" r="4.5" fill="#87ff7a"/><circle cx="445.7" cy="258.2" r="4.5" fill="#86ff7b"/><circle cx="445.9" cy="258.8" r="4.5" fill="#85ff7d"/><circle cx="446.1" cy="258.7" r="4.5" fill="#85ff7c"/><circle cx="446.3" cy="257.8" r="4.5" fill="#87ff7a"/><circle cx="446.5" cy="257.1" r="4.5" fill="#89ff79"/><circle cx="446.8" cy="257.1" r="4.5" fill="#89ff79"/><circle cx="447.0" cy="257.2" r="4.5" fill="#88ff79"/><circle cx="447.2" cy="257.8" r="4.5" fill="#87ff7a"/><circle cx="447.4" cy="257.7" r="4.5" fill="#87ff7a"/><circle cx="447.6" cy="258.0" r="4.5" fill="#87ff7b"/><circle cx="447.8" cy="258.5" r="4.5" fill="#85ff7c"/><circle cx="448.0" cy="258.1" r="4.5" fill="#86ff7b"/><circle cx="448.2" cy="256.6" r="4.5" fill="#8aff77"/><circle cx="448.4" cy="255.4" r="4.5" fill="#8dff75"/><circle cx="448.6" cy="254.1" r="4.5" fill="#90ff72"/><circle cx="448.8" cy="255.0" r="4.5" fill="#8dff74"/><circle cx="449.0" cy="254.2" r="4.5" fill="#8fff72"/><circle cx="449.2" cy="254.8" r="4.5" fill="#8eff73"/><circle cx="449.4" cy="254.9" r="4.5" fill="#8eff74"/><circle cx="449.6" cy="255.8" r="4.5" fill="#8cff76"/><circle cx="449.8" cy="256.1" r="4.5" fill="#8bff76"/><circle cx="450.0" cy="255.5" r="4.5" fill="#8cff75"/><circle cx="450.3" cy="255.0" r="4.5" fill="#8eff74"/><circle cx="450.5" cy="254.7" r="4.5" fill="#8eff73"/><circle cx="450.7" cy="254.4" r="4.5" fill="#8fff72"/><circle cx="450.9" cy="253.7" r="4.5" fill="#91ff71"/><circle cx="451.1" cy="253.4" r="4.5" fill="#91ff70"/><circle cx="451.3" cy="254.2" r="4.5" fill="#8fff72"/><circle cx="451.5" cy="252.7" r="4.5" fill="#93ff6e"/><circle cx="451.7" cy="252.6" r="4.5" fill="#93ff6e"/><circle cx="451.9" cy="251.8" r="4.5" fill="#95ff6c"/><circle cx="452.1" cy="251.7" r="4.5" fill="#95ff6c"/><circle cx="452.3" cy="252.1" r="4.5" fill="#94ff6d"/><circle cx="452.5" cy="251.8" r="4.5" fill="#95ff6c"/><circle cx="452.7" cy="252.1" r="4.5" fill="#94ff6d"/><circle cx="452.9" cy="250.7" r="4.5" fill="#97ff6a"/><circle cx="453.1" cy="251.4" r="4.5" fill="#96ff6b"/><circle cx="453.3" cy="250.8" r="4.5" fill="#97ff6a"/><circle cx="453.5" cy="251.1" r="4.5" fill="#97ff6a"/><circle cx="453.8" cy="251.0" r="4.5" fill="#97ff6a"/><circle cx="454.0" cy="249.1" r="4.5" fill="#9bff66"/><circle cx="454.2" cy="248.6" r="4.5" fill="#9cff65"/><circle cx="454.4" cy="248.8" r="4.5" fill="#9cff65"/><circle cx="454.6" cy="249.9" r="4.5" fill="#99ff68"/><circle cx="454.8" cy="250.0" r="4.5" fill="#99ff68"/><circle cx="455.0" cy="250.0" r="4.5" fill="#99ff68"/><circle cx="455.2" cy="248.9" r="4.5" fill="#9cff65"/><circle cx="455.4" cy="249.9" r="4.5" fill="#99ff68"/><circle cx="455.6" cy="251.0" r="4.5" fill="#97ff6a"/><circle cx="455.8" cy="250.7" r="4.5" fill="#97ff6a"/><circle cx="456.0" cy="250.3" r="4.5" fill="#98ff69"/><circle cx="456.2" cy="249.0" r="4.5" fill="#9bff66"/><circle cx="456.4" cy="249.5" r="4.5" fill="#9aff67"/><circle cx="456.6" cy="251.2" r="4.5" fill="#96ff6b"/><circle cx="456.8" cy="251.3" r="4.5" fill="#96ff6b"/><circle cx="457.0" cy="251.8" r="4.5" fill="#95ff6c"/><circle cx="457.3" cy="251.8" r="4.5" fill="#95ff6c"/><circle cx="457.5" cy="250.7" r="4.5" fill="#98ff6a"/><circle cx="457.7" cy="251.3" r="4.5" fill="#96ff6b"/><circle cx="457.9" cy="250.0" r="4.5" fill="#99ff68"/><circle cx="458.1" cy="249.6" r="4.5" fill="#9aff67"/><circle cx="458.3" cy="249.6" r="4.5" fill="#9aff67"/><circle cx="458.5" cy="249.9" r="4.5" fill="#99ff68"/><circle cx="458.7" cy="249.9" r="4.5" fill="#99ff68"/><circle cx="458.9" cy="249.9" r="4.5" fill="#99ff68"/><circle cx="459.1" cy="249.0" r="4.5" fill="#9bff66"/><circle cx="459.3" cy="247.9" r="4.5" fill="#9eff63"/><circle cx="459.5" cy="247.8" r="4.5" fill="#9eff63"/><circle cx="459.7" cy="247.2" r="4.5" fill="#a0ff61"/><circle cx="459.9" cy="246.2" r="4.5" fill="#a2ff5f"/><circle cx="460.1" cy="245.3" r="4.5" fill="#a4ff5d"/><circle cx="460.3" cy="245.1" r="4.5" fill="#a5ff5c"/><circle cx="460.6" cy="243.9" r="4.5" fill="#a7ff5a"/><circle cx="460.8" cy="243.2" r="4.5" fill="#a9ff58"/><circle cx="461.0" cy="242.3" r="4.5" fill="#abff56"/><circle cx="461.2" cy="242.8" r="4.5" fill="#aaff57"/><circle cx="461.4" cy="243.4" r="4.5" fill="#a9ff58"/><circle cx="461.6" cy="244.9" r="4.5" fill="#a5ff5c"/><circle cx="461.8" cy="244.0" r="4.5" fill="#a7ff5a"/><circle cx="462.0" cy="243.6" r="4.5" fill="#a8ff59"/><circle cx="462.2" cy="244.4" r="4.5" fill="#a6ff5b"/><circle cx="462.4" cy="244.3" r="4.5" fill="#a6ff5a"/><circle cx="462.6" cy="244.2" r="4.5" fill="#a7ff5a"/><circle cx="462.8" cy="245.4" r="4.5" fill="#a4ff5d"/><circle cx="463.0" cy="245.1" r="4.5" fill="#a4ff5c"/><circle cx="463.2" cy="244.3" r="4.5" fill="#a6ff5a"/><circle cx="463.4" cy="243.5" r="4.5" fill="#a8ff59"/><circle cx="463.6" cy="243.9" r="4.5" fill="#a7ff59"/><circle cx="463.8" cy="244.2" r="4.5" fill="#a7ff5a"/><circle cx="464.1" cy="243.3" r="4.5" fill="#a9ff58"/><circle cx="464.3" cy="242.8" r="4.5" fill="#aaff57"/><circle cx="464.5" cy="243.4" r="4.5" fill="#a8ff58"/><circle cx="464.7" cy="243.9" r="4.5" fill="#a7ff5a"/><circle cx="464.9" cy="243.6" r="4.5" fill="#a8ff59"/><circle cx="465.1" cy="244.1" r="4.5" fill="#a7ff5a"/><circle cx="465.3" cy="244.5" r="4.5" fill="#a6ff5b"/><circle cx="465.5" cy="243.3" r="4.5" fill="#a9ff58"/><circle cx="465.7" cy="243.2" r="4.5" fill="#a9ff58"/><circle cx="465.9" cy="243.6" r="4.5" fill="#a8ff59"/><circle cx="466.1" cy="243.3" r="4.5" fill="#a9ff58"/><circle cx="466.3" cy="241.9" r="4.5" fill="#acff55"/><circle cx="466.5" cy="242.0" r="4.5" fill="#acff55"/><circle cx="466.7" cy="242.7" r="4.5" fill="#aaff57"/><circle cx="466.9" cy="243.9" r="4.5" fill="#a7ff5a"/><circle cx="467.1" cy="242.5" r="4.5" fill="#abff56"/><circle cx="467.3" cy="244.4" r="4.5" fill="#a6ff5b"/><circle cx="467.6" cy="243.6" r="4.5" fill="#a8ff59"/><circle cx="467.8" cy="244.3" r="4.5" fill="#a6ff5a"/><circle cx="468.0" cy="245.1" r="4.5" fill="#a5ff5c"/><circle cx="468.2" cy="245.6" r="4.5" fill="#a3ff5e"/><circle cx="468.4" cy="245.5" r="4.5" fill="#a4ff5d"/><circle cx="468.6" cy="244.6" r="4.5" fill="#a6ff5b"/><circle cx="468.8" cy="244.9" r="4.5" fill="#a5ff5c"/><circle cx="469.0" cy="244.3" r="4.5" fill="#a6ff5a"/><circle cx="469.2" cy="242.5" r="4.5" fill="#abff56"/><circle cx="469.4" cy="244.5" r="4.5" fill="#a6ff5b"/><circle cx="469.6" cy="244.9" r="4.5" fill="#a5ff5c"/><circle cx="469.8" cy="246.0" r="4.5" fill="#a3ff5e"/><circle cx="470.0" cy="245.1" r="4.5" fill="#a5ff5c"/><circle cx="470.2" cy="245.9" r="4.5" fill="#a3ff5e"/><circle cx="470.4" cy="246.7" r="4.5" fill="#a1ff60"/><circle cx="470.6" cy="247.4" r="4.5" fill="#9fff62"/><circle cx="470.9" cy="247.0" r="4.5" fill="#a0ff61"/><circle cx="471.1" cy="245.7" r="4.5" fill="#a3ff5e"/><circle cx="471.3" cy="245.3" r="4.5" fill="#a4ff5d"/><circle cx="471.5" cy="243.6" r="4.5" fill="#a8ff59"/><circle cx="471.7" cy="242.4" r="4.5" fill="#abff56"/><circle cx="471.9" cy="242.5" r="4.5" fill="#abff56"/><circle cx="472.1" cy="241.8" r="4.5" fill="#acff55"/><circle cx="472.3" cy="241.8" r="4.5" fill="#acff55"/><circle cx="472.5" cy="241.8" r="4.5" fill="#acff55"/><circle cx="472.7" cy="243.2" r="4.5" fill="#a9ff58"/><circle cx="472.9" cy="244.0" r="4.5" fill="#a7ff5a"/><circle cx="473.1" cy="243.8" r="4.5" fill="#a7ff59"/><circle cx="473.3" cy="244.5" r="4.5" fill="#a6ff5b"/><circle cx="473.5" cy="243.8" r="4.5" fill="#a7ff59"/><circle cx="473.7" cy="243.5" r="4.5" fill="#a8ff58"/><circle cx="473.9" cy="244.0" r="4.5" fill="#a7ff5a"/><circle cx="474.1" cy="243.0" r="4.5" fill="#a9ff57"/><circle cx="474.4" cy="242.8" r="4.5" fill="#aaff57"/><circle cx="474.6" cy="241.8" r="4.5" fill="#acff55"/><circle cx="474.8" cy="242.0" r="4.5" fill="#acff55"/><circle cx="475.0" cy="243.1" r="4.5" fill="#a9ff58"/><circle cx="475.2" cy="242.5" r="4.5" fill="#aaff56"/><circle cx="475.4" cy="242.7" r="4.5" fill="#aaff57"/><circle cx="475.6" cy="242.0" r="4.5" fill="#acff55"/><circle cx="475.8" cy="241.2" r="4.5" fill="#adff53"/><circle cx="476.0" cy="240.5" r="4.5" fill="#afff51"/><circle cx="476.2" cy="241.7" r="4.5" fill="#acff54"/><circle cx="476.4" cy="243.3" r="4.5" fill="#a9ff58"/><circle cx="476.6" cy="243.5" r="4.5" fill="#a8ff59"/><circle cx="476.8" cy="242.9" r="4.5" fill="#aaff57"/><circle cx="477.0" cy="243.3" r="4.5" fill="#a9ff58"/><circle cx="477.2" cy="242.9" r="4.5" fill="#aaff57"/><circle cx="477.4" cy="243.4" r="4.5" fill="#a9ff58"/><circle cx="477.6" cy="243.4" r="4.5" fill="#a8ff58"/><circle cx="477.9" cy="243.5" r="4.5" fill="#a8ff58"/><circle cx="478.1" cy="243.7" r="4.5" fill="#a8ff59"/><circle cx="478.3" cy="243.1" r="4.5" fill="#a9ff58"/><circle cx="478.5" cy="242.7" r="4.5" fill="#aaff57"/><circle cx="478.7" cy="241.4" r="4.5" fill="#adff54"/><circle cx="478.9" cy="241.2" r="4.5" fill="#aeff53"/><circle cx="479.1" cy="240.3" r="4.5" fill="#b0ff51"/><circle cx="479.3" cy="240.3" r="4.5" fill="#afff51"/><circle cx="479.5" cy="239.9" r="4.5" fill="#b1ff50"/><circle cx="479.7" cy="240.1" r="4.5" fill="#b0ff51"/><circle cx="479.9" cy="240.6" r="4.5" fill="#afff52"/><circle cx="480.1" cy="239.8" r="4.5" fill="#b1ff50"/><circle cx="480.3" cy="239.5" r="4.5" fill="#b2ff4f"/><circle cx="480.5" cy="239.1" r="4.5" fill="#b2ff4e"/><circle cx="480.7" cy="239.9" r="4.5" fill="#b1ff50"/><circle cx="480.9" cy="241.3" r="4.5" fill="#adff53"/><circle cx="481.2" cy="241.9" r="4.5" fill="#acff55"/><circle cx="481.4" cy="241.7" r="4.5" fill="#acff54"/><circle cx="481.6" cy="242.7" r="4.5" fill="#aaff57"/><circle cx="481.8" cy="241.6" r="4.5" fill="#adff54"/><circle cx="482.0" cy="239.6" r="4.5" fill="#b1ff4f"/><circle cx="482.2" cy="238.1" r="4.5" fill="#b5ff4c"/><circle cx="482.4" cy="236.2" r="4.5" fill="#b9ff47"/><circle cx="482.6" cy="238.2" r="4.5" fill="#b5ff4c"/><circle cx="482.8" cy="239.2" r="4.5" fill="#b2ff4e"/><circle cx="483.0" cy="238.4" r="4.5" fill="#b4ff4c"/><circle cx="483.2" cy="238.4" r="4.5" fill="#b4ff4d"/><circle cx="483.4" cy="238.2" r="4.5" fill="#b4ff4c"/><circle cx="483.6" cy="238.2" r="4.5" fill="#b4ff4c"/><circle cx="483.8" cy="237.2" r="4.5" fill="#b7ff4a"/><circle cx="484.0" cy="236.7" r="4.5" fill="#b8ff49"/><circle cx="484.2" cy="237.2" r="4.5" fill="#b7ff4a"/><circle cx="484.4" cy="237.4" r="4.5" fill="#b6ff4a"/><circle cx="484.7" cy="238.2" r="4.5" fill="#b4ff4c"/><circle cx="484.9" cy="238.2" r="4.5" fill="#b4ff4c"/><circle cx="485.1" cy="239.7" r="4.5" fill="#b1ff50"/><circle cx="485.3" cy="239.0" r="4.5" fill="#b3ff4e"/><circle cx="485.5" cy="239.1" r="4.5" fill="#b2ff4e"/><circle cx="485.7" cy="237.6" r="4.5" fill="#b6ff4b"/><circle cx="485.9" cy="236.7" r="4.5" fill="#b8ff49"/><circle cx="486.1" cy="237.7" r="4.5" fill="#b6ff4b"/><circle cx="486.3" cy="237.1" r="4.5" fill="#b7ff49"/><circle cx="486.5" cy="237.5" r="4.5" fill="#b6ff4a"/><circle cx="486.7" cy="237.4" r="4.5" fill="#b6ff4a"/><circle cx="486.9" cy="236.7" r="4.5" fill="#b8ff49"/><circle cx="487.1" cy="236.5" r="4.5" fill="#b8ff48"/><circle cx="487.3" cy="236.3" r="4.5" fill="#b9ff47"/><circle cx="487.5" cy="236.1" r="4.5" fill="#b9ff47"/><circle cx="487.7" cy="236.7" r="4.5" fill="#b8ff48"/><circle cx="487.9" cy="237.2" r="4.5" fill="#b7ff4a"/><circle cx="488.2" cy="236.8" r="4.5" fill="#b8ff49"/><circle cx="488.4" cy="236.2" r="4.5" fill="#b9ff47"/><circle cx="488.6" cy="236.5" r="4.5" fill="#b8ff48"/><circle cx="488.8" cy="236.5" r="4.5" fill="#b8ff48"/><circle cx="489.0" cy="237.2" r="4.5" fill="#b7ff4a"/><circle cx="489.2" cy="239.0" r="4.5" fill="#b3ff4e"/><circle cx="489.4" cy="239.4" r="4.5" fill="#b2ff4f"/><circle cx="489.6" cy="239.1" r="4.5" fill="#b2ff4e"/><circle cx="489.8" cy="238.8" r="4.5" fill="#b3ff4d"/><circle cx="490.0" cy="238.0" r="4.5" fill="#b5ff4c"/><circle cx="490.2" cy="237.3" r="4.5" fill="#b7ff4a"/><circle cx="490.4" cy="236.5" r="4.5" fill="#b8ff48"/><circle cx="490.6" cy="236.3" r="4.5" fill="#b9ff48"/><circle cx="490.8" cy="236.0" r="4.5" fill="#b9ff47"/><circle cx="491.0" cy="239.0" r="4.5" fill="#b3ff4e"/><circle cx="491.2" cy="242.5" r="4.5" fill="#abff56"/><circle cx="491.5" cy="242.5" r="4.5" fill="#abff56"/><circle cx="491.7" cy="241.8" r="4.5" fill="#acff55"/><circle cx="491.9" cy="243.2" r="4.5" fill="#a9ff58"/><circle cx="492.1" cy="243.7" r="4.5" fill="#a8ff59"/><circle cx="492.3" cy="245.0" r="4.5" fill="#a5ff5c"/><circle cx="492.5" cy="245.5" r="4.5" fill="#a4ff5d"/><circle cx="492.7" cy="246.4" r="4.5" fill="#a1ff5f"/><circle cx="492.9" cy="246.1" r="4.5" fill="#a2ff5f"/><circle cx="493.1" cy="246.5" r="4.5" fill="#a1ff60"/><circle cx="493.3" cy="248.2" r="4.5" fill="#9dff64"/><circle cx="493.5" cy="247.0" r="4.5" fill="#a0ff61"/><circle cx="493.7" cy="247.7" r="4.5" fill="#9fff62"/><circle cx="493.9" cy="248.6" r="4.5" fill="#9cff65"/><circle cx="494.1" cy="248.6" r="4.5" fill="#9cff65"/><circle cx="494.3" cy="248.8" r="4.5" fill="#9cff65"/><circle cx="494.5" cy="249.4" r="4.5" fill="#9bff66"/><circle cx="494.7" cy="248.5" r="4.5" fill="#9dff64"/><circle cx="495.0" cy="248.6" r="4.5" fill="#9cff64"/><circle cx="495.2" cy="247.7" r="4.5" fill="#9eff62"/><circle cx="495.4" cy="247.1" r="4.5" fill="#a0ff61"/><circle cx="495.6" cy="246.6" r="4.5" fill="#a1ff60"/><circle cx="495.8" cy="246.4" r="4.5" fill="#a1ff5f"/><circle cx="496.0" cy="246.5" r="4.5" fill="#a1ff60"/><circle cx="496.2" cy="246.8" r="4.5" fill="#a1ff60"/><circle cx="496.4" cy="245.7" r="4.5" fill="#a3ff5e"/><circle cx="496.6" cy="247.1" r="4.5" fill="#a0ff61"/><circle cx="496.8" cy="247.8" r="4.5" fill="#9eff63"/><circle cx="497.0" cy="248.2" r="4.5" fill="#9dff64"/><circle cx="497.2" cy="247.7" r="4.5" fill="#9eff63"/><circle cx="497.4" cy="247.5" r="4.5" fill="#9fff62"/><circle cx="497.6" cy="247.8" r="4.5" fill="#9eff63"/><circle cx="497.8" cy="247.9" r="4.5" fill="#9eff63"/><circle cx="498.0" cy="246.6" r="4.5" fill="#a1ff60"/><circle cx="498.2" cy="247.1" r="4.5" fill="#a0ff61"/><circle cx="498.5" cy="249.1" r="4.5" fill="#9bff66"/><circle cx="498.7" cy="247.5" r="4.5" fill="#9fff62"/><circle cx="498.9" cy="248.1" r="4.5" fill="#9dff63"/><circle cx="499.1" cy="248.2" r="4.5" fill="#9dff64"/><circle cx="499.3" cy="248.0" r="4.5" fill="#9eff63"/><circle cx="499.5" cy="248.8" r="4.5" fill="#9cff65"/><circle cx="499.7" cy="247.8" r="4.5" fill="#9eff63"/><circle cx="499.9" cy="247.8" r="4.5" fill="#9eff63"/><circle cx="500.1" cy="248.7" r="4.5" fill="#9cff65"/><circle cx="500.3" cy="248.2" r="4.5" fill="#9dff64"/><circle cx="500.5" cy="247.7" r="4.5" fill="#9fff62"/><circle cx="500.7" cy="247.6" r="4.5" fill="#9fff62"/><circle cx="500.9" cy="247.0" r="4.5" fill="#a0ff61"/><circle cx="501.1" cy="248.0" r="4.5" fill="#9eff63"/><circle cx="501.3" cy="247.1" r="4.5" fill="#a0ff61"/><circle cx="501.5" cy="247.5" r="4.5" fill="#9fff62"/><circle cx="501.8" cy="246.4" r="4.5" fill="#a1ff5f"/><circle cx="502.0" cy="246.8" r="4.5" fill="#a1ff60"/><circle cx="502.2" cy="246.5" r="4.5" fill="#a1ff60"/><circle cx="502.4" cy="244.6" r="4.5" fill="#a6ff5b"/><circle cx="502.6" cy="244.6" r="4.5" fill="#a6ff5b"/><circle cx="502.8" cy="243.9" r="4.5" fill="#a7ff59"/><circle cx="503.0" cy="243.7" r="4.5" fill="#a8ff59"/><circle cx="503.2" cy="244.9" r="4.5" fill="#a5ff5c"/><circle cx="503.4" cy="244.1" r="4.5" fill="#a7ff5a"/><circle cx="503.6" cy="243.4" r="4.5" fill="#a8ff58"/><circle cx="503.8" cy="244.5" r="4.5" fill="#a6ff5b"/><circle cx="504.0" cy="244.6" r="4.5" fill="#a6ff5b"/><circle cx="504.2" cy="245.7" r="4.5" fill="#a3ff5e"/><circle cx="504.4" cy="245.5" r="4.5" fill="#a4ff5d"/><circle cx="504.6" cy="244.1" r="4.5" fill="#a7ff5a"/><circle cx="504.8" cy="244.0" r="4.5" fill="#a7ff5a"/><circle cx="505.0" cy="244.9" r="4.5" fill="#a5ff5c"/><circle cx="505.3" cy="245.5" r="4.5" fill="#a4ff5d"/><circle cx="505.5" cy="245.3" r="4.5" fill="#a4ff5d"/><circle cx="505.7" cy="237.5" r="4.5" fill="#b6ff4a"/><circle cx="505.9" cy="237.3" r="4.5" fill="#b7ff4a"/><circle cx="506.1" cy="236.8" r="4.5" fill="#b8ff49"/><circle cx="506.3" cy="238.1" r="4.5" fill="#b5ff4c"/><circle cx="506.5" cy="232.2" r="4.5" fill="#c2ff3e"/><circle cx="506.7" cy="229.3" r="4.5" fill="#c9ff37"/><circle cx="506.9" cy="228.9" r="4.5" fill="#caff36"/><circle cx="507.1" cy="229.4" r="4.5" fill="#c9ff37"/><circle cx="507.3" cy="229.7" r="4.5" fill="#c8ff38"/><circle cx="507.5" cy="229.5" r="4.5" fill="#c9ff38"/><circle cx="507.7" cy="228.9" r="4.5" fill="#caff36"/><circle cx="507.9" cy="228.9" r="4.5" fill="#caff36"/><circle cx="508.1" cy="227.7" r="4.5" fill="#cdff33"/><circle cx="508.3" cy="226.9" r="4.5" fill="#cfff31"/><circle cx="508.5" cy="227.6" r="4.5" fill="#cdff33"/><circle cx="508.8" cy="227.3" r="4.5" fill="#ceff32"/><circle cx="509.0" cy="227.7" r="4.5" fill="#cdff33"/><circle cx="509.2" cy="228.6" r="4.5" fill="#cbff35"/><circle cx="509.4" cy="229.0" r="4.5" fill="#caff36"/><circle cx="509.6" cy="229.0" r="4.5" fill="#caff36"/><circle cx="509.8" cy="230.4" r="4.5" fill="#c6ff3a"/><circle cx="510.0" cy="230.7" r="4.5" fill="#c6ff3a"/><circle cx="510.2" cy="230.2" r="4.5" fill="#c7ff39"/><circle cx="510.4" cy="230.5" r="4.5" fill="#c6ff3a"/><circle cx="510.6" cy="230.6" r="4.5" fill="#c6ff3a"/><circle cx="510.8" cy="229.7" r="4.5" fill="#c8ff38"/><circle cx="511.0" cy="229.6" r="4.5" fill="#c8ff38"/><circle cx="511.2" cy="229.4" r="4.5" fill="#c9ff37"/><circle cx="511.4" cy="227.9" r="4.5" fill="#ccff34"/><circle cx="511.6" cy="227.8" r="4.5" fill="#ccff34"/><circle cx="511.8" cy="227.7" r="4.5" fill="#cdff33"/><circle cx="512.1" cy="227.4" r="4.5" fill="#cdff33"/><circle cx="512.3" cy="226.3" r="4.5" fill="#d0ff30"/><circle cx="512.5" cy="226.3" r="4.5" fill="#d0ff30"/><circle cx="512.7" cy="226.4" r="4.5" fill="#d0ff30"/><circle cx="512.9" cy="226.7" r="4.5" fill="#cfff31"/><circle cx="513.1" cy="226.0" r="4.5" fill="#d1ff2f"/><circle cx="513.3" cy="226.7" r="4.5" fill="#cfff31"/><circle cx="513.5" cy="226.0" r="4.5" fill="#d1ff2f"/><circle cx="513.7" cy="226.0" r="4.5" fill="#d1ff2f"/><circle cx="513.9" cy="227.2" r="4.5" fill="#ceff32"/><circle cx="514.1" cy="226.8" r="4.5" fill="#cfff31"/><circle cx="514.3" cy="226.5" r="4.5" fill="#d0ff30"/><circle cx="514.5" cy="227.4" r="4.5" fill="#cdff33"/><circle cx="514.7" cy="227.2" r="4.5" fill="#ceff32"/><circle cx="514.9" cy="227.0" r="4.5" fill="#ceff32"/><circle cx="515.1" cy="227.3" r="4.5" fill="#ceff32"/><circle cx="515.3" cy="228.0" r="4.5" fill="#ccff34"/><circle cx="515.6" cy="226.5" r="4.5" fill="#d0ff30"/><circle cx="515.8" cy="226.0" r="4.5" fill="#d1ff2f"/><circle cx="516.0" cy="225.5" r="4.5" fill="#d2ff2e"/><circle cx="516.2" cy="224.9" r="4.5" fill="#d3ff2d"/><circle cx="516.4" cy="224.6" r="4.5" fill="#d4ff2c"/><circle cx="516.6" cy="224.3" r="4.5" fill="#d5ff2b"/><circle cx="516.8" cy="224.8" r="4.5" fill="#d3ff2d"/><circle cx="517.0" cy="224.5" r="4.5" fill="#d4ff2c"/><circle cx="517.2" cy="224.9" r="4.5" fill="#d3ff2d"/><circle cx="517.4" cy="225.4" r="4.5" fill="#d2ff2e"/><circle cx="517.6" cy="225.1" r="4.5" fill="#d3ff2d"/><circle cx="517.8" cy="225.4" r="4.5" fill="#d2ff2e"/><circle cx="518.0" cy="226.8" r="4.5" fill="#cfff31"/><circle cx="518.2" cy="227.0" r="4.5" fill="#ceff32"/><circle cx="518.4" cy="226.6" r="4.5" fill="#cfff31"/><circle cx="518.6" cy="226.7" r="4.5" fill="#cfff31"/><circle cx="518.8" cy="226.1" r="4.5" fill="#d1ff2f"/><circle cx="519.1" cy="226.4" r="4.5" fill="#d0ff30"/><circle cx="519.3" cy="227.1" r="4.5" fill="#ceff32"/><circle cx="519.5" cy="226.6" r="4.5" fill="#cfff31"/><circle cx="519.7" cy="226.6" r="4.5" fill="#cfff31"/><circle cx="519.9" cy="227.5" r="4.5" fill="#cdff33"/><circle cx="520.1" cy="227.1" r="4.5" fill="#ceff32"/><circle cx="520.3" cy="227.3" r="4.5" fill="#ceff32"/><circle cx="520.5" cy="226.7" r="4.5" fill="#cfff31"/><circle cx="520.7" cy="226.2" r="4.5" fill="#d0ff30"/><circle cx="520.9" cy="226.0" r="4.5" fill="#d1ff2f"/><circle cx="521.1" cy="227.7" r="4.5" fill="#cdff33"/><circle cx="521.3" cy="227.4" r="4.5" fill="#cdff33"/><circle cx="521.5" cy="227.1" r="4.5" fill="#ceff32"/><circle cx="521.7" cy="226.8" r="4.5" fill="#cfff31"/><circle cx="521.9" cy="226.8" r="4.5" fill="#cfff31"/><circle cx="522.1" cy="227.3" r="4.5" fill="#ceff32"/><circle cx="522.4" cy="227.5" r="4.5" fill="#cdff33"/><circle cx="522.6" cy="229.0" r="4.5" fill="#caff36"/><circle cx="522.8" cy="229.0" r="4.5" fill="#caff36"/><circle cx="523.0" cy="229.9" r="4.5" fill="#c8ff38"/><circle cx="523.2" cy="229.9" r="4.5" fill="#c8ff38"/><circle cx="523.4" cy="230.1" r="4.5" fill="#c7ff39"/><circle cx="523.6" cy="228.9" r="4.5" fill="#caff36"/><circle cx="523.8" cy="228.7" r="4.5" fill="#cbff36"/><circle cx="524.0" cy="228.5" r="4.5" fill="#cbff35"/><circle cx="524.2" cy="233.8" r="4.5" fill="#bfff42"/><circle cx="524.4" cy="232.3" r="4.5" fill="#c2ff3e"/><circle cx="524.6" cy="233.0" r="4.5" fill="#c0ff40"/><circle cx="524.8" cy="232.8" r="4.5" fill="#c1ff3f"/><circle cx="525.0" cy="232.5" r="4.5" fill="#c2ff3f"/><circle cx="525.2" cy="236.0" r="4.5" fill="#b9ff47"/><circle cx="525.4" cy="237.9" r="4.5" fill="#b5ff4b"/><circle cx="525.6" cy="238.3" r="4.5" fill="#b4ff4c"/><circle cx="525.9" cy="237.5" r="4.5" fill="#b6ff4a"/><circle cx="526.1" cy="237.0" r="4.5" fill="#b7ff49"/><circle cx="526.3" cy="237.4" r="4.5" fill="#b6ff4a"/><circle cx="526.5" cy="243.2" r="4.5" fill="#a9ff58"/><circle cx="526.7" cy="243.0" r="4.5" fill="#a9ff57"/><circle cx="526.9" cy="242.8" r="4.5" fill="#aaff57"/><circle cx="527.1" cy="242.4" r="4.5" fill="#abff56"/><circle cx="527.3" cy="242.5" r="4.5" fill="#aaff56"/><circle cx="527.5" cy="243.5" r="4.5" fill="#a8ff59"/><circle cx="527.7" cy="242.9" r="4.5" fill="#aaff57"/><circle cx="527.9" cy="244.1" r="4.5" fill="#a7ff5a"/><circle cx="528.1" cy="244.7" r="4.5" fill="#a5ff5b"/><circle cx="528.3" cy="244.3" r="4.5" fill="#a6ff5b"/><circle cx="528.5" cy="244.9" r="4.5" fill="#a5ff5c"/><circle cx="528.7" cy="243.8" r="4.5" fill="#a7ff59"/><circle cx="528.9" cy="242.7" r="4.5" fill="#aaff57"/><circle cx="529.1" cy="242.0" r="4.5" fill="#acff55"/><circle cx="529.4" cy="242.0" r="4.5" fill="#acff55"/><circle cx="529.6" cy="242.0" r="4.5" fill="#acff55"/><circle cx="529.8" cy="241.9" r="4.5" fill="#acff55"/><circle cx="530.0" cy="242.2" r="4.5" fill="#abff55"/><circle cx="530.2" cy="241.0" r="4.5" fill="#aeff53"/><circle cx="530.4" cy="241.6" r="4.5" fill="#acff54"/><circle cx="530.6" cy="241.0" r="4.5" fill="#aeff53"/><circle cx="530.8" cy="240.8" r="4.5" fill="#aeff52"/><circle cx="531.0" cy="240.9" r="4.5" fill="#aeff52"/><circle cx="531.2" cy="240.4" r="4.5" fill="#afff51"/><circle cx="531.4" cy="239.8" r="4.5" fill="#b1ff50"/><circle cx="531.6" cy="239.5" r="4.5" fill="#b1ff4f"/><circle cx="531.8" cy="240.0" r="4.5" fill="#b0ff50"/><circle cx="532.0" cy="240.7" r="4.5" fill="#afff52"/><circle cx="532.2" cy="241.4" r="4.5" fill="#adff54"/><circle cx="532.4" cy="241.0" r="4.5" fill="#aeff53"/><circle cx="532.7" cy="240.7" r="4.5" fill="#afff52"/><circle cx="532.9" cy="240.4" r="4.5" fill="#afff51"/><circle cx="533.1" cy="241.0" r="4.5" fill="#aeff53"/><circle cx="533.3" cy="239.9" r="4.5" fill="#b1ff50"/><circle cx="533.5" cy="241.1" r="4.5" fill="#aeff53"/><circle cx="533.7" cy="241.0" r="4.5" fill="#aeff53"/><circle cx="533.9" cy="240.7" r="4.5" fill="#afff52"/><circle cx="534.1" cy="241.2" r="4.5" fill="#aeff53"/><circle cx="534.3" cy="242.1" r="4.5" fill="#abff55"/><circle cx="534.5" cy="242.5" r="4.5" fill="#abff56"/><circle cx="534.7" cy="243.3" r="4.5" fill="#a9ff58"/><circle cx="534.9" cy="243.4" r="4.5" fill="#a9ff58"/><circle cx="535.1" cy="244.2" r="4.5" fill="#a7ff5a"/><circle cx="535.3" cy="244.9" r="4.5" fill="#a5ff5c"/><circle cx="535.5" cy="244.7" r="4.5" fill="#a5ff5b"/><circle cx="535.7" cy="245.5" r="4.5" fill="#a4ff5d"/><circle cx="535.9" cy="245.4" r="4.5" fill="#a4ff5d"/><circle cx="536.2" cy="245.2" r="4.5" fill="#a4ff5d"/><circle cx="536.4" cy="244.3" r="4.5" fill="#a6ff5b"/><circle cx="536.6" cy="244.0" r="4.5" fill="#a7ff5a"/><circle cx="536.8" cy="244.4" r="4.5" fill="#a6ff5b"/><circle cx="537.0" cy="243.4" r="4.5" fill="#a9ff58"/><circle cx="537.2" cy="243.7" r="4.5" fill="#a8ff59"/><circle cx="537.4" cy="243.9" r="4.5" fill="#a7ff59"/><circle cx="537.6" cy="244.0" r="4.5" fill="#a7ff5a"/><circle cx="537.8" cy="242.3" r="4.5" fill="#abff56"/><circle cx="538.0" cy="242.3" r="4.5" fill="#abff56"/><circle cx="538.2" cy="243.0" r="4.5" fill="#a9ff57"/><circle cx="538.4" cy="242.7" r="4.5" fill="#aaff57"/><circle cx="538.6" cy="243.1" r="4.5" fill="#a9ff58"/><circle cx="538.8" cy="241.7" r="4.5" fill="#acff54"/><circle cx="539.0" cy="242.6" r="4.5" fill="#aaff56"/><circle cx="539.2" cy="242.5" r="4.5" fill="#abff56"/><circle cx="539.5" cy="243.5" r="4.5" fill="#a8ff58"/><circle cx="539.7" cy="242.5" r="4.5" fill="#aaff56"/><circle cx="539.9" cy="243.4" r="4.5" fill="#a8ff58"/><circle cx="540.1" cy="243.6" r="4.5" fill="#a8ff59"/><circle cx="540.3" cy="244.5" r="4.5" fill="#a6ff5b"/><circle cx="540.5" cy="244.1" r="4.5" fill="#a7ff5a"/><circle cx="540.7" cy="244.1" r="4.5" fill="#a7ff5a"/><circle cx="540.9" cy="246.0" r="4.5" fill="#a2ff5e"/><circle cx="541.1" cy="245.6" r="4.5" fill="#a3ff5d"/><circle cx="541.3" cy="245.4" r="4.5" fill="#a4ff5d"/><circle cx="541.5" cy="245.5" r="4.5" fill="#a4ff5d"/><circle cx="541.7" cy="245.1" r="4.5" fill="#a4ff5c"/><circle cx="541.9" cy="246.3" r="4.5" fill="#a2ff5f"/><circle cx="542.1" cy="247.7" r="4.5" fill="#9eff63"/><circle cx="542.3" cy="247.4" r="4.5" fill="#9fff62"/><circle cx="542.5" cy="246.5" r="4.5" fill="#a1ff60"/><circle cx="542.7" cy="247.6" r="4.5" fill="#9fff62"/><circle cx="543.0" cy="248.6" r="4.5" fill="#9cff65"/><circle cx="543.2" cy="249.3" r="4.5" fill="#9bff66"/><circle cx="543.4" cy="250.3" r="4.5" fill="#99ff68"/><circle cx="543.6" cy="249.7" r="4.5" fill="#9aff67"/><circle cx="543.8" cy="249.7" r="4.5" fill="#9aff67"/><circle cx="544.0" cy="248.9" r="4.5" fill="#9cff65"/><circle cx="544.2" cy="248.2" r="4.5" fill="#9dff64"/><circle cx="544.4" cy="249.3" r="4.5" fill="#9bff66"/><circle cx="544.6" cy="249.1" r="4.5" fill="#9bff66"/><circle cx="544.8" cy="250.9" r="4.5" fill="#97ff6a"/><circle cx="545.0" cy="251.1" r="4.5" fill="#97ff6b"/><circle cx="545.2" cy="250.8" r="4.5" fill="#97ff6a"/><circle cx="545.4" cy="251.6" r="4.5" fill="#95ff6c"/><circle cx="545.6" cy="252.9" r="4.5" fill="#92ff6f"/><circle cx="545.8" cy="253.2" r="4.5" fill="#92ff6f"/><circle cx="546.0" cy="252.3" r="4.5" fill="#94ff6d"/><circle cx="546.2" cy="252.5" r="4.5" fill="#93ff6e"/><circle cx="546.5" cy="253.5" r="4.5" fill="#91ff70"/><circle cx="546.7" cy="253.1" r="4.5" fill="#92ff6f"/><circle cx="546.9" cy="252.5" r="4.5" fill="#93ff6e"/><circle cx="547.1" cy="253.2" r="4.5" fill="#92ff70"/><circle cx="547.3" cy="253.3" r="4.5" fill="#91ff70"/><circle cx="547.5" cy="252.5" r="4.5" fill="#93ff6e"/><circle cx="547.7" cy="252.4" r="4.5" fill="#94ff6d"/><circle cx="547.9" cy="251.9" r="4.5" fill="#95ff6c"/><circle cx="548.1" cy="252.3" r="4.5" fill="#94ff6d"/><circle cx="548.3" cy="252.5" r="4.5" fill="#93ff6e"/><circle cx="548.5" cy="253.4" r="4.5" fill="#91ff70"/><circle cx="548.7" cy="253.9" r="4.5" fill="#90ff71"/><circle cx="548.9" cy="252.9" r="4.5" fill="#93ff6f"/><circle cx="549.1" cy="253.3" r="4.5" fill="#92ff70"/><circle cx="549.3" cy="254.0" r="4.5" fill="#90ff71"/><circle cx="549.5" cy="254.3" r="4.5" fill="#8fff72"/><circle cx="549.8" cy="255.0" r="4.5" fill="#8eff74"/><circle cx="550.0" cy="254.6" r="4.5" fill="#8fff73"/><circle cx="550.2" cy="253.9" r="4.5" fill="#90ff71"/><circle cx="550.4" cy="254.6" r="4.5" fill="#8fff73"/><circle cx="550.6" cy="253.8" r="4.5" fill="#90ff71"/><circle cx="550.8" cy="252.4" r="4.5" fill="#93ff6e"/><circle cx="551.0" cy="253.3" r="4.5" fill="#91ff70"/><circle cx="551.2" cy="253.0" r="4.5" fill="#92ff6f"/><circle cx="551.4" cy="252.9" r="4.5" fill="#92ff6f"/><circle cx="551.6" cy="252.2" r="4.5" fill="#94ff6d"/><circle cx="551.8" cy="251.5" r="4.5" fill="#96ff6c"/><circle cx="552.0" cy="251.1" r="4.5" fill="#97ff6a"/><circle cx="552.2" cy="251.2" r="4.5" fill="#96ff6b"/><circle cx="552.4" cy="251.9" r="4.5" fill="#95ff6c"/><circle cx="552.6" cy="250.6" r="4.5" fill="#98ff69"/><circle cx="552.8" cy="251.6" r="4.5" fill="#95ff6c"/><circle cx="553.0" cy="251.2" r="4.5" fill="#96ff6b"/><circle cx="553.3" cy="250.8" r="4.5" fill="#97ff6a"/><circle cx="553.5" cy="251.7" r="4.5" fill="#95ff6c"/><circle cx="553.7" cy="252.0" r="4.5" fill="#94ff6d"/><circle cx="553.9" cy="251.3" r="4.5" fill="#96ff6b"/><circle cx="554.1" cy="253.0" r="4.5" fill="#92ff6f"/><circle cx="554.3" cy="252.7" r="4.5" fill="#93ff6e"/><circle cx="554.5" cy="253.1" r="4.5" fill="#92ff6f"/><circle cx="554.7" cy="253.5" r="4.5" fill="#91ff70"/><circle cx="554.9" cy="254.7" r="4.5" fill="#8eff73"/><circle cx="555.1" cy="254.5" r="4.5" fill="#8fff72"/><circle cx="555.3" cy="255.3" r="4.5" fill="#8dff74"/><circle cx="555.5" cy="254.8" r="4.5" fill="#8eff73"/><circle cx="555.7" cy="255.7" r="4.5" fill="#8cff75"/><circle cx="555.9" cy="255.2" r="4.5" fill="#8dff74"/><circle cx="556.1" cy="255.0" r="4.5" fill="#8eff74"/><circle cx="556.3" cy="254.7" r="4.5" fill="#8eff73"/><circle cx="556.5" cy="243.3" r="4.5" fill="#a9ff58"/><circle cx="556.8" cy="243.3" r="4.5" fill="#a9ff58"/><circle cx="557.0" cy="234.2" r="4.5" fill="#beff43"/><circle cx="557.2" cy="234.2" r="4.5" fill="#beff43"/><circle cx="557.4" cy="225.0" r="4.5" fill="#d3ff2d"/><circle cx="557.6" cy="225.0" r="4.5" fill="#d3ff2d"/><circle cx="557.8" cy="225.0" r="4.5" fill="#d3ff2d"/><circle cx="558.0" cy="290.0" r="4.5" fill="#3dffc6"/><circle cx="558.2" cy="290.0" r="4.5" fill="#3dffc6"/><circle cx="558.4" cy="283.5" r="4.5" fill="#4cffb7"/><circle cx="558.6" cy="283.2" r="4.5" fill="#4cffb6"/><circle cx="558.8" cy="283.0" r="4.5" fill="#4dffb6"/><circle cx="559.0" cy="282.7" r="4.5" fill="#4dffb5"/><circle cx="559.2" cy="282.4" r="4.5" fill="#4effb5"/><circle cx="559.4" cy="282.2" r="4.5" fill="#4fffb4"/><circle cx="559.6" cy="281.9" r="4.5" fill="#4fffb3"/><circle cx="559.8" cy="281.7" r="4.5" fill="#50ffb3"/><circle cx="560.0" cy="281.4" r="4.5" fill="#50ffb2"/><circle cx="560.3" cy="281.1" r="4.5" fill="#51ffb1"/><circle cx="560.5" cy="280.9" r="4.5" fill="#52ffb1"/><circle cx="560.7" cy="280.6" r="4.5" fill="#52ffb0"/><circle cx="560.9" cy="280.4" r="4.5" fill="#53ffb0"/><circle cx="561.1" cy="280.1" r="4.5" fill="#54ffaf"/><circle cx="561.3" cy="279.8" r="4.5" fill="#54ffae"/><circle cx="561.5" cy="279.6" r="4.5" fill="#55ffae"/><circle cx="561.7" cy="279.3" r="4.5" fill="#55ffad"/></g>
<rect x="626" y="59.5" width="30" height="420.5" fill="url(#jet)"/>
<rect x="625.5" y="59.5" width="31" height="420.5" fill="none" stroke="#444" stroke-width="1"/>
<line x1="230" y1="21.5" x2="260" y2="21.5" stroke="#0000ff" stroke-opacity="0.42" stroke-width="1"/>
<line x1="338" y1="21.5" x2="368" y2="21.5" stroke="#ff0000" stroke-opacity="0.38" stroke-width="1"/>
<text x="265" y="25.7" font-family="Liberation Serif, Times New Roman, serif" fill="#2a3f5f" font-size="12">BTC Returns</text>
<text x="374.3" y="25.7" font-family="Liberation Serif, Times New Roman, serif" fill="#2a3f5f" font-size="12">T5YIFR Returns</text>
<text x="625" y="51.7" font-family="Liberation Serif, Times New Roman, serif" fill="#2a3f5f" font-size="12">correlation</text>
<text x="659.5" y="63.3" font-family="Liberation Serif, Times New Roman, serif" fill="#2a3f5f" font-size="12">1</text>
<text x="659.5" y="168.4" font-family="Liberation Serif, Times New Roman, serif" fill="#2a3f5f" font-size="12">0.5</text>
<text x="659.5" y="273.5" font-family="Liberation Serif, Times New Roman, serif" fill="#2a3f5f" font-size="12">0</text>
<text x="659.5" y="378.6" font-family="Liberation Serif, Times New Roman, serif" fill="#2a3f5f" font-size="12">−0.5</text>
<text x="659.5" y="483.7" font-family="Liberation Serif, Times New Roman, serif" fill="#2a3f5f" font-size="12">−1</text>
<text x="112" y="503" text-anchor="middle" font-family="Liberation Serif, Times New Roman, serif" fill="#2a3f5f" font-size="12">2012-01-02</text>
<text x="215" y="503" text-anchor="middle" font-family="Liberation Serif, Times New Roman, serif" fill="#2a3f5f" font-size="12">2013-11-22</text>
<text x="318" y="503" text-anchor="middle" font-family="Liberation Serif, Times New Roman, serif" fill="#2a3f5f" font-size="12">2015-10-15</text>
<text x="421" y="503" text-anchor="middle" font-family="Liberation Serif, Times New Roman, serif" fill="#2a3f5f" font-size="12">2017-09-06</text>
<text x="524" y="503" text-anchor="middle" font-family="Liberation Serif, Times New Roman, serif" fill="#2a3f5f" font-size="12">2019-07-30</text>
<text x="61" y="20" font-family="Liberation Serif, Times New Roman, serif" fill="#000" font-size="12">Source: Coin Metrics, FRED</text>
<text x="33" y="-3.5" font-family="Liberation Serif, Times New Roman, serif" fill="#2a3f5f" font-size="17">Rolling 1y daily pct change correlation</text>
</svg>
</body></html>
